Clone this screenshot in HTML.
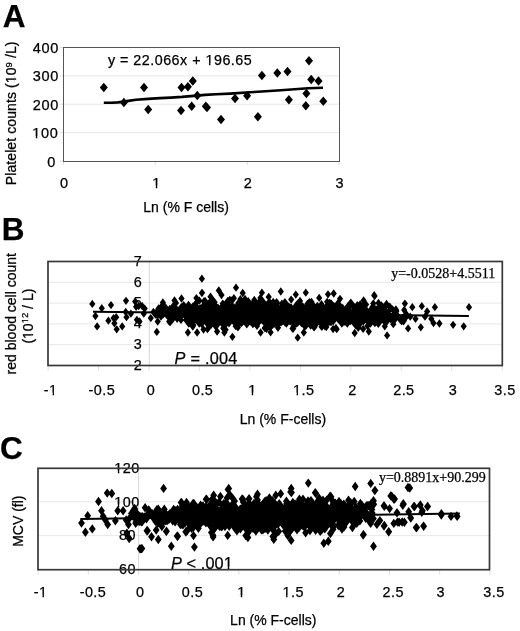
<!DOCTYPE html>
<html><head><meta charset="utf-8"><style>
html,body{margin:0;padding:0;background:#fff;width:520px;height:631px;overflow:hidden}
svg{display:block;will-change:transform;filter:blur(0.35px)}
.S{font-family:"Liberation Sans",sans-serif}
text{stroke:#000;stroke-width:0.25px}
.R{font-family:"Liberation Serif",serif}
</style></head><body>
<svg width="520" height="631" viewBox="0 0 520 631"><rect width="520" height="631" fill="#fff"/><line x1="64" x2="338.5" y1="132.6" y2="132.6" stroke="#e8e8e8"/><line x1="64" x2="338.5" y1="104.2" y2="104.2" stroke="#e8e8e8"/><line x1="64" x2="338.5" y1="75.9" y2="75.9" stroke="#e8e8e8"/><line x1="59.5" x2="63.5" y1="161.0" y2="161.0" stroke="#dedede"/><line x1="59.5" x2="63.5" y1="132.6" y2="132.6" stroke="#dedede"/><line x1="59.5" x2="63.5" y1="104.2" y2="104.2" stroke="#dedede"/><line x1="59.5" x2="63.5" y1="75.9" y2="75.9" stroke="#dedede"/><line x1="59.5" x2="63.5" y1="47.5" y2="47.5" stroke="#dedede"/><line x1="63.5" x2="63.5" y1="161" y2="165" stroke="#dedede"/><line x1="155.3" x2="155.3" y1="161" y2="165" stroke="#dedede"/><line x1="247.2" x2="247.2" y1="161" y2="165" stroke="#dedede"/><line x1="339.0" x2="339.0" y1="161" y2="165" stroke="#dedede"/><rect x="63.5" y="47.5" width="276" height="114" fill="none" stroke="#555555"/><text class="S" x="2.85" y="27.15" font-size="31.5" font-weight="bold">A</text><text class="S" x="47.20" y="166.50" font-size="14.5" letter-spacing="0.7">0</text><text class="S" x="32.27" y="138.12" font-size="14.5" letter-spacing="0.7">100</text><rect x="32.42" y="136.20" width="3.41" height="3.42" fill="#fff"/><rect x="37.28" y="136.20" width="3.30" height="3.42" fill="#fff"/><text class="S" x="32.65" y="109.75" font-size="14.5" letter-spacing="0.7">200</text><text class="S" x="32.65" y="81.38" font-size="14.5" letter-spacing="0.7">300</text><text class="S" x="32.77" y="53.00" font-size="14.5" letter-spacing="0.7">400</text><text class="S" x="60.00" y="187.65" font-size="14.5" letter-spacing="0.7">0</text><text class="S" x="152.25" y="187.65" font-size="14.5" letter-spacing="0.7">1</text><rect x="152.40" y="185.73" width="3.41" height="3.42" fill="#fff"/><rect x="157.26" y="185.73" width="3.30" height="3.42" fill="#fff"/><text class="S" x="243.66" y="187.65" font-size="14.5" letter-spacing="0.7">2</text><text class="S" x="335.49" y="187.65" font-size="14.5" letter-spacing="0.7">3</text><text class="S" x="107.90" y="65.05" font-size="14.3" letter-spacing="0.5">y = 22.066x + 196.65</text><rect x="205.65" y="63.14" width="3.37" height="3.41" fill="#fff"/><rect x="210.45" y="63.14" width="3.26" height="3.41" fill="#fff"/><text class="S" x="143.32" y="212.03" font-size="14.0">Ln (% F cells)</text><text class="S" transform="translate(16.30,185.25) rotate(-90)" font-size="14.0" letter-spacing="0.1">Platelet counts (10<tspan font-size="9.5" dy="-4.8">9</tspan><tspan dy="4.8"> /L)</tspan></text><rect x="102.20" y="-1.88" width="3.32" height="3.38" fill="#fff" transform="translate(16.30,185.25) rotate(-90)"/><rect x="106.92" y="-1.88" width="3.21" height="3.38" fill="#fff" transform="translate(16.30,185.25) rotate(-90)"/><polyline fill="none" stroke="#000" stroke-width="2.6" stroke-linejoin="round" points="103.8,102.7 112,102.7 118,102.4 124,101.6 130,100.6 136,99.8 148,98.9 160,98.1 171,97.6 182,96.9 197,95.6 205,94.9 216,94.3 230,93.6 254,92.0 281,90.2 308,88.3 323,87.8"/><path d="M99.8 87.6l4.0 -4.75 4.0 4.75 -4.0 4.75zM119.9 102.6l4.0 -4.75 4.0 4.75 -4.0 4.75zM140.0 87.6l4.0 -4.75 4.0 4.75 -4.0 4.75zM144.2 109.5l4.0 -4.75 4.0 4.75 -4.0 4.75zM177.5 87.5l4.0 -4.75 4.0 4.75 -4.0 4.75zM183.9 86.7l4.0 -4.75 4.0 4.75 -4.0 4.75zM188.8 81.0l4.0 -4.75 4.0 4.75 -4.0 4.75zM193.3 95.6l4.0 -4.75 4.0 4.75 -4.0 4.75zM177.0 110.4l4.0 -4.75 4.0 4.75 -4.0 4.75zM187.7 106.3l4.0 -4.75 4.0 4.75 -4.0 4.75zM201.8 106.3l4.0 -4.75 4.0 4.75 -4.0 4.75zM203.0 107.5l4.0 -4.75 4.0 4.75 -4.0 4.75zM217.0 119.6l4.0 -4.75 4.0 4.75 -4.0 4.75zM231.0 98.5l4.0 -4.75 4.0 4.75 -4.0 4.75zM243.1 95.8l4.0 -4.75 4.0 4.75 -4.0 4.75zM253.9 116.8l4.0 -4.75 4.0 4.75 -4.0 4.75zM257.9 75.6l4.0 -4.75 4.0 4.75 -4.0 4.75zM273.3 72.9l4.0 -4.75 4.0 4.75 -4.0 4.75zM283.5 71.5l4.0 -4.75 4.0 4.75 -4.0 4.75zM284.9 99.8l4.0 -4.75 4.0 4.75 -4.0 4.75zM305.0 60.8l4.0 -4.75 4.0 4.75 -4.0 4.75zM307.2 79.6l4.0 -4.75 4.0 4.75 -4.0 4.75zM314.5 81.0l4.0 -4.75 4.0 4.75 -4.0 4.75zM302.4 93.6l4.0 -4.75 4.0 4.75 -4.0 4.75zM301.8 105.7l4.0 -4.75 4.0 4.75 -4.0 4.75zM319.3 101.2l4.0 -4.75 4.0 4.75 -4.0 4.75z"/><line x1="49" x2="501.5" y1="344.7" y2="344.7" stroke="#e8e8e8"/><line x1="49" x2="501.5" y1="323.9" y2="323.9" stroke="#e8e8e8"/><line x1="49" x2="501.5" y1="303.1" y2="303.1" stroke="#e8e8e8"/><line x1="49" x2="501.5" y1="282.3" y2="282.3" stroke="#e8e8e8"/><line x1="149.3" x2="149.3" y1="262" y2="365" stroke="#d8d8d8"/><line x1="48.1" x2="48.1" y1="366" y2="371" stroke="#e2e2e2"/><line x1="98.5" x2="98.5" y1="366" y2="371" stroke="#e2e2e2"/><line x1="149.0" x2="149.0" y1="366" y2="371" stroke="#e2e2e2"/><line x1="199.4" x2="199.4" y1="366" y2="371" stroke="#e2e2e2"/><line x1="249.9" x2="249.9" y1="366" y2="371" stroke="#e2e2e2"/><line x1="300.4" x2="300.4" y1="366" y2="371" stroke="#e2e2e2"/><line x1="350.8" x2="350.8" y1="366" y2="371" stroke="#e2e2e2"/><line x1="401.2" x2="401.2" y1="366" y2="371" stroke="#e2e2e2"/><line x1="451.7" x2="451.7" y1="366" y2="371" stroke="#e2e2e2"/><line x1="502.2" x2="502.2" y1="366" y2="371" stroke="#e2e2e2"/><text class="S" x="133.70" y="369.70" font-size="14.4" letter-spacing="0.45">2</text><text class="S" x="133.70" y="348.90" font-size="14.4" letter-spacing="0.45">3</text><text class="S" x="133.70" y="327.97" font-size="14.4" letter-spacing="0.45">4</text><text class="S" x="133.70" y="307.18" font-size="14.4" letter-spacing="0.45">5</text><text class="S" x="133.70" y="286.50" font-size="14.4" letter-spacing="0.45">6</text><text class="S" x="133.70" y="265.57" font-size="14.4" letter-spacing="0.45">7</text><path d="M345.5 308.0l3.1 -4.15 3.1 4.15 -3.1 4.15zM352.0 317.6l3.1 -4.15 3.1 4.15 -3.1 4.15zM345.1 314.0l3.1 -4.15 3.1 4.15 -3.1 4.15zM154.9 310.1l3.1 -4.15 3.1 4.15 -3.1 4.15zM203.2 314.5l3.1 -4.15 3.1 4.15 -3.1 4.15zM275.8 321.8l3.1 -4.15 3.1 4.15 -3.1 4.15zM203.8 323.3l3.1 -4.15 3.1 4.15 -3.1 4.15zM291.6 315.9l3.1 -4.15 3.1 4.15 -3.1 4.15zM178.3 310.6l3.1 -4.15 3.1 4.15 -3.1 4.15zM256.6 301.3l3.1 -4.15 3.1 4.15 -3.1 4.15zM225.8 316.9l3.1 -4.15 3.1 4.15 -3.1 4.15zM300.0 306.8l3.1 -4.15 3.1 4.15 -3.1 4.15zM354.2 305.1l3.1 -4.15 3.1 4.15 -3.1 4.15zM322.3 311.9l3.1 -4.15 3.1 4.15 -3.1 4.15zM279.1 309.0l3.1 -4.15 3.1 4.15 -3.1 4.15zM154.6 315.0l3.1 -4.15 3.1 4.15 -3.1 4.15zM249.2 322.8l3.1 -4.15 3.1 4.15 -3.1 4.15zM287.2 312.5l3.1 -4.15 3.1 4.15 -3.1 4.15zM280.5 309.8l3.1 -4.15 3.1 4.15 -3.1 4.15zM289.4 315.5l3.1 -4.15 3.1 4.15 -3.1 4.15zM292.9 320.7l3.1 -4.15 3.1 4.15 -3.1 4.15zM198.9 308.1l3.1 -4.15 3.1 4.15 -3.1 4.15zM239.7 308.2l3.1 -4.15 3.1 4.15 -3.1 4.15zM266.0 306.5l3.1 -4.15 3.1 4.15 -3.1 4.15zM193.0 315.5l3.1 -4.15 3.1 4.15 -3.1 4.15zM359.2 306.9l3.1 -4.15 3.1 4.15 -3.1 4.15zM321.9 326.3l3.1 -4.15 3.1 4.15 -3.1 4.15zM211.8 314.0l3.1 -4.15 3.1 4.15 -3.1 4.15zM236.4 308.9l3.1 -4.15 3.1 4.15 -3.1 4.15zM217.9 312.7l3.1 -4.15 3.1 4.15 -3.1 4.15zM230.6 307.4l3.1 -4.15 3.1 4.15 -3.1 4.15zM195.8 316.4l3.1 -4.15 3.1 4.15 -3.1 4.15zM279.5 314.3l3.1 -4.15 3.1 4.15 -3.1 4.15zM333.8 313.6l3.1 -4.15 3.1 4.15 -3.1 4.15zM323.2 327.0l3.1 -4.15 3.1 4.15 -3.1 4.15zM281.2 312.4l3.1 -4.15 3.1 4.15 -3.1 4.15zM249.6 312.3l3.1 -4.15 3.1 4.15 -3.1 4.15zM224.5 311.9l3.1 -4.15 3.1 4.15 -3.1 4.15zM226.6 321.6l3.1 -4.15 3.1 4.15 -3.1 4.15zM255.1 309.0l3.1 -4.15 3.1 4.15 -3.1 4.15zM375.4 320.7l3.1 -4.15 3.1 4.15 -3.1 4.15zM279.2 312.2l3.1 -4.15 3.1 4.15 -3.1 4.15zM200.4 313.9l3.1 -4.15 3.1 4.15 -3.1 4.15zM320.0 316.6l3.1 -4.15 3.1 4.15 -3.1 4.15zM231.5 317.0l3.1 -4.15 3.1 4.15 -3.1 4.15zM232.1 313.8l3.1 -4.15 3.1 4.15 -3.1 4.15zM235.1 320.0l3.1 -4.15 3.1 4.15 -3.1 4.15zM236.3 302.7l3.1 -4.15 3.1 4.15 -3.1 4.15zM272.9 313.3l3.1 -4.15 3.1 4.15 -3.1 4.15zM202.3 310.8l3.1 -4.15 3.1 4.15 -3.1 4.15zM235.4 302.8l3.1 -4.15 3.1 4.15 -3.1 4.15zM377.6 308.0l3.1 -4.15 3.1 4.15 -3.1 4.15zM174.0 318.8l3.1 -4.15 3.1 4.15 -3.1 4.15zM362.3 308.8l3.1 -4.15 3.1 4.15 -3.1 4.15zM350.2 315.0l3.1 -4.15 3.1 4.15 -3.1 4.15zM216.2 315.4l3.1 -4.15 3.1 4.15 -3.1 4.15zM219.0 321.3l3.1 -4.15 3.1 4.15 -3.1 4.15zM170.7 313.1l3.1 -4.15 3.1 4.15 -3.1 4.15zM176.9 312.7l3.1 -4.15 3.1 4.15 -3.1 4.15zM223.3 310.8l3.1 -4.15 3.1 4.15 -3.1 4.15zM157.2 311.3l3.1 -4.15 3.1 4.15 -3.1 4.15zM263.9 323.4l3.1 -4.15 3.1 4.15 -3.1 4.15zM202.9 305.1l3.1 -4.15 3.1 4.15 -3.1 4.15zM319.0 312.2l3.1 -4.15 3.1 4.15 -3.1 4.15zM226.8 309.2l3.1 -4.15 3.1 4.15 -3.1 4.15zM263.4 328.9l3.1 -4.15 3.1 4.15 -3.1 4.15zM226.7 319.9l3.1 -4.15 3.1 4.15 -3.1 4.15zM225.6 303.9l3.1 -4.15 3.1 4.15 -3.1 4.15zM297.4 319.6l3.1 -4.15 3.1 4.15 -3.1 4.15zM165.3 313.0l3.1 -4.15 3.1 4.15 -3.1 4.15zM222.5 315.3l3.1 -4.15 3.1 4.15 -3.1 4.15zM277.3 310.6l3.1 -4.15 3.1 4.15 -3.1 4.15zM360.5 300.5l3.1 -4.15 3.1 4.15 -3.1 4.15zM223.2 311.8l3.1 -4.15 3.1 4.15 -3.1 4.15zM383.6 321.8l3.1 -4.15 3.1 4.15 -3.1 4.15zM193.2 306.0l3.1 -4.15 3.1 4.15 -3.1 4.15zM212.6 315.6l3.1 -4.15 3.1 4.15 -3.1 4.15zM287.7 307.6l3.1 -4.15 3.1 4.15 -3.1 4.15zM249.8 321.3l3.1 -4.15 3.1 4.15 -3.1 4.15zM255.2 315.3l3.1 -4.15 3.1 4.15 -3.1 4.15zM239.2 312.6l3.1 -4.15 3.1 4.15 -3.1 4.15zM250.3 323.7l3.1 -4.15 3.1 4.15 -3.1 4.15zM207.6 305.3l3.1 -4.15 3.1 4.15 -3.1 4.15zM260.9 313.6l3.1 -4.15 3.1 4.15 -3.1 4.15zM208.9 314.0l3.1 -4.15 3.1 4.15 -3.1 4.15zM292.6 319.5l3.1 -4.15 3.1 4.15 -3.1 4.15zM218.5 321.3l3.1 -4.15 3.1 4.15 -3.1 4.15zM375.0 317.3l3.1 -4.15 3.1 4.15 -3.1 4.15zM243.5 304.7l3.1 -4.15 3.1 4.15 -3.1 4.15zM295.4 308.1l3.1 -4.15 3.1 4.15 -3.1 4.15zM203.5 320.8l3.1 -4.15 3.1 4.15 -3.1 4.15zM333.4 316.9l3.1 -4.15 3.1 4.15 -3.1 4.15zM189.7 324.5l3.1 -4.15 3.1 4.15 -3.1 4.15zM310.3 313.1l3.1 -4.15 3.1 4.15 -3.1 4.15zM318.4 326.7l3.1 -4.15 3.1 4.15 -3.1 4.15zM246.3 306.9l3.1 -4.15 3.1 4.15 -3.1 4.15zM189.7 326.5l3.1 -4.15 3.1 4.15 -3.1 4.15zM253.0 306.2l3.1 -4.15 3.1 4.15 -3.1 4.15zM211.4 316.1l3.1 -4.15 3.1 4.15 -3.1 4.15zM304.4 321.7l3.1 -4.15 3.1 4.15 -3.1 4.15zM220.9 309.7l3.1 -4.15 3.1 4.15 -3.1 4.15zM288.7 311.9l3.1 -4.15 3.1 4.15 -3.1 4.15zM246.5 314.9l3.1 -4.15 3.1 4.15 -3.1 4.15zM341.2 312.3l3.1 -4.15 3.1 4.15 -3.1 4.15zM182.4 311.0l3.1 -4.15 3.1 4.15 -3.1 4.15zM239.7 321.7l3.1 -4.15 3.1 4.15 -3.1 4.15zM261.9 306.1l3.1 -4.15 3.1 4.15 -3.1 4.15zM324.6 319.7l3.1 -4.15 3.1 4.15 -3.1 4.15zM245.1 311.8l3.1 -4.15 3.1 4.15 -3.1 4.15zM279.7 321.1l3.1 -4.15 3.1 4.15 -3.1 4.15zM226.3 308.3l3.1 -4.15 3.1 4.15 -3.1 4.15zM257.6 312.7l3.1 -4.15 3.1 4.15 -3.1 4.15zM298.9 314.1l3.1 -4.15 3.1 4.15 -3.1 4.15zM315.6 308.2l3.1 -4.15 3.1 4.15 -3.1 4.15zM310.5 316.3l3.1 -4.15 3.1 4.15 -3.1 4.15zM304.3 303.9l3.1 -4.15 3.1 4.15 -3.1 4.15zM288.4 308.0l3.1 -4.15 3.1 4.15 -3.1 4.15zM340.5 315.1l3.1 -4.15 3.1 4.15 -3.1 4.15zM317.7 321.9l3.1 -4.15 3.1 4.15 -3.1 4.15zM251.4 310.8l3.1 -4.15 3.1 4.15 -3.1 4.15zM201.2 312.8l3.1 -4.15 3.1 4.15 -3.1 4.15zM242.6 315.6l3.1 -4.15 3.1 4.15 -3.1 4.15zM190.7 314.4l3.1 -4.15 3.1 4.15 -3.1 4.15zM305.4 310.2l3.1 -4.15 3.1 4.15 -3.1 4.15zM191.7 311.3l3.1 -4.15 3.1 4.15 -3.1 4.15zM366.3 317.7l3.1 -4.15 3.1 4.15 -3.1 4.15zM308.7 314.9l3.1 -4.15 3.1 4.15 -3.1 4.15zM196.3 300.7l3.1 -4.15 3.1 4.15 -3.1 4.15zM304.5 316.1l3.1 -4.15 3.1 4.15 -3.1 4.15zM333.0 316.5l3.1 -4.15 3.1 4.15 -3.1 4.15zM209.4 312.3l3.1 -4.15 3.1 4.15 -3.1 4.15zM250.1 316.9l3.1 -4.15 3.1 4.15 -3.1 4.15zM195.5 315.6l3.1 -4.15 3.1 4.15 -3.1 4.15zM306.3 311.8l3.1 -4.15 3.1 4.15 -3.1 4.15zM275.6 315.4l3.1 -4.15 3.1 4.15 -3.1 4.15zM267.2 327.6l3.1 -4.15 3.1 4.15 -3.1 4.15zM332.8 328.0l3.1 -4.15 3.1 4.15 -3.1 4.15zM369.9 306.9l3.1 -4.15 3.1 4.15 -3.1 4.15zM297.8 320.7l3.1 -4.15 3.1 4.15 -3.1 4.15zM319.8 308.3l3.1 -4.15 3.1 4.15 -3.1 4.15zM180.7 313.7l3.1 -4.15 3.1 4.15 -3.1 4.15zM177.4 312.0l3.1 -4.15 3.1 4.15 -3.1 4.15zM312.7 318.7l3.1 -4.15 3.1 4.15 -3.1 4.15zM248.2 307.0l3.1 -4.15 3.1 4.15 -3.1 4.15zM313.7 323.3l3.1 -4.15 3.1 4.15 -3.1 4.15zM237.8 310.6l3.1 -4.15 3.1 4.15 -3.1 4.15zM282.7 310.9l3.1 -4.15 3.1 4.15 -3.1 4.15zM319.1 316.1l3.1 -4.15 3.1 4.15 -3.1 4.15zM212.3 326.0l3.1 -4.15 3.1 4.15 -3.1 4.15zM368.5 308.7l3.1 -4.15 3.1 4.15 -3.1 4.15zM243.2 305.5l3.1 -4.15 3.1 4.15 -3.1 4.15zM180.2 312.0l3.1 -4.15 3.1 4.15 -3.1 4.15zM376.3 321.9l3.1 -4.15 3.1 4.15 -3.1 4.15zM169.2 316.2l3.1 -4.15 3.1 4.15 -3.1 4.15zM337.4 317.9l3.1 -4.15 3.1 4.15 -3.1 4.15zM369.4 306.9l3.1 -4.15 3.1 4.15 -3.1 4.15zM210.7 308.1l3.1 -4.15 3.1 4.15 -3.1 4.15zM263.5 321.7l3.1 -4.15 3.1 4.15 -3.1 4.15zM286.2 313.2l3.1 -4.15 3.1 4.15 -3.1 4.15zM243.2 317.7l3.1 -4.15 3.1 4.15 -3.1 4.15zM236.7 317.7l3.1 -4.15 3.1 4.15 -3.1 4.15zM228.4 306.1l3.1 -4.15 3.1 4.15 -3.1 4.15zM231.5 310.3l3.1 -4.15 3.1 4.15 -3.1 4.15zM232.1 312.9l3.1 -4.15 3.1 4.15 -3.1 4.15zM271.6 323.6l3.1 -4.15 3.1 4.15 -3.1 4.15zM355.3 313.1l3.1 -4.15 3.1 4.15 -3.1 4.15zM296.6 311.5l3.1 -4.15 3.1 4.15 -3.1 4.15zM240.9 304.9l3.1 -4.15 3.1 4.15 -3.1 4.15zM251.6 310.4l3.1 -4.15 3.1 4.15 -3.1 4.15zM293.2 313.1l3.1 -4.15 3.1 4.15 -3.1 4.15zM253.8 321.3l3.1 -4.15 3.1 4.15 -3.1 4.15zM216.0 317.2l3.1 -4.15 3.1 4.15 -3.1 4.15zM311.3 327.2l3.1 -4.15 3.1 4.15 -3.1 4.15zM314.1 318.8l3.1 -4.15 3.1 4.15 -3.1 4.15zM220.7 320.8l3.1 -4.15 3.1 4.15 -3.1 4.15zM257.5 305.1l3.1 -4.15 3.1 4.15 -3.1 4.15zM199.3 307.0l3.1 -4.15 3.1 4.15 -3.1 4.15zM251.9 313.0l3.1 -4.15 3.1 4.15 -3.1 4.15zM298.9 310.7l3.1 -4.15 3.1 4.15 -3.1 4.15zM224.7 314.6l3.1 -4.15 3.1 4.15 -3.1 4.15zM178.1 312.6l3.1 -4.15 3.1 4.15 -3.1 4.15zM288.1 299.6l3.1 -4.15 3.1 4.15 -3.1 4.15zM283.6 319.2l3.1 -4.15 3.1 4.15 -3.1 4.15zM310.7 312.7l3.1 -4.15 3.1 4.15 -3.1 4.15zM278.5 317.1l3.1 -4.15 3.1 4.15 -3.1 4.15zM338.3 314.1l3.1 -4.15 3.1 4.15 -3.1 4.15zM251.5 308.0l3.1 -4.15 3.1 4.15 -3.1 4.15zM246.6 303.4l3.1 -4.15 3.1 4.15 -3.1 4.15zM243.8 310.4l3.1 -4.15 3.1 4.15 -3.1 4.15zM177.2 316.4l3.1 -4.15 3.1 4.15 -3.1 4.15zM214.6 308.8l3.1 -4.15 3.1 4.15 -3.1 4.15zM214.0 331.5l3.1 -4.15 3.1 4.15 -3.1 4.15zM326.6 306.4l3.1 -4.15 3.1 4.15 -3.1 4.15zM274.7 314.6l3.1 -4.15 3.1 4.15 -3.1 4.15zM170.7 312.8l3.1 -4.15 3.1 4.15 -3.1 4.15zM212.7 314.4l3.1 -4.15 3.1 4.15 -3.1 4.15zM250.7 319.9l3.1 -4.15 3.1 4.15 -3.1 4.15zM285.9 317.9l3.1 -4.15 3.1 4.15 -3.1 4.15zM290.6 317.1l3.1 -4.15 3.1 4.15 -3.1 4.15zM219.4 316.1l3.1 -4.15 3.1 4.15 -3.1 4.15zM322.9 312.3l3.1 -4.15 3.1 4.15 -3.1 4.15zM278.9 308.4l3.1 -4.15 3.1 4.15 -3.1 4.15zM368.9 317.4l3.1 -4.15 3.1 4.15 -3.1 4.15zM282.3 311.9l3.1 -4.15 3.1 4.15 -3.1 4.15zM274.9 315.9l3.1 -4.15 3.1 4.15 -3.1 4.15zM234.5 325.8l3.1 -4.15 3.1 4.15 -3.1 4.15zM216.5 313.8l3.1 -4.15 3.1 4.15 -3.1 4.15zM206.3 302.7l3.1 -4.15 3.1 4.15 -3.1 4.15zM253.9 304.2l3.1 -4.15 3.1 4.15 -3.1 4.15zM305.2 311.4l3.1 -4.15 3.1 4.15 -3.1 4.15zM219.6 314.4l3.1 -4.15 3.1 4.15 -3.1 4.15zM269.2 318.8l3.1 -4.15 3.1 4.15 -3.1 4.15zM194.0 311.3l3.1 -4.15 3.1 4.15 -3.1 4.15zM231.7 313.0l3.1 -4.15 3.1 4.15 -3.1 4.15zM228.9 315.4l3.1 -4.15 3.1 4.15 -3.1 4.15zM213.6 315.3l3.1 -4.15 3.1 4.15 -3.1 4.15zM329.7 314.9l3.1 -4.15 3.1 4.15 -3.1 4.15zM294.5 317.6l3.1 -4.15 3.1 4.15 -3.1 4.15zM226.3 315.1l3.1 -4.15 3.1 4.15 -3.1 4.15zM303.2 325.3l3.1 -4.15 3.1 4.15 -3.1 4.15zM232.7 314.4l3.1 -4.15 3.1 4.15 -3.1 4.15zM157.6 307.4l3.1 -4.15 3.1 4.15 -3.1 4.15zM173.7 313.6l3.1 -4.15 3.1 4.15 -3.1 4.15zM183.0 313.2l3.1 -4.15 3.1 4.15 -3.1 4.15zM312.9 313.3l3.1 -4.15 3.1 4.15 -3.1 4.15zM230.6 319.8l3.1 -4.15 3.1 4.15 -3.1 4.15zM323.4 308.5l3.1 -4.15 3.1 4.15 -3.1 4.15zM249.3 310.9l3.1 -4.15 3.1 4.15 -3.1 4.15zM289.7 315.7l3.1 -4.15 3.1 4.15 -3.1 4.15zM259.9 317.0l3.1 -4.15 3.1 4.15 -3.1 4.15zM217.3 311.1l3.1 -4.15 3.1 4.15 -3.1 4.15zM244.0 314.9l3.1 -4.15 3.1 4.15 -3.1 4.15zM288.5 313.5l3.1 -4.15 3.1 4.15 -3.1 4.15zM227.0 311.6l3.1 -4.15 3.1 4.15 -3.1 4.15zM384.4 316.9l3.1 -4.15 3.1 4.15 -3.1 4.15zM367.4 323.5l3.1 -4.15 3.1 4.15 -3.1 4.15zM246.2 308.7l3.1 -4.15 3.1 4.15 -3.1 4.15zM320.3 311.9l3.1 -4.15 3.1 4.15 -3.1 4.15zM245.6 304.4l3.1 -4.15 3.1 4.15 -3.1 4.15zM302.5 316.5l3.1 -4.15 3.1 4.15 -3.1 4.15zM253.1 311.6l3.1 -4.15 3.1 4.15 -3.1 4.15zM330.0 314.8l3.1 -4.15 3.1 4.15 -3.1 4.15zM175.8 310.9l3.1 -4.15 3.1 4.15 -3.1 4.15zM317.2 317.6l3.1 -4.15 3.1 4.15 -3.1 4.15zM210.6 306.6l3.1 -4.15 3.1 4.15 -3.1 4.15zM347.6 312.9l3.1 -4.15 3.1 4.15 -3.1 4.15zM244.7 305.7l3.1 -4.15 3.1 4.15 -3.1 4.15zM312.0 318.4l3.1 -4.15 3.1 4.15 -3.1 4.15zM191.7 308.9l3.1 -4.15 3.1 4.15 -3.1 4.15zM400.5 321.3l3.1 -4.15 3.1 4.15 -3.1 4.15zM246.5 312.8l3.1 -4.15 3.1 4.15 -3.1 4.15zM234.2 311.0l3.1 -4.15 3.1 4.15 -3.1 4.15zM350.9 306.6l3.1 -4.15 3.1 4.15 -3.1 4.15zM334.9 314.9l3.1 -4.15 3.1 4.15 -3.1 4.15zM287.8 315.6l3.1 -4.15 3.1 4.15 -3.1 4.15zM244.7 309.9l3.1 -4.15 3.1 4.15 -3.1 4.15zM166.3 309.5l3.1 -4.15 3.1 4.15 -3.1 4.15zM221.9 304.9l3.1 -4.15 3.1 4.15 -3.1 4.15zM311.7 309.1l3.1 -4.15 3.1 4.15 -3.1 4.15zM319.1 312.6l3.1 -4.15 3.1 4.15 -3.1 4.15zM299.1 317.6l3.1 -4.15 3.1 4.15 -3.1 4.15zM326.5 303.0l3.1 -4.15 3.1 4.15 -3.1 4.15zM211.4 308.6l3.1 -4.15 3.1 4.15 -3.1 4.15zM292.5 309.8l3.1 -4.15 3.1 4.15 -3.1 4.15zM228.0 300.3l3.1 -4.15 3.1 4.15 -3.1 4.15zM330.9 306.2l3.1 -4.15 3.1 4.15 -3.1 4.15zM263.6 316.4l3.1 -4.15 3.1 4.15 -3.1 4.15zM248.1 318.3l3.1 -4.15 3.1 4.15 -3.1 4.15zM240.5 318.7l3.1 -4.15 3.1 4.15 -3.1 4.15zM308.6 306.5l3.1 -4.15 3.1 4.15 -3.1 4.15zM184.0 312.0l3.1 -4.15 3.1 4.15 -3.1 4.15zM185.6 317.7l3.1 -4.15 3.1 4.15 -3.1 4.15zM198.0 314.7l3.1 -4.15 3.1 4.15 -3.1 4.15zM290.9 321.5l3.1 -4.15 3.1 4.15 -3.1 4.15zM309.5 322.5l3.1 -4.15 3.1 4.15 -3.1 4.15zM246.4 316.7l3.1 -4.15 3.1 4.15 -3.1 4.15zM246.1 318.6l3.1 -4.15 3.1 4.15 -3.1 4.15zM364.9 314.5l3.1 -4.15 3.1 4.15 -3.1 4.15zM237.3 315.8l3.1 -4.15 3.1 4.15 -3.1 4.15zM267.4 310.5l3.1 -4.15 3.1 4.15 -3.1 4.15zM301.0 314.1l3.1 -4.15 3.1 4.15 -3.1 4.15zM362.3 316.4l3.1 -4.15 3.1 4.15 -3.1 4.15zM311.6 310.5l3.1 -4.15 3.1 4.15 -3.1 4.15zM359.9 314.7l3.1 -4.15 3.1 4.15 -3.1 4.15zM213.1 317.0l3.1 -4.15 3.1 4.15 -3.1 4.15zM245.2 322.3l3.1 -4.15 3.1 4.15 -3.1 4.15zM216.5 318.8l3.1 -4.15 3.1 4.15 -3.1 4.15zM346.8 312.0l3.1 -4.15 3.1 4.15 -3.1 4.15zM264.9 317.9l3.1 -4.15 3.1 4.15 -3.1 4.15zM261.8 307.7l3.1 -4.15 3.1 4.15 -3.1 4.15zM196.3 314.5l3.1 -4.15 3.1 4.15 -3.1 4.15zM348.9 318.9l3.1 -4.15 3.1 4.15 -3.1 4.15zM266.1 323.5l3.1 -4.15 3.1 4.15 -3.1 4.15zM221.1 322.7l3.1 -4.15 3.1 4.15 -3.1 4.15zM249.9 317.8l3.1 -4.15 3.1 4.15 -3.1 4.15zM249.4 307.0l3.1 -4.15 3.1 4.15 -3.1 4.15zM257.9 317.9l3.1 -4.15 3.1 4.15 -3.1 4.15zM368.2 319.8l3.1 -4.15 3.1 4.15 -3.1 4.15zM254.8 311.3l3.1 -4.15 3.1 4.15 -3.1 4.15zM296.1 312.9l3.1 -4.15 3.1 4.15 -3.1 4.15zM234.4 308.8l3.1 -4.15 3.1 4.15 -3.1 4.15zM273.0 308.4l3.1 -4.15 3.1 4.15 -3.1 4.15zM262.9 316.9l3.1 -4.15 3.1 4.15 -3.1 4.15zM231.4 313.4l3.1 -4.15 3.1 4.15 -3.1 4.15zM185.4 304.8l3.1 -4.15 3.1 4.15 -3.1 4.15zM305.2 313.4l3.1 -4.15 3.1 4.15 -3.1 4.15zM310.9 320.9l3.1 -4.15 3.1 4.15 -3.1 4.15zM296.1 312.2l3.1 -4.15 3.1 4.15 -3.1 4.15zM216.4 312.6l3.1 -4.15 3.1 4.15 -3.1 4.15zM201.7 308.9l3.1 -4.15 3.1 4.15 -3.1 4.15zM338.7 323.5l3.1 -4.15 3.1 4.15 -3.1 4.15zM181.5 311.7l3.1 -4.15 3.1 4.15 -3.1 4.15zM341.2 314.5l3.1 -4.15 3.1 4.15 -3.1 4.15zM257.3 298.0l3.1 -4.15 3.1 4.15 -3.1 4.15zM176.7 314.9l3.1 -4.15 3.1 4.15 -3.1 4.15zM197.9 315.8l3.1 -4.15 3.1 4.15 -3.1 4.15zM234.0 315.8l3.1 -4.15 3.1 4.15 -3.1 4.15zM290.4 326.3l3.1 -4.15 3.1 4.15 -3.1 4.15zM201.4 309.3l3.1 -4.15 3.1 4.15 -3.1 4.15zM316.8 319.5l3.1 -4.15 3.1 4.15 -3.1 4.15zM324.8 309.2l3.1 -4.15 3.1 4.15 -3.1 4.15zM152.9 314.9l3.1 -4.15 3.1 4.15 -3.1 4.15zM309.6 306.6l3.1 -4.15 3.1 4.15 -3.1 4.15zM236.2 316.9l3.1 -4.15 3.1 4.15 -3.1 4.15zM293.4 306.0l3.1 -4.15 3.1 4.15 -3.1 4.15zM296.6 315.2l3.1 -4.15 3.1 4.15 -3.1 4.15zM269.4 306.9l3.1 -4.15 3.1 4.15 -3.1 4.15zM214.3 312.1l3.1 -4.15 3.1 4.15 -3.1 4.15zM378.8 311.7l3.1 -4.15 3.1 4.15 -3.1 4.15zM327.9 303.5l3.1 -4.15 3.1 4.15 -3.1 4.15zM260.6 313.8l3.1 -4.15 3.1 4.15 -3.1 4.15zM226.6 312.6l3.1 -4.15 3.1 4.15 -3.1 4.15zM300.1 314.7l3.1 -4.15 3.1 4.15 -3.1 4.15zM314.7 316.4l3.1 -4.15 3.1 4.15 -3.1 4.15zM207.4 316.9l3.1 -4.15 3.1 4.15 -3.1 4.15zM278.0 322.3l3.1 -4.15 3.1 4.15 -3.1 4.15zM223.3 302.8l3.1 -4.15 3.1 4.15 -3.1 4.15zM166.2 314.4l3.1 -4.15 3.1 4.15 -3.1 4.15zM304.9 314.4l3.1 -4.15 3.1 4.15 -3.1 4.15zM201.5 318.4l3.1 -4.15 3.1 4.15 -3.1 4.15zM226.8 318.4l3.1 -4.15 3.1 4.15 -3.1 4.15zM290.9 315.0l3.1 -4.15 3.1 4.15 -3.1 4.15zM229.5 311.6l3.1 -4.15 3.1 4.15 -3.1 4.15zM218.7 319.8l3.1 -4.15 3.1 4.15 -3.1 4.15zM277.2 313.8l3.1 -4.15 3.1 4.15 -3.1 4.15zM215.7 290.5l3.1 -4.15 3.1 4.15 -3.1 4.15zM279.8 315.9l3.1 -4.15 3.1 4.15 -3.1 4.15zM164.1 312.5l3.1 -4.15 3.1 4.15 -3.1 4.15zM233.4 314.6l3.1 -4.15 3.1 4.15 -3.1 4.15zM223.7 316.8l3.1 -4.15 3.1 4.15 -3.1 4.15zM207.6 313.6l3.1 -4.15 3.1 4.15 -3.1 4.15zM264.6 320.6l3.1 -4.15 3.1 4.15 -3.1 4.15zM313.3 321.4l3.1 -4.15 3.1 4.15 -3.1 4.15zM375.2 323.9l3.1 -4.15 3.1 4.15 -3.1 4.15zM185.9 309.6l3.1 -4.15 3.1 4.15 -3.1 4.15zM262.0 319.7l3.1 -4.15 3.1 4.15 -3.1 4.15zM177.9 319.9l3.1 -4.15 3.1 4.15 -3.1 4.15zM357.9 322.3l3.1 -4.15 3.1 4.15 -3.1 4.15zM212.5 318.8l3.1 -4.15 3.1 4.15 -3.1 4.15zM197.5 313.8l3.1 -4.15 3.1 4.15 -3.1 4.15zM306.9 310.6l3.1 -4.15 3.1 4.15 -3.1 4.15zM176.5 314.0l3.1 -4.15 3.1 4.15 -3.1 4.15zM343.1 311.7l3.1 -4.15 3.1 4.15 -3.1 4.15zM269.4 319.8l3.1 -4.15 3.1 4.15 -3.1 4.15zM190.6 312.3l3.1 -4.15 3.1 4.15 -3.1 4.15zM265.9 309.6l3.1 -4.15 3.1 4.15 -3.1 4.15zM208.1 317.1l3.1 -4.15 3.1 4.15 -3.1 4.15zM258.3 310.0l3.1 -4.15 3.1 4.15 -3.1 4.15zM324.9 294.3l3.1 -4.15 3.1 4.15 -3.1 4.15zM335.7 311.4l3.1 -4.15 3.1 4.15 -3.1 4.15zM320.0 316.1l3.1 -4.15 3.1 4.15 -3.1 4.15zM217.3 312.8l3.1 -4.15 3.1 4.15 -3.1 4.15zM201.5 310.5l3.1 -4.15 3.1 4.15 -3.1 4.15zM240.4 318.3l3.1 -4.15 3.1 4.15 -3.1 4.15zM328.3 318.9l3.1 -4.15 3.1 4.15 -3.1 4.15zM378.4 319.6l3.1 -4.15 3.1 4.15 -3.1 4.15zM227.9 302.0l3.1 -4.15 3.1 4.15 -3.1 4.15zM287.8 311.1l3.1 -4.15 3.1 4.15 -3.1 4.15zM297.9 310.5l3.1 -4.15 3.1 4.15 -3.1 4.15zM166.2 315.7l3.1 -4.15 3.1 4.15 -3.1 4.15zM181.6 311.7l3.1 -4.15 3.1 4.15 -3.1 4.15zM240.6 314.8l3.1 -4.15 3.1 4.15 -3.1 4.15zM372.4 316.3l3.1 -4.15 3.1 4.15 -3.1 4.15zM296.4 318.7l3.1 -4.15 3.1 4.15 -3.1 4.15zM403.1 314.0l3.1 -4.15 3.1 4.15 -3.1 4.15zM292.3 314.3l3.1 -4.15 3.1 4.15 -3.1 4.15zM229.8 320.7l3.1 -4.15 3.1 4.15 -3.1 4.15zM271.9 313.6l3.1 -4.15 3.1 4.15 -3.1 4.15zM370.3 312.3l3.1 -4.15 3.1 4.15 -3.1 4.15zM363.8 318.3l3.1 -4.15 3.1 4.15 -3.1 4.15zM273.7 312.7l3.1 -4.15 3.1 4.15 -3.1 4.15zM259.1 311.9l3.1 -4.15 3.1 4.15 -3.1 4.15zM239.6 306.9l3.1 -4.15 3.1 4.15 -3.1 4.15zM322.5 311.1l3.1 -4.15 3.1 4.15 -3.1 4.15zM250.1 317.4l3.1 -4.15 3.1 4.15 -3.1 4.15zM263.7 309.9l3.1 -4.15 3.1 4.15 -3.1 4.15zM210.1 313.0l3.1 -4.15 3.1 4.15 -3.1 4.15zM278.8 312.4l3.1 -4.15 3.1 4.15 -3.1 4.15zM293.3 304.9l3.1 -4.15 3.1 4.15 -3.1 4.15zM339.8 312.5l3.1 -4.15 3.1 4.15 -3.1 4.15zM325.7 321.7l3.1 -4.15 3.1 4.15 -3.1 4.15zM239.7 318.2l3.1 -4.15 3.1 4.15 -3.1 4.15zM294.4 313.1l3.1 -4.15 3.1 4.15 -3.1 4.15zM207.7 313.2l3.1 -4.15 3.1 4.15 -3.1 4.15zM317.1 317.0l3.1 -4.15 3.1 4.15 -3.1 4.15zM215.0 313.1l3.1 -4.15 3.1 4.15 -3.1 4.15zM307.4 308.8l3.1 -4.15 3.1 4.15 -3.1 4.15zM290.5 316.6l3.1 -4.15 3.1 4.15 -3.1 4.15zM351.6 333.0l3.1 -4.15 3.1 4.15 -3.1 4.15zM177.9 313.2l3.1 -4.15 3.1 4.15 -3.1 4.15zM261.2 314.6l3.1 -4.15 3.1 4.15 -3.1 4.15zM334.6 313.1l3.1 -4.15 3.1 4.15 -3.1 4.15zM262.2 314.6l3.1 -4.15 3.1 4.15 -3.1 4.15zM197.3 311.9l3.1 -4.15 3.1 4.15 -3.1 4.15zM248.2 316.9l3.1 -4.15 3.1 4.15 -3.1 4.15zM193.8 318.8l3.1 -4.15 3.1 4.15 -3.1 4.15zM354.5 315.8l3.1 -4.15 3.1 4.15 -3.1 4.15zM261.7 328.2l3.1 -4.15 3.1 4.15 -3.1 4.15zM278.8 303.7l3.1 -4.15 3.1 4.15 -3.1 4.15zM339.5 320.8l3.1 -4.15 3.1 4.15 -3.1 4.15zM305.8 315.4l3.1 -4.15 3.1 4.15 -3.1 4.15zM375.0 321.8l3.1 -4.15 3.1 4.15 -3.1 4.15zM160.6 311.4l3.1 -4.15 3.1 4.15 -3.1 4.15zM262.7 317.7l3.1 -4.15 3.1 4.15 -3.1 4.15zM298.0 317.0l3.1 -4.15 3.1 4.15 -3.1 4.15zM262.8 319.3l3.1 -4.15 3.1 4.15 -3.1 4.15zM286.3 320.6l3.1 -4.15 3.1 4.15 -3.1 4.15zM312.1 312.2l3.1 -4.15 3.1 4.15 -3.1 4.15zM300.9 308.9l3.1 -4.15 3.1 4.15 -3.1 4.15zM203.6 318.8l3.1 -4.15 3.1 4.15 -3.1 4.15zM301.5 321.7l3.1 -4.15 3.1 4.15 -3.1 4.15zM232.3 308.3l3.1 -4.15 3.1 4.15 -3.1 4.15zM240.9 305.5l3.1 -4.15 3.1 4.15 -3.1 4.15zM368.8 320.9l3.1 -4.15 3.1 4.15 -3.1 4.15zM250.2 316.0l3.1 -4.15 3.1 4.15 -3.1 4.15zM304.0 318.9l3.1 -4.15 3.1 4.15 -3.1 4.15zM204.7 306.7l3.1 -4.15 3.1 4.15 -3.1 4.15zM223.3 318.9l3.1 -4.15 3.1 4.15 -3.1 4.15zM186.7 320.3l3.1 -4.15 3.1 4.15 -3.1 4.15zM184.4 312.3l3.1 -4.15 3.1 4.15 -3.1 4.15zM312.7 317.6l3.1 -4.15 3.1 4.15 -3.1 4.15zM180.7 311.8l3.1 -4.15 3.1 4.15 -3.1 4.15zM229.4 315.2l3.1 -4.15 3.1 4.15 -3.1 4.15zM276.1 317.4l3.1 -4.15 3.1 4.15 -3.1 4.15zM293.8 321.5l3.1 -4.15 3.1 4.15 -3.1 4.15zM237.5 322.1l3.1 -4.15 3.1 4.15 -3.1 4.15zM284.4 317.2l3.1 -4.15 3.1 4.15 -3.1 4.15zM196.1 323.6l3.1 -4.15 3.1 4.15 -3.1 4.15zM347.5 320.6l3.1 -4.15 3.1 4.15 -3.1 4.15zM316.4 321.4l3.1 -4.15 3.1 4.15 -3.1 4.15zM243.5 309.1l3.1 -4.15 3.1 4.15 -3.1 4.15zM289.6 317.8l3.1 -4.15 3.1 4.15 -3.1 4.15zM208.8 305.9l3.1 -4.15 3.1 4.15 -3.1 4.15zM294.5 316.1l3.1 -4.15 3.1 4.15 -3.1 4.15zM359.8 315.8l3.1 -4.15 3.1 4.15 -3.1 4.15zM326.0 309.3l3.1 -4.15 3.1 4.15 -3.1 4.15zM237.7 308.3l3.1 -4.15 3.1 4.15 -3.1 4.15zM185.6 307.9l3.1 -4.15 3.1 4.15 -3.1 4.15zM221.8 325.5l3.1 -4.15 3.1 4.15 -3.1 4.15zM269.0 319.3l3.1 -4.15 3.1 4.15 -3.1 4.15zM287.0 309.8l3.1 -4.15 3.1 4.15 -3.1 4.15zM253.5 308.3l3.1 -4.15 3.1 4.15 -3.1 4.15zM271.1 320.4l3.1 -4.15 3.1 4.15 -3.1 4.15zM171.9 314.7l3.1 -4.15 3.1 4.15 -3.1 4.15zM226.8 308.3l3.1 -4.15 3.1 4.15 -3.1 4.15zM218.9 311.2l3.1 -4.15 3.1 4.15 -3.1 4.15zM216.7 319.3l3.1 -4.15 3.1 4.15 -3.1 4.15zM285.7 312.4l3.1 -4.15 3.1 4.15 -3.1 4.15zM330.5 316.9l3.1 -4.15 3.1 4.15 -3.1 4.15zM318.2 320.0l3.1 -4.15 3.1 4.15 -3.1 4.15zM254.5 306.1l3.1 -4.15 3.1 4.15 -3.1 4.15zM226.6 314.8l3.1 -4.15 3.1 4.15 -3.1 4.15zM361.9 316.2l3.1 -4.15 3.1 4.15 -3.1 4.15zM225.7 306.8l3.1 -4.15 3.1 4.15 -3.1 4.15zM262.8 311.0l3.1 -4.15 3.1 4.15 -3.1 4.15zM294.0 313.3l3.1 -4.15 3.1 4.15 -3.1 4.15zM304.3 319.4l3.1 -4.15 3.1 4.15 -3.1 4.15zM305.8 311.6l3.1 -4.15 3.1 4.15 -3.1 4.15zM323.5 315.9l3.1 -4.15 3.1 4.15 -3.1 4.15zM291.2 315.1l3.1 -4.15 3.1 4.15 -3.1 4.15zM189.0 316.5l3.1 -4.15 3.1 4.15 -3.1 4.15zM326.3 316.9l3.1 -4.15 3.1 4.15 -3.1 4.15zM211.4 314.2l3.1 -4.15 3.1 4.15 -3.1 4.15zM305.7 313.7l3.1 -4.15 3.1 4.15 -3.1 4.15zM260.4 313.9l3.1 -4.15 3.1 4.15 -3.1 4.15zM312.5 312.9l3.1 -4.15 3.1 4.15 -3.1 4.15zM239.2 314.4l3.1 -4.15 3.1 4.15 -3.1 4.15zM203.5 309.3l3.1 -4.15 3.1 4.15 -3.1 4.15zM245.8 303.1l3.1 -4.15 3.1 4.15 -3.1 4.15zM314.7 317.1l3.1 -4.15 3.1 4.15 -3.1 4.15zM260.3 314.1l3.1 -4.15 3.1 4.15 -3.1 4.15zM193.1 319.3l3.1 -4.15 3.1 4.15 -3.1 4.15zM301.5 308.8l3.1 -4.15 3.1 4.15 -3.1 4.15zM392.7 312.9l3.1 -4.15 3.1 4.15 -3.1 4.15zM222.9 314.6l3.1 -4.15 3.1 4.15 -3.1 4.15zM301.7 318.2l3.1 -4.15 3.1 4.15 -3.1 4.15zM381.4 321.7l3.1 -4.15 3.1 4.15 -3.1 4.15zM265.0 308.8l3.1 -4.15 3.1 4.15 -3.1 4.15zM355.7 320.7l3.1 -4.15 3.1 4.15 -3.1 4.15zM365.6 316.3l3.1 -4.15 3.1 4.15 -3.1 4.15zM355.7 308.3l3.1 -4.15 3.1 4.15 -3.1 4.15zM237.3 299.2l3.1 -4.15 3.1 4.15 -3.1 4.15zM226.9 319.6l3.1 -4.15 3.1 4.15 -3.1 4.15zM191.4 305.4l3.1 -4.15 3.1 4.15 -3.1 4.15zM211.9 307.6l3.1 -4.15 3.1 4.15 -3.1 4.15zM227.7 307.1l3.1 -4.15 3.1 4.15 -3.1 4.15zM230.8 298.2l3.1 -4.15 3.1 4.15 -3.1 4.15zM351.0 316.2l3.1 -4.15 3.1 4.15 -3.1 4.15zM188.8 317.0l3.1 -4.15 3.1 4.15 -3.1 4.15zM308.4 320.1l3.1 -4.15 3.1 4.15 -3.1 4.15zM201.8 315.9l3.1 -4.15 3.1 4.15 -3.1 4.15zM227.7 305.2l3.1 -4.15 3.1 4.15 -3.1 4.15zM279.9 315.7l3.1 -4.15 3.1 4.15 -3.1 4.15zM206.9 314.1l3.1 -4.15 3.1 4.15 -3.1 4.15zM291.5 307.5l3.1 -4.15 3.1 4.15 -3.1 4.15zM196.9 315.3l3.1 -4.15 3.1 4.15 -3.1 4.15zM304.6 311.6l3.1 -4.15 3.1 4.15 -3.1 4.15zM154.5 314.8l3.1 -4.15 3.1 4.15 -3.1 4.15zM401.1 310.0l3.1 -4.15 3.1 4.15 -3.1 4.15zM211.0 315.0l3.1 -4.15 3.1 4.15 -3.1 4.15zM197.5 310.0l3.1 -4.15 3.1 4.15 -3.1 4.15zM270.5 306.4l3.1 -4.15 3.1 4.15 -3.1 4.15zM384.5 315.2l3.1 -4.15 3.1 4.15 -3.1 4.15zM219.6 313.9l3.1 -4.15 3.1 4.15 -3.1 4.15zM285.6 306.5l3.1 -4.15 3.1 4.15 -3.1 4.15zM381.3 315.8l3.1 -4.15 3.1 4.15 -3.1 4.15zM203.8 312.1l3.1 -4.15 3.1 4.15 -3.1 4.15zM181.0 307.4l3.1 -4.15 3.1 4.15 -3.1 4.15zM217.5 308.1l3.1 -4.15 3.1 4.15 -3.1 4.15zM383.4 303.9l3.1 -4.15 3.1 4.15 -3.1 4.15zM196.5 314.1l3.1 -4.15 3.1 4.15 -3.1 4.15zM271.8 315.8l3.1 -4.15 3.1 4.15 -3.1 4.15zM378.0 315.7l3.1 -4.15 3.1 4.15 -3.1 4.15zM299.6 312.3l3.1 -4.15 3.1 4.15 -3.1 4.15zM373.8 309.5l3.1 -4.15 3.1 4.15 -3.1 4.15zM242.5 314.5l3.1 -4.15 3.1 4.15 -3.1 4.15zM245.0 309.6l3.1 -4.15 3.1 4.15 -3.1 4.15zM356.2 309.0l3.1 -4.15 3.1 4.15 -3.1 4.15zM299.3 320.2l3.1 -4.15 3.1 4.15 -3.1 4.15zM265.1 309.3l3.1 -4.15 3.1 4.15 -3.1 4.15zM322.9 315.4l3.1 -4.15 3.1 4.15 -3.1 4.15zM180.6 305.1l3.1 -4.15 3.1 4.15 -3.1 4.15zM274.1 313.7l3.1 -4.15 3.1 4.15 -3.1 4.15zM309.5 320.3l3.1 -4.15 3.1 4.15 -3.1 4.15zM339.3 309.0l3.1 -4.15 3.1 4.15 -3.1 4.15zM264.6 306.6l3.1 -4.15 3.1 4.15 -3.1 4.15zM293.2 315.1l3.1 -4.15 3.1 4.15 -3.1 4.15zM286.7 314.2l3.1 -4.15 3.1 4.15 -3.1 4.15zM208.7 317.9l3.1 -4.15 3.1 4.15 -3.1 4.15zM249.3 303.8l3.1 -4.15 3.1 4.15 -3.1 4.15zM249.6 303.4l3.1 -4.15 3.1 4.15 -3.1 4.15zM204.6 311.3l3.1 -4.15 3.1 4.15 -3.1 4.15zM332.8 313.9l3.1 -4.15 3.1 4.15 -3.1 4.15zM387.5 319.2l3.1 -4.15 3.1 4.15 -3.1 4.15zM341.9 317.5l3.1 -4.15 3.1 4.15 -3.1 4.15zM278.9 306.2l3.1 -4.15 3.1 4.15 -3.1 4.15zM221.1 317.9l3.1 -4.15 3.1 4.15 -3.1 4.15zM221.4 308.3l3.1 -4.15 3.1 4.15 -3.1 4.15zM205.5 312.2l3.1 -4.15 3.1 4.15 -3.1 4.15zM355.1 327.8l3.1 -4.15 3.1 4.15 -3.1 4.15zM360.3 311.8l3.1 -4.15 3.1 4.15 -3.1 4.15zM317.1 317.3l3.1 -4.15 3.1 4.15 -3.1 4.15zM339.7 322.6l3.1 -4.15 3.1 4.15 -3.1 4.15zM248.1 320.9l3.1 -4.15 3.1 4.15 -3.1 4.15zM261.7 311.5l3.1 -4.15 3.1 4.15 -3.1 4.15zM260.2 302.0l3.1 -4.15 3.1 4.15 -3.1 4.15zM398.4 321.1l3.1 -4.15 3.1 4.15 -3.1 4.15zM176.7 311.9l3.1 -4.15 3.1 4.15 -3.1 4.15zM207.5 310.9l3.1 -4.15 3.1 4.15 -3.1 4.15zM224.7 300.8l3.1 -4.15 3.1 4.15 -3.1 4.15zM250.9 315.7l3.1 -4.15 3.1 4.15 -3.1 4.15zM242.6 313.9l3.1 -4.15 3.1 4.15 -3.1 4.15zM262.3 321.5l3.1 -4.15 3.1 4.15 -3.1 4.15zM381.0 306.9l3.1 -4.15 3.1 4.15 -3.1 4.15zM291.5 315.7l3.1 -4.15 3.1 4.15 -3.1 4.15zM219.3 313.3l3.1 -4.15 3.1 4.15 -3.1 4.15zM287.8 317.7l3.1 -4.15 3.1 4.15 -3.1 4.15zM246.8 311.5l3.1 -4.15 3.1 4.15 -3.1 4.15zM209.7 312.6l3.1 -4.15 3.1 4.15 -3.1 4.15zM330.7 313.4l3.1 -4.15 3.1 4.15 -3.1 4.15zM261.1 309.2l3.1 -4.15 3.1 4.15 -3.1 4.15zM344.2 323.7l3.1 -4.15 3.1 4.15 -3.1 4.15zM263.0 305.9l3.1 -4.15 3.1 4.15 -3.1 4.15zM345.1 318.2l3.1 -4.15 3.1 4.15 -3.1 4.15zM306.2 303.3l3.1 -4.15 3.1 4.15 -3.1 4.15zM298.4 310.4l3.1 -4.15 3.1 4.15 -3.1 4.15zM248.5 315.6l3.1 -4.15 3.1 4.15 -3.1 4.15zM249.1 316.2l3.1 -4.15 3.1 4.15 -3.1 4.15zM277.8 319.1l3.1 -4.15 3.1 4.15 -3.1 4.15zM248.8 312.0l3.1 -4.15 3.1 4.15 -3.1 4.15zM339.1 314.1l3.1 -4.15 3.1 4.15 -3.1 4.15zM213.3 319.1l3.1 -4.15 3.1 4.15 -3.1 4.15zM321.6 321.9l3.1 -4.15 3.1 4.15 -3.1 4.15zM350.3 312.3l3.1 -4.15 3.1 4.15 -3.1 4.15zM358.7 313.7l3.1 -4.15 3.1 4.15 -3.1 4.15zM254.8 311.7l3.1 -4.15 3.1 4.15 -3.1 4.15zM360.4 321.3l3.1 -4.15 3.1 4.15 -3.1 4.15zM250.4 305.9l3.1 -4.15 3.1 4.15 -3.1 4.15zM320.6 322.9l3.1 -4.15 3.1 4.15 -3.1 4.15zM159.8 309.9l3.1 -4.15 3.1 4.15 -3.1 4.15zM172.8 315.6l3.1 -4.15 3.1 4.15 -3.1 4.15zM226.2 314.6l3.1 -4.15 3.1 4.15 -3.1 4.15zM350.9 319.2l3.1 -4.15 3.1 4.15 -3.1 4.15zM313.6 313.4l3.1 -4.15 3.1 4.15 -3.1 4.15zM242.1 303.3l3.1 -4.15 3.1 4.15 -3.1 4.15zM218.3 316.6l3.1 -4.15 3.1 4.15 -3.1 4.15zM201.8 314.8l3.1 -4.15 3.1 4.15 -3.1 4.15zM206.7 320.4l3.1 -4.15 3.1 4.15 -3.1 4.15zM258.0 319.6l3.1 -4.15 3.1 4.15 -3.1 4.15zM280.8 316.0l3.1 -4.15 3.1 4.15 -3.1 4.15zM364.3 325.9l3.1 -4.15 3.1 4.15 -3.1 4.15zM347.7 302.6l3.1 -4.15 3.1 4.15 -3.1 4.15zM218.7 318.2l3.1 -4.15 3.1 4.15 -3.1 4.15zM354.2 320.1l3.1 -4.15 3.1 4.15 -3.1 4.15zM364.6 312.4l3.1 -4.15 3.1 4.15 -3.1 4.15zM204.4 311.8l3.1 -4.15 3.1 4.15 -3.1 4.15zM301.8 326.5l3.1 -4.15 3.1 4.15 -3.1 4.15zM328.3 311.0l3.1 -4.15 3.1 4.15 -3.1 4.15zM325.8 319.2l3.1 -4.15 3.1 4.15 -3.1 4.15zM232.6 326.2l3.1 -4.15 3.1 4.15 -3.1 4.15zM299.9 314.2l3.1 -4.15 3.1 4.15 -3.1 4.15zM238.7 309.1l3.1 -4.15 3.1 4.15 -3.1 4.15zM366.5 312.7l3.1 -4.15 3.1 4.15 -3.1 4.15zM286.1 317.6l3.1 -4.15 3.1 4.15 -3.1 4.15zM308.4 302.0l3.1 -4.15 3.1 4.15 -3.1 4.15zM270.2 308.4l3.1 -4.15 3.1 4.15 -3.1 4.15zM253.5 320.1l3.1 -4.15 3.1 4.15 -3.1 4.15zM202.8 308.4l3.1 -4.15 3.1 4.15 -3.1 4.15zM351.8 313.8l3.1 -4.15 3.1 4.15 -3.1 4.15zM233.6 316.1l3.1 -4.15 3.1 4.15 -3.1 4.15zM227.7 309.1l3.1 -4.15 3.1 4.15 -3.1 4.15zM222.2 313.3l3.1 -4.15 3.1 4.15 -3.1 4.15zM185.6 320.5l3.1 -4.15 3.1 4.15 -3.1 4.15zM275.6 310.1l3.1 -4.15 3.1 4.15 -3.1 4.15zM282.9 319.7l3.1 -4.15 3.1 4.15 -3.1 4.15zM329.3 320.6l3.1 -4.15 3.1 4.15 -3.1 4.15zM209.7 311.6l3.1 -4.15 3.1 4.15 -3.1 4.15zM155.4 308.5l3.1 -4.15 3.1 4.15 -3.1 4.15zM307.3 313.4l3.1 -4.15 3.1 4.15 -3.1 4.15zM318.5 317.4l3.1 -4.15 3.1 4.15 -3.1 4.15zM233.6 315.3l3.1 -4.15 3.1 4.15 -3.1 4.15zM252.1 319.8l3.1 -4.15 3.1 4.15 -3.1 4.15zM208.1 311.0l3.1 -4.15 3.1 4.15 -3.1 4.15zM313.2 314.5l3.1 -4.15 3.1 4.15 -3.1 4.15zM349.2 320.3l3.1 -4.15 3.1 4.15 -3.1 4.15zM226.3 318.6l3.1 -4.15 3.1 4.15 -3.1 4.15zM192.5 319.4l3.1 -4.15 3.1 4.15 -3.1 4.15zM172.1 313.7l3.1 -4.15 3.1 4.15 -3.1 4.15zM323.8 313.7l3.1 -4.15 3.1 4.15 -3.1 4.15zM252.5 308.4l3.1 -4.15 3.1 4.15 -3.1 4.15zM255.0 314.6l3.1 -4.15 3.1 4.15 -3.1 4.15zM254.6 311.5l3.1 -4.15 3.1 4.15 -3.1 4.15zM264.4 311.9l3.1 -4.15 3.1 4.15 -3.1 4.15zM301.8 309.9l3.1 -4.15 3.1 4.15 -3.1 4.15zM222.9 317.9l3.1 -4.15 3.1 4.15 -3.1 4.15zM240.9 319.6l3.1 -4.15 3.1 4.15 -3.1 4.15zM203.8 316.8l3.1 -4.15 3.1 4.15 -3.1 4.15zM190.8 313.6l3.1 -4.15 3.1 4.15 -3.1 4.15zM314.7 313.9l3.1 -4.15 3.1 4.15 -3.1 4.15zM244.5 321.2l3.1 -4.15 3.1 4.15 -3.1 4.15zM225.3 318.0l3.1 -4.15 3.1 4.15 -3.1 4.15zM221.4 307.4l3.1 -4.15 3.1 4.15 -3.1 4.15zM272.6 315.0l3.1 -4.15 3.1 4.15 -3.1 4.15zM214.6 315.3l3.1 -4.15 3.1 4.15 -3.1 4.15zM371.4 321.9l3.1 -4.15 3.1 4.15 -3.1 4.15zM306.8 314.4l3.1 -4.15 3.1 4.15 -3.1 4.15zM242.2 315.5l3.1 -4.15 3.1 4.15 -3.1 4.15zM248.7 321.0l3.1 -4.15 3.1 4.15 -3.1 4.15zM330.3 321.0l3.1 -4.15 3.1 4.15 -3.1 4.15zM176.2 314.4l3.1 -4.15 3.1 4.15 -3.1 4.15zM246.7 319.2l3.1 -4.15 3.1 4.15 -3.1 4.15zM278.4 316.7l3.1 -4.15 3.1 4.15 -3.1 4.15zM245.3 316.1l3.1 -4.15 3.1 4.15 -3.1 4.15zM323.7 322.1l3.1 -4.15 3.1 4.15 -3.1 4.15zM363.3 313.8l3.1 -4.15 3.1 4.15 -3.1 4.15zM333.6 312.1l3.1 -4.15 3.1 4.15 -3.1 4.15zM357.6 315.5l3.1 -4.15 3.1 4.15 -3.1 4.15zM203.2 305.8l3.1 -4.15 3.1 4.15 -3.1 4.15zM191.9 315.0l3.1 -4.15 3.1 4.15 -3.1 4.15zM210.5 321.0l3.1 -4.15 3.1 4.15 -3.1 4.15zM243.7 316.5l3.1 -4.15 3.1 4.15 -3.1 4.15zM259.6 320.0l3.1 -4.15 3.1 4.15 -3.1 4.15zM292.5 322.3l3.1 -4.15 3.1 4.15 -3.1 4.15zM339.7 321.4l3.1 -4.15 3.1 4.15 -3.1 4.15zM293.1 315.8l3.1 -4.15 3.1 4.15 -3.1 4.15zM319.3 314.3l3.1 -4.15 3.1 4.15 -3.1 4.15zM187.5 312.3l3.1 -4.15 3.1 4.15 -3.1 4.15zM305.2 317.8l3.1 -4.15 3.1 4.15 -3.1 4.15zM169.8 314.2l3.1 -4.15 3.1 4.15 -3.1 4.15zM274.9 327.8l3.1 -4.15 3.1 4.15 -3.1 4.15zM328.5 314.6l3.1 -4.15 3.1 4.15 -3.1 4.15zM344.1 315.6l3.1 -4.15 3.1 4.15 -3.1 4.15zM389.4 309.3l3.1 -4.15 3.1 4.15 -3.1 4.15zM257.8 314.3l3.1 -4.15 3.1 4.15 -3.1 4.15zM260.2 321.3l3.1 -4.15 3.1 4.15 -3.1 4.15zM198.8 313.5l3.1 -4.15 3.1 4.15 -3.1 4.15zM367.1 316.0l3.1 -4.15 3.1 4.15 -3.1 4.15zM212.3 315.9l3.1 -4.15 3.1 4.15 -3.1 4.15zM280.1 316.6l3.1 -4.15 3.1 4.15 -3.1 4.15zM190.8 309.1l3.1 -4.15 3.1 4.15 -3.1 4.15zM234.9 317.9l3.1 -4.15 3.1 4.15 -3.1 4.15zM306.2 302.1l3.1 -4.15 3.1 4.15 -3.1 4.15zM382.0 317.4l3.1 -4.15 3.1 4.15 -3.1 4.15zM193.3 298.1l3.1 -4.15 3.1 4.15 -3.1 4.15zM183.4 312.3l3.1 -4.15 3.1 4.15 -3.1 4.15zM240.2 309.4l3.1 -4.15 3.1 4.15 -3.1 4.15zM251.0 312.8l3.1 -4.15 3.1 4.15 -3.1 4.15zM201.9 313.5l3.1 -4.15 3.1 4.15 -3.1 4.15zM309.5 314.5l3.1 -4.15 3.1 4.15 -3.1 4.15zM192.0 308.9l3.1 -4.15 3.1 4.15 -3.1 4.15zM203.9 314.8l3.1 -4.15 3.1 4.15 -3.1 4.15zM267.1 313.3l3.1 -4.15 3.1 4.15 -3.1 4.15zM333.6 329.2l3.1 -4.15 3.1 4.15 -3.1 4.15zM254.4 314.8l3.1 -4.15 3.1 4.15 -3.1 4.15zM276.5 310.3l3.1 -4.15 3.1 4.15 -3.1 4.15zM281.6 315.9l3.1 -4.15 3.1 4.15 -3.1 4.15zM387.1 318.3l3.1 -4.15 3.1 4.15 -3.1 4.15zM373.4 311.1l3.1 -4.15 3.1 4.15 -3.1 4.15zM375.2 314.0l3.1 -4.15 3.1 4.15 -3.1 4.15zM364.0 318.4l3.1 -4.15 3.1 4.15 -3.1 4.15zM227.3 309.6l3.1 -4.15 3.1 4.15 -3.1 4.15zM222.9 317.8l3.1 -4.15 3.1 4.15 -3.1 4.15zM350.7 322.9l3.1 -4.15 3.1 4.15 -3.1 4.15zM210.7 313.3l3.1 -4.15 3.1 4.15 -3.1 4.15zM204.7 314.6l3.1 -4.15 3.1 4.15 -3.1 4.15zM232.8 318.2l3.1 -4.15 3.1 4.15 -3.1 4.15zM200.1 315.2l3.1 -4.15 3.1 4.15 -3.1 4.15zM259.1 305.5l3.1 -4.15 3.1 4.15 -3.1 4.15zM194.0 308.7l3.1 -4.15 3.1 4.15 -3.1 4.15zM305.7 302.8l3.1 -4.15 3.1 4.15 -3.1 4.15zM212.3 310.2l3.1 -4.15 3.1 4.15 -3.1 4.15zM302.5 319.9l3.1 -4.15 3.1 4.15 -3.1 4.15zM237.3 317.0l3.1 -4.15 3.1 4.15 -3.1 4.15zM205.5 316.4l3.1 -4.15 3.1 4.15 -3.1 4.15zM323.3 312.1l3.1 -4.15 3.1 4.15 -3.1 4.15zM297.7 311.9l3.1 -4.15 3.1 4.15 -3.1 4.15zM216.0 311.3l3.1 -4.15 3.1 4.15 -3.1 4.15zM295.1 307.4l3.1 -4.15 3.1 4.15 -3.1 4.15zM294.0 308.4l3.1 -4.15 3.1 4.15 -3.1 4.15zM195.0 312.6l3.1 -4.15 3.1 4.15 -3.1 4.15zM237.1 309.4l3.1 -4.15 3.1 4.15 -3.1 4.15zM189.9 306.3l3.1 -4.15 3.1 4.15 -3.1 4.15zM279.6 315.4l3.1 -4.15 3.1 4.15 -3.1 4.15zM206.6 311.3l3.1 -4.15 3.1 4.15 -3.1 4.15zM254.2 324.0l3.1 -4.15 3.1 4.15 -3.1 4.15zM227.9 316.4l3.1 -4.15 3.1 4.15 -3.1 4.15zM371.3 314.2l3.1 -4.15 3.1 4.15 -3.1 4.15zM332.7 317.8l3.1 -4.15 3.1 4.15 -3.1 4.15zM310.9 327.4l3.1 -4.15 3.1 4.15 -3.1 4.15zM202.8 308.3l3.1 -4.15 3.1 4.15 -3.1 4.15zM267.8 315.2l3.1 -4.15 3.1 4.15 -3.1 4.15zM168.6 316.6l3.1 -4.15 3.1 4.15 -3.1 4.15zM334.6 310.2l3.1 -4.15 3.1 4.15 -3.1 4.15zM204.4 329.2l3.1 -4.15 3.1 4.15 -3.1 4.15zM216.7 311.7l3.1 -4.15 3.1 4.15 -3.1 4.15zM247.8 315.6l3.1 -4.15 3.1 4.15 -3.1 4.15zM329.4 315.6l3.1 -4.15 3.1 4.15 -3.1 4.15zM280.0 315.5l3.1 -4.15 3.1 4.15 -3.1 4.15zM202.1 301.1l3.1 -4.15 3.1 4.15 -3.1 4.15zM225.1 316.0l3.1 -4.15 3.1 4.15 -3.1 4.15zM259.7 309.0l3.1 -4.15 3.1 4.15 -3.1 4.15zM203.5 315.9l3.1 -4.15 3.1 4.15 -3.1 4.15zM266.8 321.3l3.1 -4.15 3.1 4.15 -3.1 4.15zM220.9 312.1l3.1 -4.15 3.1 4.15 -3.1 4.15zM281.8 302.1l3.1 -4.15 3.1 4.15 -3.1 4.15zM211.4 312.5l3.1 -4.15 3.1 4.15 -3.1 4.15zM205.5 307.2l3.1 -4.15 3.1 4.15 -3.1 4.15zM354.0 312.0l3.1 -4.15 3.1 4.15 -3.1 4.15zM216.7 312.9l3.1 -4.15 3.1 4.15 -3.1 4.15zM321.2 310.1l3.1 -4.15 3.1 4.15 -3.1 4.15zM319.1 315.6l3.1 -4.15 3.1 4.15 -3.1 4.15zM358.7 307.1l3.1 -4.15 3.1 4.15 -3.1 4.15zM315.0 312.3l3.1 -4.15 3.1 4.15 -3.1 4.15zM236.4 321.1l3.1 -4.15 3.1 4.15 -3.1 4.15zM234.8 327.4l3.1 -4.15 3.1 4.15 -3.1 4.15zM246.7 316.7l3.1 -4.15 3.1 4.15 -3.1 4.15zM190.4 319.5l3.1 -4.15 3.1 4.15 -3.1 4.15zM294.8 314.9l3.1 -4.15 3.1 4.15 -3.1 4.15zM359.1 317.6l3.1 -4.15 3.1 4.15 -3.1 4.15zM276.7 309.7l3.1 -4.15 3.1 4.15 -3.1 4.15zM287.9 308.4l3.1 -4.15 3.1 4.15 -3.1 4.15zM311.0 314.9l3.1 -4.15 3.1 4.15 -3.1 4.15zM281.1 317.2l3.1 -4.15 3.1 4.15 -3.1 4.15zM300.9 312.1l3.1 -4.15 3.1 4.15 -3.1 4.15zM373.2 317.7l3.1 -4.15 3.1 4.15 -3.1 4.15zM223.1 308.4l3.1 -4.15 3.1 4.15 -3.1 4.15zM293.8 308.0l3.1 -4.15 3.1 4.15 -3.1 4.15zM283.4 323.6l3.1 -4.15 3.1 4.15 -3.1 4.15zM316.3 316.9l3.1 -4.15 3.1 4.15 -3.1 4.15zM265.8 316.8l3.1 -4.15 3.1 4.15 -3.1 4.15zM278.6 313.8l3.1 -4.15 3.1 4.15 -3.1 4.15zM314.9 307.7l3.1 -4.15 3.1 4.15 -3.1 4.15zM219.7 303.6l3.1 -4.15 3.1 4.15 -3.1 4.15zM218.2 322.5l3.1 -4.15 3.1 4.15 -3.1 4.15zM187.2 311.0l3.1 -4.15 3.1 4.15 -3.1 4.15zM205.6 308.7l3.1 -4.15 3.1 4.15 -3.1 4.15zM274.2 308.1l3.1 -4.15 3.1 4.15 -3.1 4.15zM249.2 304.5l3.1 -4.15 3.1 4.15 -3.1 4.15zM166.4 311.4l3.1 -4.15 3.1 4.15 -3.1 4.15zM324.2 313.8l3.1 -4.15 3.1 4.15 -3.1 4.15zM253.4 316.7l3.1 -4.15 3.1 4.15 -3.1 4.15zM173.3 308.9l3.1 -4.15 3.1 4.15 -3.1 4.15zM302.8 312.0l3.1 -4.15 3.1 4.15 -3.1 4.15zM231.9 310.6l3.1 -4.15 3.1 4.15 -3.1 4.15zM318.1 317.3l3.1 -4.15 3.1 4.15 -3.1 4.15zM174.6 313.3l3.1 -4.15 3.1 4.15 -3.1 4.15zM276.7 322.5l3.1 -4.15 3.1 4.15 -3.1 4.15zM208.3 306.7l3.1 -4.15 3.1 4.15 -3.1 4.15zM300.8 318.7l3.1 -4.15 3.1 4.15 -3.1 4.15zM242.0 312.1l3.1 -4.15 3.1 4.15 -3.1 4.15zM171.5 314.3l3.1 -4.15 3.1 4.15 -3.1 4.15zM386.7 309.7l3.1 -4.15 3.1 4.15 -3.1 4.15zM224.7 306.1l3.1 -4.15 3.1 4.15 -3.1 4.15zM249.7 317.5l3.1 -4.15 3.1 4.15 -3.1 4.15zM223.3 317.1l3.1 -4.15 3.1 4.15 -3.1 4.15zM289.4 328.6l3.1 -4.15 3.1 4.15 -3.1 4.15zM274.6 315.8l3.1 -4.15 3.1 4.15 -3.1 4.15zM338.5 314.2l3.1 -4.15 3.1 4.15 -3.1 4.15zM307.1 317.6l3.1 -4.15 3.1 4.15 -3.1 4.15zM214.4 324.5l3.1 -4.15 3.1 4.15 -3.1 4.15zM232.1 311.1l3.1 -4.15 3.1 4.15 -3.1 4.15zM246.8 310.7l3.1 -4.15 3.1 4.15 -3.1 4.15zM318.4 322.2l3.1 -4.15 3.1 4.15 -3.1 4.15zM226.2 312.8l3.1 -4.15 3.1 4.15 -3.1 4.15zM265.2 320.9l3.1 -4.15 3.1 4.15 -3.1 4.15zM198.2 311.7l3.1 -4.15 3.1 4.15 -3.1 4.15zM299.7 323.2l3.1 -4.15 3.1 4.15 -3.1 4.15zM238.8 311.6l3.1 -4.15 3.1 4.15 -3.1 4.15zM232.4 324.0l3.1 -4.15 3.1 4.15 -3.1 4.15zM247.5 314.6l3.1 -4.15 3.1 4.15 -3.1 4.15zM218.8 307.9l3.1 -4.15 3.1 4.15 -3.1 4.15zM204.1 315.7l3.1 -4.15 3.1 4.15 -3.1 4.15zM196.8 316.7l3.1 -4.15 3.1 4.15 -3.1 4.15zM212.7 320.0l3.1 -4.15 3.1 4.15 -3.1 4.15zM209.2 317.2l3.1 -4.15 3.1 4.15 -3.1 4.15zM182.9 319.9l3.1 -4.15 3.1 4.15 -3.1 4.15zM158.5 311.5l3.1 -4.15 3.1 4.15 -3.1 4.15zM317.1 319.9l3.1 -4.15 3.1 4.15 -3.1 4.15zM403.3 316.7l3.1 -4.15 3.1 4.15 -3.1 4.15zM189.5 320.3l3.1 -4.15 3.1 4.15 -3.1 4.15zM397.2 319.9l3.1 -4.15 3.1 4.15 -3.1 4.15zM257.6 310.2l3.1 -4.15 3.1 4.15 -3.1 4.15zM350.1 312.1l3.1 -4.15 3.1 4.15 -3.1 4.15zM167.1 322.2l3.1 -4.15 3.1 4.15 -3.1 4.15zM305.2 305.0l3.1 -4.15 3.1 4.15 -3.1 4.15zM192.3 312.2l3.1 -4.15 3.1 4.15 -3.1 4.15zM324.9 312.5l3.1 -4.15 3.1 4.15 -3.1 4.15zM260.9 318.8l3.1 -4.15 3.1 4.15 -3.1 4.15zM329.0 304.6l3.1 -4.15 3.1 4.15 -3.1 4.15zM327.3 315.4l3.1 -4.15 3.1 4.15 -3.1 4.15zM304.3 312.6l3.1 -4.15 3.1 4.15 -3.1 4.15zM270.2 316.2l3.1 -4.15 3.1 4.15 -3.1 4.15zM207.4 296.7l3.1 -4.15 3.1 4.15 -3.1 4.15zM191.1 307.0l3.1 -4.15 3.1 4.15 -3.1 4.15zM217.0 311.0l3.1 -4.15 3.1 4.15 -3.1 4.15zM215.2 313.5l3.1 -4.15 3.1 4.15 -3.1 4.15zM284.8 311.3l3.1 -4.15 3.1 4.15 -3.1 4.15zM268.8 315.6l3.1 -4.15 3.1 4.15 -3.1 4.15zM386.5 316.0l3.1 -4.15 3.1 4.15 -3.1 4.15zM330.1 315.9l3.1 -4.15 3.1 4.15 -3.1 4.15zM273.8 323.5l3.1 -4.15 3.1 4.15 -3.1 4.15zM252.1 314.8l3.1 -4.15 3.1 4.15 -3.1 4.15zM259.2 317.7l3.1 -4.15 3.1 4.15 -3.1 4.15zM178.2 307.1l3.1 -4.15 3.1 4.15 -3.1 4.15zM199.7 315.3l3.1 -4.15 3.1 4.15 -3.1 4.15zM214.0 307.9l3.1 -4.15 3.1 4.15 -3.1 4.15zM219.6 307.4l3.1 -4.15 3.1 4.15 -3.1 4.15zM228.3 317.4l3.1 -4.15 3.1 4.15 -3.1 4.15zM182.4 314.4l3.1 -4.15 3.1 4.15 -3.1 4.15zM203.9 316.9l3.1 -4.15 3.1 4.15 -3.1 4.15zM200.8 315.2l3.1 -4.15 3.1 4.15 -3.1 4.15zM267.4 306.0l3.1 -4.15 3.1 4.15 -3.1 4.15zM236.5 304.6l3.1 -4.15 3.1 4.15 -3.1 4.15zM276.9 319.6l3.1 -4.15 3.1 4.15 -3.1 4.15zM267.9 312.4l3.1 -4.15 3.1 4.15 -3.1 4.15zM171.1 305.8l3.1 -4.15 3.1 4.15 -3.1 4.15zM246.3 314.1l3.1 -4.15 3.1 4.15 -3.1 4.15zM292.4 317.0l3.1 -4.15 3.1 4.15 -3.1 4.15zM314.2 305.9l3.1 -4.15 3.1 4.15 -3.1 4.15zM340.4 319.2l3.1 -4.15 3.1 4.15 -3.1 4.15zM308.8 303.6l3.1 -4.15 3.1 4.15 -3.1 4.15zM233.2 315.4l3.1 -4.15 3.1 4.15 -3.1 4.15zM401.1 318.6l3.1 -4.15 3.1 4.15 -3.1 4.15zM307.9 321.0l3.1 -4.15 3.1 4.15 -3.1 4.15zM251.4 317.5l3.1 -4.15 3.1 4.15 -3.1 4.15zM248.4 314.2l3.1 -4.15 3.1 4.15 -3.1 4.15zM183.3 313.9l3.1 -4.15 3.1 4.15 -3.1 4.15zM198.5 323.9l3.1 -4.15 3.1 4.15 -3.1 4.15zM274.2 308.2l3.1 -4.15 3.1 4.15 -3.1 4.15zM208.9 314.2l3.1 -4.15 3.1 4.15 -3.1 4.15zM307.8 315.8l3.1 -4.15 3.1 4.15 -3.1 4.15zM280.3 311.8l3.1 -4.15 3.1 4.15 -3.1 4.15zM294.5 322.9l3.1 -4.15 3.1 4.15 -3.1 4.15zM237.9 306.8l3.1 -4.15 3.1 4.15 -3.1 4.15zM322.7 315.9l3.1 -4.15 3.1 4.15 -3.1 4.15zM273.8 314.2l3.1 -4.15 3.1 4.15 -3.1 4.15zM193.6 302.2l3.1 -4.15 3.1 4.15 -3.1 4.15zM288.3 316.2l3.1 -4.15 3.1 4.15 -3.1 4.15zM360.7 315.7l3.1 -4.15 3.1 4.15 -3.1 4.15zM248.7 316.8l3.1 -4.15 3.1 4.15 -3.1 4.15zM357.0 304.4l3.1 -4.15 3.1 4.15 -3.1 4.15zM239.7 317.0l3.1 -4.15 3.1 4.15 -3.1 4.15zM307.5 325.7l3.1 -4.15 3.1 4.15 -3.1 4.15zM212.1 307.2l3.1 -4.15 3.1 4.15 -3.1 4.15zM213.8 323.0l3.1 -4.15 3.1 4.15 -3.1 4.15zM369.9 312.0l3.1 -4.15 3.1 4.15 -3.1 4.15zM384.5 317.6l3.1 -4.15 3.1 4.15 -3.1 4.15zM193.2 316.6l3.1 -4.15 3.1 4.15 -3.1 4.15zM261.3 305.2l3.1 -4.15 3.1 4.15 -3.1 4.15zM297.3 314.0l3.1 -4.15 3.1 4.15 -3.1 4.15zM210.1 300.4l3.1 -4.15 3.1 4.15 -3.1 4.15zM186.1 312.0l3.1 -4.15 3.1 4.15 -3.1 4.15zM151.6 313.7l3.1 -4.15 3.1 4.15 -3.1 4.15zM157.9 316.5l3.1 -4.15 3.1 4.15 -3.1 4.15zM335.4 319.5l3.1 -4.15 3.1 4.15 -3.1 4.15zM299.6 310.9l3.1 -4.15 3.1 4.15 -3.1 4.15zM184.5 307.3l3.1 -4.15 3.1 4.15 -3.1 4.15zM372.1 317.7l3.1 -4.15 3.1 4.15 -3.1 4.15zM243.0 310.9l3.1 -4.15 3.1 4.15 -3.1 4.15zM220.6 316.4l3.1 -4.15 3.1 4.15 -3.1 4.15zM357.3 308.8l3.1 -4.15 3.1 4.15 -3.1 4.15zM182.4 316.4l3.1 -4.15 3.1 4.15 -3.1 4.15zM165.8 310.5l3.1 -4.15 3.1 4.15 -3.1 4.15zM271.4 323.5l3.1 -4.15 3.1 4.15 -3.1 4.15zM318.5 311.5l3.1 -4.15 3.1 4.15 -3.1 4.15zM233.6 315.7l3.1 -4.15 3.1 4.15 -3.1 4.15zM302.4 313.0l3.1 -4.15 3.1 4.15 -3.1 4.15zM269.2 317.0l3.1 -4.15 3.1 4.15 -3.1 4.15zM331.3 314.7l3.1 -4.15 3.1 4.15 -3.1 4.15zM370.2 303.4l3.1 -4.15 3.1 4.15 -3.1 4.15zM177.8 313.4l3.1 -4.15 3.1 4.15 -3.1 4.15zM255.0 317.2l3.1 -4.15 3.1 4.15 -3.1 4.15zM360.2 311.3l3.1 -4.15 3.1 4.15 -3.1 4.15zM307.7 317.7l3.1 -4.15 3.1 4.15 -3.1 4.15zM337.3 306.4l3.1 -4.15 3.1 4.15 -3.1 4.15zM198.8 311.7l3.1 -4.15 3.1 4.15 -3.1 4.15zM229.5 306.9l3.1 -4.15 3.1 4.15 -3.1 4.15zM214.6 312.0l3.1 -4.15 3.1 4.15 -3.1 4.15zM249.1 306.5l3.1 -4.15 3.1 4.15 -3.1 4.15zM251.9 320.1l3.1 -4.15 3.1 4.15 -3.1 4.15zM391.1 320.5l3.1 -4.15 3.1 4.15 -3.1 4.15zM209.7 309.3l3.1 -4.15 3.1 4.15 -3.1 4.15zM324.6 317.5l3.1 -4.15 3.1 4.15 -3.1 4.15zM185.3 313.7l3.1 -4.15 3.1 4.15 -3.1 4.15zM256.3 305.3l3.1 -4.15 3.1 4.15 -3.1 4.15zM237.7 311.5l3.1 -4.15 3.1 4.15 -3.1 4.15zM238.0 320.5l3.1 -4.15 3.1 4.15 -3.1 4.15zM239.7 308.8l3.1 -4.15 3.1 4.15 -3.1 4.15zM280.9 313.4l3.1 -4.15 3.1 4.15 -3.1 4.15zM319.7 320.1l3.1 -4.15 3.1 4.15 -3.1 4.15zM284.1 309.0l3.1 -4.15 3.1 4.15 -3.1 4.15zM233.1 320.1l3.1 -4.15 3.1 4.15 -3.1 4.15zM351.5 315.7l3.1 -4.15 3.1 4.15 -3.1 4.15zM363.9 320.7l3.1 -4.15 3.1 4.15 -3.1 4.15zM248.0 320.6l3.1 -4.15 3.1 4.15 -3.1 4.15zM253.2 303.2l3.1 -4.15 3.1 4.15 -3.1 4.15zM202.1 314.4l3.1 -4.15 3.1 4.15 -3.1 4.15zM255.4 317.8l3.1 -4.15 3.1 4.15 -3.1 4.15zM222.9 322.9l3.1 -4.15 3.1 4.15 -3.1 4.15zM254.3 310.6l3.1 -4.15 3.1 4.15 -3.1 4.15zM280.7 313.9l3.1 -4.15 3.1 4.15 -3.1 4.15zM370.5 309.1l3.1 -4.15 3.1 4.15 -3.1 4.15zM261.6 314.2l3.1 -4.15 3.1 4.15 -3.1 4.15zM275.4 312.2l3.1 -4.15 3.1 4.15 -3.1 4.15zM223.4 321.6l3.1 -4.15 3.1 4.15 -3.1 4.15zM320.2 324.7l3.1 -4.15 3.1 4.15 -3.1 4.15zM342.4 310.5l3.1 -4.15 3.1 4.15 -3.1 4.15zM264.0 307.7l3.1 -4.15 3.1 4.15 -3.1 4.15zM394.3 315.4l3.1 -4.15 3.1 4.15 -3.1 4.15zM310.3 310.2l3.1 -4.15 3.1 4.15 -3.1 4.15zM245.2 301.2l3.1 -4.15 3.1 4.15 -3.1 4.15zM283.9 308.5l3.1 -4.15 3.1 4.15 -3.1 4.15zM346.5 310.6l3.1 -4.15 3.1 4.15 -3.1 4.15zM200.6 319.9l3.1 -4.15 3.1 4.15 -3.1 4.15zM309.5 311.0l3.1 -4.15 3.1 4.15 -3.1 4.15zM300.8 319.5l3.1 -4.15 3.1 4.15 -3.1 4.15zM168.7 309.1l3.1 -4.15 3.1 4.15 -3.1 4.15zM259.6 309.3l3.1 -4.15 3.1 4.15 -3.1 4.15zM314.9 307.7l3.1 -4.15 3.1 4.15 -3.1 4.15zM279.5 312.7l3.1 -4.15 3.1 4.15 -3.1 4.15zM299.4 318.4l3.1 -4.15 3.1 4.15 -3.1 4.15zM346.9 311.4l3.1 -4.15 3.1 4.15 -3.1 4.15zM242.0 306.2l3.1 -4.15 3.1 4.15 -3.1 4.15zM210.2 305.0l3.1 -4.15 3.1 4.15 -3.1 4.15zM254.9 320.6l3.1 -4.15 3.1 4.15 -3.1 4.15zM200.9 301.2l3.1 -4.15 3.1 4.15 -3.1 4.15zM249.1 313.8l3.1 -4.15 3.1 4.15 -3.1 4.15zM221.8 308.7l3.1 -4.15 3.1 4.15 -3.1 4.15zM206.4 314.6l3.1 -4.15 3.1 4.15 -3.1 4.15zM258.8 309.7l3.1 -4.15 3.1 4.15 -3.1 4.15zM219.7 314.5l3.1 -4.15 3.1 4.15 -3.1 4.15zM253.7 307.5l3.1 -4.15 3.1 4.15 -3.1 4.15zM284.6 306.3l3.1 -4.15 3.1 4.15 -3.1 4.15zM288.3 312.6l3.1 -4.15 3.1 4.15 -3.1 4.15zM280.2 316.1l3.1 -4.15 3.1 4.15 -3.1 4.15zM288.6 319.1l3.1 -4.15 3.1 4.15 -3.1 4.15zM323.2 307.6l3.1 -4.15 3.1 4.15 -3.1 4.15zM353.7 324.1l3.1 -4.15 3.1 4.15 -3.1 4.15zM369.2 314.6l3.1 -4.15 3.1 4.15 -3.1 4.15zM213.4 306.9l3.1 -4.15 3.1 4.15 -3.1 4.15zM251.3 312.4l3.1 -4.15 3.1 4.15 -3.1 4.15zM184.1 315.9l3.1 -4.15 3.1 4.15 -3.1 4.15zM322.9 307.0l3.1 -4.15 3.1 4.15 -3.1 4.15zM244.2 316.9l3.1 -4.15 3.1 4.15 -3.1 4.15zM249.4 315.9l3.1 -4.15 3.1 4.15 -3.1 4.15zM324.0 301.8l3.1 -4.15 3.1 4.15 -3.1 4.15zM238.3 308.3l3.1 -4.15 3.1 4.15 -3.1 4.15zM200.7 314.8l3.1 -4.15 3.1 4.15 -3.1 4.15zM279.6 316.5l3.1 -4.15 3.1 4.15 -3.1 4.15zM358.1 314.1l3.1 -4.15 3.1 4.15 -3.1 4.15zM268.3 314.2l3.1 -4.15 3.1 4.15 -3.1 4.15zM266.4 302.0l3.1 -4.15 3.1 4.15 -3.1 4.15zM367.8 316.6l3.1 -4.15 3.1 4.15 -3.1 4.15zM193.3 316.7l3.1 -4.15 3.1 4.15 -3.1 4.15zM284.1 320.4l3.1 -4.15 3.1 4.15 -3.1 4.15zM327.3 314.8l3.1 -4.15 3.1 4.15 -3.1 4.15zM222.1 315.4l3.1 -4.15 3.1 4.15 -3.1 4.15zM279.1 317.9l3.1 -4.15 3.1 4.15 -3.1 4.15zM201.9 307.8l3.1 -4.15 3.1 4.15 -3.1 4.15zM239.6 309.3l3.1 -4.15 3.1 4.15 -3.1 4.15zM249.7 317.3l3.1 -4.15 3.1 4.15 -3.1 4.15zM327.2 312.5l3.1 -4.15 3.1 4.15 -3.1 4.15zM288.3 317.7l3.1 -4.15 3.1 4.15 -3.1 4.15zM267.5 315.3l3.1 -4.15 3.1 4.15 -3.1 4.15zM273.8 316.5l3.1 -4.15 3.1 4.15 -3.1 4.15zM245.1 319.9l3.1 -4.15 3.1 4.15 -3.1 4.15zM210.2 311.1l3.1 -4.15 3.1 4.15 -3.1 4.15zM314.2 315.3l3.1 -4.15 3.1 4.15 -3.1 4.15zM266.2 311.6l3.1 -4.15 3.1 4.15 -3.1 4.15zM221.0 315.2l3.1 -4.15 3.1 4.15 -3.1 4.15zM258.6 313.9l3.1 -4.15 3.1 4.15 -3.1 4.15zM226.6 299.9l3.1 -4.15 3.1 4.15 -3.1 4.15zM228.3 314.8l3.1 -4.15 3.1 4.15 -3.1 4.15zM198.0 312.9l3.1 -4.15 3.1 4.15 -3.1 4.15zM365.4 317.7l3.1 -4.15 3.1 4.15 -3.1 4.15zM257.8 312.2l3.1 -4.15 3.1 4.15 -3.1 4.15zM328.9 308.3l3.1 -4.15 3.1 4.15 -3.1 4.15zM371.8 323.2l3.1 -4.15 3.1 4.15 -3.1 4.15zM189.4 308.8l3.1 -4.15 3.1 4.15 -3.1 4.15zM300.1 309.4l3.1 -4.15 3.1 4.15 -3.1 4.15zM339.6 308.0l3.1 -4.15 3.1 4.15 -3.1 4.15zM181.3 313.5l3.1 -4.15 3.1 4.15 -3.1 4.15zM225.3 302.3l3.1 -4.15 3.1 4.15 -3.1 4.15zM213.8 307.8l3.1 -4.15 3.1 4.15 -3.1 4.15zM241.9 299.0l3.1 -4.15 3.1 4.15 -3.1 4.15zM243.5 313.8l3.1 -4.15 3.1 4.15 -3.1 4.15zM343.5 312.4l3.1 -4.15 3.1 4.15 -3.1 4.15zM223.2 322.3l3.1 -4.15 3.1 4.15 -3.1 4.15zM321.9 316.5l3.1 -4.15 3.1 4.15 -3.1 4.15zM282.8 320.6l3.1 -4.15 3.1 4.15 -3.1 4.15zM205.6 311.0l3.1 -4.15 3.1 4.15 -3.1 4.15zM331.3 307.5l3.1 -4.15 3.1 4.15 -3.1 4.15zM160.1 314.4l3.1 -4.15 3.1 4.15 -3.1 4.15zM365.0 313.1l3.1 -4.15 3.1 4.15 -3.1 4.15zM210.8 303.0l3.1 -4.15 3.1 4.15 -3.1 4.15zM303.1 321.5l3.1 -4.15 3.1 4.15 -3.1 4.15zM311.2 309.0l3.1 -4.15 3.1 4.15 -3.1 4.15zM303.2 312.0l3.1 -4.15 3.1 4.15 -3.1 4.15zM223.1 306.2l3.1 -4.15 3.1 4.15 -3.1 4.15zM252.9 321.2l3.1 -4.15 3.1 4.15 -3.1 4.15zM326.5 319.6l3.1 -4.15 3.1 4.15 -3.1 4.15zM243.8 310.1l3.1 -4.15 3.1 4.15 -3.1 4.15zM342.4 317.2l3.1 -4.15 3.1 4.15 -3.1 4.15zM337.4 315.4l3.1 -4.15 3.1 4.15 -3.1 4.15zM180.1 313.4l3.1 -4.15 3.1 4.15 -3.1 4.15zM198.7 316.0l3.1 -4.15 3.1 4.15 -3.1 4.15zM301.2 313.3l3.1 -4.15 3.1 4.15 -3.1 4.15zM318.4 304.2l3.1 -4.15 3.1 4.15 -3.1 4.15zM283.2 311.7l3.1 -4.15 3.1 4.15 -3.1 4.15zM326.9 306.4l3.1 -4.15 3.1 4.15 -3.1 4.15zM297.6 317.7l3.1 -4.15 3.1 4.15 -3.1 4.15zM349.7 318.1l3.1 -4.15 3.1 4.15 -3.1 4.15zM193.5 318.2l3.1 -4.15 3.1 4.15 -3.1 4.15zM361.8 310.6l3.1 -4.15 3.1 4.15 -3.1 4.15zM273.7 321.8l3.1 -4.15 3.1 4.15 -3.1 4.15zM310.3 325.6l3.1 -4.15 3.1 4.15 -3.1 4.15zM347.4 317.6l3.1 -4.15 3.1 4.15 -3.1 4.15zM328.1 320.6l3.1 -4.15 3.1 4.15 -3.1 4.15zM322.1 313.2l3.1 -4.15 3.1 4.15 -3.1 4.15zM276.9 317.7l3.1 -4.15 3.1 4.15 -3.1 4.15zM287.2 321.2l3.1 -4.15 3.1 4.15 -3.1 4.15zM285.7 308.1l3.1 -4.15 3.1 4.15 -3.1 4.15zM401.0 316.7l3.1 -4.15 3.1 4.15 -3.1 4.15zM192.9 313.8l3.1 -4.15 3.1 4.15 -3.1 4.15zM197.2 308.3l3.1 -4.15 3.1 4.15 -3.1 4.15zM274.5 314.3l3.1 -4.15 3.1 4.15 -3.1 4.15zM287.4 317.7l3.1 -4.15 3.1 4.15 -3.1 4.15zM295.5 316.7l3.1 -4.15 3.1 4.15 -3.1 4.15zM297.9 305.3l3.1 -4.15 3.1 4.15 -3.1 4.15zM285.4 317.5l3.1 -4.15 3.1 4.15 -3.1 4.15zM217.0 314.6l3.1 -4.15 3.1 4.15 -3.1 4.15zM274.2 313.7l3.1 -4.15 3.1 4.15 -3.1 4.15zM297.1 311.3l3.1 -4.15 3.1 4.15 -3.1 4.15zM322.2 313.9l3.1 -4.15 3.1 4.15 -3.1 4.15zM346.6 312.8l3.1 -4.15 3.1 4.15 -3.1 4.15zM252.7 315.5l3.1 -4.15 3.1 4.15 -3.1 4.15zM249.4 306.8l3.1 -4.15 3.1 4.15 -3.1 4.15zM314.1 308.3l3.1 -4.15 3.1 4.15 -3.1 4.15zM236.8 316.2l3.1 -4.15 3.1 4.15 -3.1 4.15zM308.8 303.3l3.1 -4.15 3.1 4.15 -3.1 4.15zM248.1 313.0l3.1 -4.15 3.1 4.15 -3.1 4.15zM321.1 317.4l3.1 -4.15 3.1 4.15 -3.1 4.15zM295.3 305.9l3.1 -4.15 3.1 4.15 -3.1 4.15zM288.6 314.0l3.1 -4.15 3.1 4.15 -3.1 4.15zM231.3 313.8l3.1 -4.15 3.1 4.15 -3.1 4.15zM264.1 316.1l3.1 -4.15 3.1 4.15 -3.1 4.15zM280.6 304.9l3.1 -4.15 3.1 4.15 -3.1 4.15zM246.8 308.6l3.1 -4.15 3.1 4.15 -3.1 4.15zM263.6 313.0l3.1 -4.15 3.1 4.15 -3.1 4.15zM296.9 300.9l3.1 -4.15 3.1 4.15 -3.1 4.15zM246.8 315.0l3.1 -4.15 3.1 4.15 -3.1 4.15zM236.4 311.5l3.1 -4.15 3.1 4.15 -3.1 4.15zM314.5 313.7l3.1 -4.15 3.1 4.15 -3.1 4.15zM247.1 321.6l3.1 -4.15 3.1 4.15 -3.1 4.15zM286.6 321.2l3.1 -4.15 3.1 4.15 -3.1 4.15zM267.0 319.5l3.1 -4.15 3.1 4.15 -3.1 4.15zM348.7 315.1l3.1 -4.15 3.1 4.15 -3.1 4.15zM196.1 309.9l3.1 -4.15 3.1 4.15 -3.1 4.15zM289.3 320.3l3.1 -4.15 3.1 4.15 -3.1 4.15zM315.9 313.6l3.1 -4.15 3.1 4.15 -3.1 4.15zM283.0 322.1l3.1 -4.15 3.1 4.15 -3.1 4.15zM246.6 310.1l3.1 -4.15 3.1 4.15 -3.1 4.15zM256.1 310.8l3.1 -4.15 3.1 4.15 -3.1 4.15zM210.5 317.2l3.1 -4.15 3.1 4.15 -3.1 4.15zM171.4 300.5l3.1 -4.15 3.1 4.15 -3.1 4.15zM270.1 302.0l3.1 -4.15 3.1 4.15 -3.1 4.15zM207.9 318.0l3.1 -4.15 3.1 4.15 -3.1 4.15zM247.2 309.7l3.1 -4.15 3.1 4.15 -3.1 4.15zM293.1 322.2l3.1 -4.15 3.1 4.15 -3.1 4.15zM310.5 307.0l3.1 -4.15 3.1 4.15 -3.1 4.15zM192.8 309.9l3.1 -4.15 3.1 4.15 -3.1 4.15zM269.8 324.7l3.1 -4.15 3.1 4.15 -3.1 4.15zM313.3 318.3l3.1 -4.15 3.1 4.15 -3.1 4.15zM317.3 309.2l3.1 -4.15 3.1 4.15 -3.1 4.15zM348.1 318.8l3.1 -4.15 3.1 4.15 -3.1 4.15zM226.1 315.1l3.1 -4.15 3.1 4.15 -3.1 4.15zM192.0 310.6l3.1 -4.15 3.1 4.15 -3.1 4.15zM334.9 307.2l3.1 -4.15 3.1 4.15 -3.1 4.15zM320.5 318.1l3.1 -4.15 3.1 4.15 -3.1 4.15zM258.5 305.5l3.1 -4.15 3.1 4.15 -3.1 4.15zM241.4 312.3l3.1 -4.15 3.1 4.15 -3.1 4.15zM322.8 309.6l3.1 -4.15 3.1 4.15 -3.1 4.15zM247.0 318.2l3.1 -4.15 3.1 4.15 -3.1 4.15zM175.3 312.8l3.1 -4.15 3.1 4.15 -3.1 4.15zM251.1 309.3l3.1 -4.15 3.1 4.15 -3.1 4.15zM271.5 313.4l3.1 -4.15 3.1 4.15 -3.1 4.15zM188.8 318.9l3.1 -4.15 3.1 4.15 -3.1 4.15zM261.9 304.3l3.1 -4.15 3.1 4.15 -3.1 4.15zM185.7 319.1l3.1 -4.15 3.1 4.15 -3.1 4.15zM307.0 320.4l3.1 -4.15 3.1 4.15 -3.1 4.15zM334.6 304.5l3.1 -4.15 3.1 4.15 -3.1 4.15zM168.3 314.2l3.1 -4.15 3.1 4.15 -3.1 4.15zM183.4 316.3l3.1 -4.15 3.1 4.15 -3.1 4.15zM282.7 308.4l3.1 -4.15 3.1 4.15 -3.1 4.15zM253.8 309.7l3.1 -4.15 3.1 4.15 -3.1 4.15zM259.1 313.5l3.1 -4.15 3.1 4.15 -3.1 4.15zM223.7 310.0l3.1 -4.15 3.1 4.15 -3.1 4.15zM339.3 320.0l3.1 -4.15 3.1 4.15 -3.1 4.15zM302.6 312.9l3.1 -4.15 3.1 4.15 -3.1 4.15zM270.9 313.4l3.1 -4.15 3.1 4.15 -3.1 4.15zM261.3 306.9l3.1 -4.15 3.1 4.15 -3.1 4.15zM343.4 314.8l3.1 -4.15 3.1 4.15 -3.1 4.15zM197.0 308.4l3.1 -4.15 3.1 4.15 -3.1 4.15zM374.8 310.2l3.1 -4.15 3.1 4.15 -3.1 4.15zM320.5 310.2l3.1 -4.15 3.1 4.15 -3.1 4.15zM294.0 313.9l3.1 -4.15 3.1 4.15 -3.1 4.15zM264.5 315.5l3.1 -4.15 3.1 4.15 -3.1 4.15zM238.9 314.1l3.1 -4.15 3.1 4.15 -3.1 4.15zM269.1 315.5l3.1 -4.15 3.1 4.15 -3.1 4.15zM211.6 319.3l3.1 -4.15 3.1 4.15 -3.1 4.15zM244.3 308.5l3.1 -4.15 3.1 4.15 -3.1 4.15zM359.2 317.8l3.1 -4.15 3.1 4.15 -3.1 4.15zM301.7 318.5l3.1 -4.15 3.1 4.15 -3.1 4.15zM196.7 316.1l3.1 -4.15 3.1 4.15 -3.1 4.15zM301.6 310.8l3.1 -4.15 3.1 4.15 -3.1 4.15zM247.1 311.4l3.1 -4.15 3.1 4.15 -3.1 4.15zM350.7 321.4l3.1 -4.15 3.1 4.15 -3.1 4.15zM222.5 329.7l3.1 -4.15 3.1 4.15 -3.1 4.15zM315.2 318.5l3.1 -4.15 3.1 4.15 -3.1 4.15zM305.0 322.0l3.1 -4.15 3.1 4.15 -3.1 4.15zM317.7 316.6l3.1 -4.15 3.1 4.15 -3.1 4.15zM304.0 305.9l3.1 -4.15 3.1 4.15 -3.1 4.15zM196.4 318.1l3.1 -4.15 3.1 4.15 -3.1 4.15zM225.7 317.9l3.1 -4.15 3.1 4.15 -3.1 4.15zM229.3 310.9l3.1 -4.15 3.1 4.15 -3.1 4.15zM266.8 311.0l3.1 -4.15 3.1 4.15 -3.1 4.15zM261.9 327.6l3.1 -4.15 3.1 4.15 -3.1 4.15zM224.5 309.5l3.1 -4.15 3.1 4.15 -3.1 4.15zM342.7 316.8l3.1 -4.15 3.1 4.15 -3.1 4.15zM215.0 308.0l3.1 -4.15 3.1 4.15 -3.1 4.15zM310.8 316.7l3.1 -4.15 3.1 4.15 -3.1 4.15zM351.8 308.1l3.1 -4.15 3.1 4.15 -3.1 4.15zM330.0 329.0l3.1 -4.15 3.1 4.15 -3.1 4.15zM368.5 321.8l3.1 -4.15 3.1 4.15 -3.1 4.15zM195.7 319.6l3.1 -4.15 3.1 4.15 -3.1 4.15zM306.3 316.2l3.1 -4.15 3.1 4.15 -3.1 4.15zM323.5 310.7l3.1 -4.15 3.1 4.15 -3.1 4.15zM175.0 311.8l3.1 -4.15 3.1 4.15 -3.1 4.15zM247.4 310.4l3.1 -4.15 3.1 4.15 -3.1 4.15zM270.0 320.5l3.1 -4.15 3.1 4.15 -3.1 4.15zM232.4 316.2l3.1 -4.15 3.1 4.15 -3.1 4.15zM268.4 317.9l3.1 -4.15 3.1 4.15 -3.1 4.15zM306.8 304.3l3.1 -4.15 3.1 4.15 -3.1 4.15zM308.2 308.6l3.1 -4.15 3.1 4.15 -3.1 4.15zM251.5 309.8l3.1 -4.15 3.1 4.15 -3.1 4.15zM235.1 304.1l3.1 -4.15 3.1 4.15 -3.1 4.15zM229.3 336.8l3.1 -4.15 3.1 4.15 -3.1 4.15zM328.3 312.1l3.1 -4.15 3.1 4.15 -3.1 4.15zM226.4 315.1l3.1 -4.15 3.1 4.15 -3.1 4.15zM317.9 317.0l3.1 -4.15 3.1 4.15 -3.1 4.15zM260.2 318.4l3.1 -4.15 3.1 4.15 -3.1 4.15zM289.7 317.3l3.1 -4.15 3.1 4.15 -3.1 4.15zM196.8 315.8l3.1 -4.15 3.1 4.15 -3.1 4.15zM393.3 310.9l3.1 -4.15 3.1 4.15 -3.1 4.15zM239.3 315.5l3.1 -4.15 3.1 4.15 -3.1 4.15zM232.1 312.2l3.1 -4.15 3.1 4.15 -3.1 4.15zM266.0 319.2l3.1 -4.15 3.1 4.15 -3.1 4.15zM389.1 319.1l3.1 -4.15 3.1 4.15 -3.1 4.15zM279.0 317.0l3.1 -4.15 3.1 4.15 -3.1 4.15zM296.6 313.0l3.1 -4.15 3.1 4.15 -3.1 4.15zM342.3 315.5l3.1 -4.15 3.1 4.15 -3.1 4.15zM263.5 308.9l3.1 -4.15 3.1 4.15 -3.1 4.15zM284.9 316.5l3.1 -4.15 3.1 4.15 -3.1 4.15zM256.6 316.9l3.1 -4.15 3.1 4.15 -3.1 4.15zM186.8 309.3l3.1 -4.15 3.1 4.15 -3.1 4.15zM341.8 321.8l3.1 -4.15 3.1 4.15 -3.1 4.15zM322.9 325.0l3.1 -4.15 3.1 4.15 -3.1 4.15zM303.3 315.9l3.1 -4.15 3.1 4.15 -3.1 4.15zM185.0 313.1l3.1 -4.15 3.1 4.15 -3.1 4.15zM292.1 307.1l3.1 -4.15 3.1 4.15 -3.1 4.15zM221.9 314.9l3.1 -4.15 3.1 4.15 -3.1 4.15zM243.2 314.2l3.1 -4.15 3.1 4.15 -3.1 4.15zM218.3 320.0l3.1 -4.15 3.1 4.15 -3.1 4.15zM237.6 312.9l3.1 -4.15 3.1 4.15 -3.1 4.15zM274.3 306.7l3.1 -4.15 3.1 4.15 -3.1 4.15zM259.9 317.0l3.1 -4.15 3.1 4.15 -3.1 4.15zM245.7 316.4l3.1 -4.15 3.1 4.15 -3.1 4.15zM209.6 314.1l3.1 -4.15 3.1 4.15 -3.1 4.15zM322.0 309.9l3.1 -4.15 3.1 4.15 -3.1 4.15zM216.8 320.4l3.1 -4.15 3.1 4.15 -3.1 4.15zM363.4 315.1l3.1 -4.15 3.1 4.15 -3.1 4.15zM331.6 310.8l3.1 -4.15 3.1 4.15 -3.1 4.15zM367.9 315.4l3.1 -4.15 3.1 4.15 -3.1 4.15zM337.2 319.6l3.1 -4.15 3.1 4.15 -3.1 4.15zM268.1 321.8l3.1 -4.15 3.1 4.15 -3.1 4.15zM172.9 302.9l3.1 -4.15 3.1 4.15 -3.1 4.15zM295.5 311.5l3.1 -4.15 3.1 4.15 -3.1 4.15zM222.9 315.4l3.1 -4.15 3.1 4.15 -3.1 4.15zM206.3 320.9l3.1 -4.15 3.1 4.15 -3.1 4.15zM238.3 323.1l3.1 -4.15 3.1 4.15 -3.1 4.15zM235.0 319.9l3.1 -4.15 3.1 4.15 -3.1 4.15zM221.1 312.3l3.1 -4.15 3.1 4.15 -3.1 4.15zM185.6 314.7l3.1 -4.15 3.1 4.15 -3.1 4.15zM225.6 316.4l3.1 -4.15 3.1 4.15 -3.1 4.15zM215.4 318.4l3.1 -4.15 3.1 4.15 -3.1 4.15zM224.4 307.6l3.1 -4.15 3.1 4.15 -3.1 4.15zM176.2 314.8l3.1 -4.15 3.1 4.15 -3.1 4.15zM274.0 312.9l3.1 -4.15 3.1 4.15 -3.1 4.15zM238.5 302.0l3.1 -4.15 3.1 4.15 -3.1 4.15zM171.2 312.8l3.1 -4.15 3.1 4.15 -3.1 4.15zM165.7 317.5l3.1 -4.15 3.1 4.15 -3.1 4.15zM333.5 313.6l3.1 -4.15 3.1 4.15 -3.1 4.15zM298.2 307.4l3.1 -4.15 3.1 4.15 -3.1 4.15zM161.5 306.6l3.1 -4.15 3.1 4.15 -3.1 4.15zM319.8 310.7l3.1 -4.15 3.1 4.15 -3.1 4.15zM246.3 304.3l3.1 -4.15 3.1 4.15 -3.1 4.15zM194.8 317.7l3.1 -4.15 3.1 4.15 -3.1 4.15zM194.9 317.4l3.1 -4.15 3.1 4.15 -3.1 4.15zM344.7 306.3l3.1 -4.15 3.1 4.15 -3.1 4.15zM323.1 309.9l3.1 -4.15 3.1 4.15 -3.1 4.15zM234.3 314.3l3.1 -4.15 3.1 4.15 -3.1 4.15zM337.3 306.8l3.1 -4.15 3.1 4.15 -3.1 4.15zM223.4 320.1l3.1 -4.15 3.1 4.15 -3.1 4.15zM278.0 313.3l3.1 -4.15 3.1 4.15 -3.1 4.15zM290.5 310.9l3.1 -4.15 3.1 4.15 -3.1 4.15zM323.5 318.7l3.1 -4.15 3.1 4.15 -3.1 4.15zM356.8 309.9l3.1 -4.15 3.1 4.15 -3.1 4.15zM204.5 308.7l3.1 -4.15 3.1 4.15 -3.1 4.15zM352.4 325.1l3.1 -4.15 3.1 4.15 -3.1 4.15zM342.0 317.2l3.1 -4.15 3.1 4.15 -3.1 4.15zM297.6 318.2l3.1 -4.15 3.1 4.15 -3.1 4.15zM268.3 309.8l3.1 -4.15 3.1 4.15 -3.1 4.15zM390.2 324.2l3.1 -4.15 3.1 4.15 -3.1 4.15zM320.3 312.6l3.1 -4.15 3.1 4.15 -3.1 4.15zM302.3 317.6l3.1 -4.15 3.1 4.15 -3.1 4.15zM368.9 315.4l3.1 -4.15 3.1 4.15 -3.1 4.15zM217.0 317.8l3.1 -4.15 3.1 4.15 -3.1 4.15zM193.2 308.2l3.1 -4.15 3.1 4.15 -3.1 4.15zM327.5 311.8l3.1 -4.15 3.1 4.15 -3.1 4.15zM291.9 308.0l3.1 -4.15 3.1 4.15 -3.1 4.15zM240.3 308.8l3.1 -4.15 3.1 4.15 -3.1 4.15zM267.2 316.1l3.1 -4.15 3.1 4.15 -3.1 4.15zM201.3 310.4l3.1 -4.15 3.1 4.15 -3.1 4.15zM162.0 306.8l3.1 -4.15 3.1 4.15 -3.1 4.15zM240.8 310.4l3.1 -4.15 3.1 4.15 -3.1 4.15zM295.7 315.7l3.1 -4.15 3.1 4.15 -3.1 4.15zM302.2 322.0l3.1 -4.15 3.1 4.15 -3.1 4.15zM245.2 313.3l3.1 -4.15 3.1 4.15 -3.1 4.15zM220.2 317.5l3.1 -4.15 3.1 4.15 -3.1 4.15zM224.4 320.5l3.1 -4.15 3.1 4.15 -3.1 4.15zM273.6 317.2l3.1 -4.15 3.1 4.15 -3.1 4.15zM386.7 306.6l3.1 -4.15 3.1 4.15 -3.1 4.15zM297.7 320.9l3.1 -4.15 3.1 4.15 -3.1 4.15zM197.1 315.1l3.1 -4.15 3.1 4.15 -3.1 4.15zM299.7 317.7l3.1 -4.15 3.1 4.15 -3.1 4.15zM339.5 313.1l3.1 -4.15 3.1 4.15 -3.1 4.15zM327.8 313.2l3.1 -4.15 3.1 4.15 -3.1 4.15zM200.4 329.5l3.1 -4.15 3.1 4.15 -3.1 4.15zM347.3 321.1l3.1 -4.15 3.1 4.15 -3.1 4.15zM276.3 316.3l3.1 -4.15 3.1 4.15 -3.1 4.15zM205.7 327.3l3.1 -4.15 3.1 4.15 -3.1 4.15zM391.7 319.3l3.1 -4.15 3.1 4.15 -3.1 4.15zM316.6 316.2l3.1 -4.15 3.1 4.15 -3.1 4.15zM242.5 317.9l3.1 -4.15 3.1 4.15 -3.1 4.15zM230.8 310.7l3.1 -4.15 3.1 4.15 -3.1 4.15zM372.1 319.4l3.1 -4.15 3.1 4.15 -3.1 4.15zM335.4 316.5l3.1 -4.15 3.1 4.15 -3.1 4.15zM308.6 311.5l3.1 -4.15 3.1 4.15 -3.1 4.15zM203.2 315.4l3.1 -4.15 3.1 4.15 -3.1 4.15zM234.0 308.3l3.1 -4.15 3.1 4.15 -3.1 4.15zM251.3 312.3l3.1 -4.15 3.1 4.15 -3.1 4.15zM290.2 328.6l3.1 -4.15 3.1 4.15 -3.1 4.15zM266.7 315.9l3.1 -4.15 3.1 4.15 -3.1 4.15zM285.2 310.7l3.1 -4.15 3.1 4.15 -3.1 4.15zM300.8 311.7l3.1 -4.15 3.1 4.15 -3.1 4.15zM273.6 305.7l3.1 -4.15 3.1 4.15 -3.1 4.15zM202.2 315.6l3.1 -4.15 3.1 4.15 -3.1 4.15zM225.2 310.5l3.1 -4.15 3.1 4.15 -3.1 4.15zM390.0 315.7l3.1 -4.15 3.1 4.15 -3.1 4.15zM240.8 309.4l3.1 -4.15 3.1 4.15 -3.1 4.15zM209.0 314.0l3.1 -4.15 3.1 4.15 -3.1 4.15zM287.4 315.7l3.1 -4.15 3.1 4.15 -3.1 4.15zM291.6 307.8l3.1 -4.15 3.1 4.15 -3.1 4.15zM319.1 317.8l3.1 -4.15 3.1 4.15 -3.1 4.15zM220.9 306.9l3.1 -4.15 3.1 4.15 -3.1 4.15zM306.2 313.7l3.1 -4.15 3.1 4.15 -3.1 4.15zM243.7 324.4l3.1 -4.15 3.1 4.15 -3.1 4.15zM340.5 314.5l3.1 -4.15 3.1 4.15 -3.1 4.15zM373.5 313.3l3.1 -4.15 3.1 4.15 -3.1 4.15zM260.7 310.9l3.1 -4.15 3.1 4.15 -3.1 4.15zM178.0 316.0l3.1 -4.15 3.1 4.15 -3.1 4.15zM263.5 321.3l3.1 -4.15 3.1 4.15 -3.1 4.15zM276.4 315.9l3.1 -4.15 3.1 4.15 -3.1 4.15zM210.2 314.6l3.1 -4.15 3.1 4.15 -3.1 4.15zM324.9 313.5l3.1 -4.15 3.1 4.15 -3.1 4.15zM349.5 305.8l3.1 -4.15 3.1 4.15 -3.1 4.15zM331.2 314.2l3.1 -4.15 3.1 4.15 -3.1 4.15zM252.3 318.0l3.1 -4.15 3.1 4.15 -3.1 4.15zM209.1 319.7l3.1 -4.15 3.1 4.15 -3.1 4.15zM220.2 309.8l3.1 -4.15 3.1 4.15 -3.1 4.15zM296.1 318.0l3.1 -4.15 3.1 4.15 -3.1 4.15zM220.2 328.3l3.1 -4.15 3.1 4.15 -3.1 4.15zM260.3 317.4l3.1 -4.15 3.1 4.15 -3.1 4.15zM240.1 307.4l3.1 -4.15 3.1 4.15 -3.1 4.15zM215.0 312.1l3.1 -4.15 3.1 4.15 -3.1 4.15zM314.8 317.2l3.1 -4.15 3.1 4.15 -3.1 4.15zM169.7 319.0l3.1 -4.15 3.1 4.15 -3.1 4.15zM242.9 314.8l3.1 -4.15 3.1 4.15 -3.1 4.15zM199.1 308.7l3.1 -4.15 3.1 4.15 -3.1 4.15zM285.1 312.4l3.1 -4.15 3.1 4.15 -3.1 4.15zM370.9 307.6l3.1 -4.15 3.1 4.15 -3.1 4.15zM318.8 305.9l3.1 -4.15 3.1 4.15 -3.1 4.15zM253.9 325.9l3.1 -4.15 3.1 4.15 -3.1 4.15zM190.2 324.9l3.1 -4.15 3.1 4.15 -3.1 4.15zM277.9 320.2l3.1 -4.15 3.1 4.15 -3.1 4.15zM225.9 323.3l3.1 -4.15 3.1 4.15 -3.1 4.15zM185.7 315.0l3.1 -4.15 3.1 4.15 -3.1 4.15zM247.9 314.2l3.1 -4.15 3.1 4.15 -3.1 4.15zM298.4 323.2l3.1 -4.15 3.1 4.15 -3.1 4.15zM219.3 314.2l3.1 -4.15 3.1 4.15 -3.1 4.15zM202.3 311.9l3.1 -4.15 3.1 4.15 -3.1 4.15zM159.7 308.5l3.1 -4.15 3.1 4.15 -3.1 4.15zM309.3 317.4l3.1 -4.15 3.1 4.15 -3.1 4.15zM302.5 309.8l3.1 -4.15 3.1 4.15 -3.1 4.15zM212.0 324.6l3.1 -4.15 3.1 4.15 -3.1 4.15zM187.7 317.5l3.1 -4.15 3.1 4.15 -3.1 4.15zM224.3 312.7l3.1 -4.15 3.1 4.15 -3.1 4.15zM210.1 314.9l3.1 -4.15 3.1 4.15 -3.1 4.15zM223.7 318.2l3.1 -4.15 3.1 4.15 -3.1 4.15zM345.2 313.3l3.1 -4.15 3.1 4.15 -3.1 4.15zM230.9 307.3l3.1 -4.15 3.1 4.15 -3.1 4.15zM213.6 315.8l3.1 -4.15 3.1 4.15 -3.1 4.15zM309.5 321.1l3.1 -4.15 3.1 4.15 -3.1 4.15zM325.2 310.7l3.1 -4.15 3.1 4.15 -3.1 4.15zM316.7 308.6l3.1 -4.15 3.1 4.15 -3.1 4.15zM332.5 313.4l3.1 -4.15 3.1 4.15 -3.1 4.15zM274.9 308.9l3.1 -4.15 3.1 4.15 -3.1 4.15zM288.8 309.0l3.1 -4.15 3.1 4.15 -3.1 4.15zM202.8 312.0l3.1 -4.15 3.1 4.15 -3.1 4.15zM315.0 306.8l3.1 -4.15 3.1 4.15 -3.1 4.15zM238.4 309.1l3.1 -4.15 3.1 4.15 -3.1 4.15zM309.1 311.4l3.1 -4.15 3.1 4.15 -3.1 4.15zM187.5 310.0l3.1 -4.15 3.1 4.15 -3.1 4.15zM310.8 308.3l3.1 -4.15 3.1 4.15 -3.1 4.15zM323.1 319.3l3.1 -4.15 3.1 4.15 -3.1 4.15zM211.1 317.7l3.1 -4.15 3.1 4.15 -3.1 4.15zM190.0 317.9l3.1 -4.15 3.1 4.15 -3.1 4.15zM191.2 306.9l3.1 -4.15 3.1 4.15 -3.1 4.15zM255.8 304.6l3.1 -4.15 3.1 4.15 -3.1 4.15zM272.0 309.9l3.1 -4.15 3.1 4.15 -3.1 4.15zM278.3 307.7l3.1 -4.15 3.1 4.15 -3.1 4.15zM211.7 313.1l3.1 -4.15 3.1 4.15 -3.1 4.15zM328.2 321.9l3.1 -4.15 3.1 4.15 -3.1 4.15zM267.6 310.0l3.1 -4.15 3.1 4.15 -3.1 4.15zM220.6 315.8l3.1 -4.15 3.1 4.15 -3.1 4.15zM311.0 310.4l3.1 -4.15 3.1 4.15 -3.1 4.15zM208.0 324.8l3.1 -4.15 3.1 4.15 -3.1 4.15zM222.1 310.8l3.1 -4.15 3.1 4.15 -3.1 4.15zM345.6 318.9l3.1 -4.15 3.1 4.15 -3.1 4.15zM208.1 323.5l3.1 -4.15 3.1 4.15 -3.1 4.15zM233.3 308.5l3.1 -4.15 3.1 4.15 -3.1 4.15zM268.5 319.3l3.1 -4.15 3.1 4.15 -3.1 4.15zM349.5 315.3l3.1 -4.15 3.1 4.15 -3.1 4.15zM363.0 315.5l3.1 -4.15 3.1 4.15 -3.1 4.15zM244.6 317.1l3.1 -4.15 3.1 4.15 -3.1 4.15zM203.7 312.7l3.1 -4.15 3.1 4.15 -3.1 4.15zM215.1 314.9l3.1 -4.15 3.1 4.15 -3.1 4.15zM324.1 310.2l3.1 -4.15 3.1 4.15 -3.1 4.15zM244.9 301.7l3.1 -4.15 3.1 4.15 -3.1 4.15zM238.4 315.2l3.1 -4.15 3.1 4.15 -3.1 4.15zM234.6 310.8l3.1 -4.15 3.1 4.15 -3.1 4.15zM273.8 303.2l3.1 -4.15 3.1 4.15 -3.1 4.15zM267.2 316.8l3.1 -4.15 3.1 4.15 -3.1 4.15zM201.8 312.1l3.1 -4.15 3.1 4.15 -3.1 4.15zM248.9 312.5l3.1 -4.15 3.1 4.15 -3.1 4.15zM312.0 313.7l3.1 -4.15 3.1 4.15 -3.1 4.15zM291.0 308.6l3.1 -4.15 3.1 4.15 -3.1 4.15zM400.8 320.5l3.1 -4.15 3.1 4.15 -3.1 4.15zM269.9 309.9l3.1 -4.15 3.1 4.15 -3.1 4.15zM280.0 319.5l3.1 -4.15 3.1 4.15 -3.1 4.15zM188.7 318.4l3.1 -4.15 3.1 4.15 -3.1 4.15zM205.6 305.7l3.1 -4.15 3.1 4.15 -3.1 4.15zM332.9 316.8l3.1 -4.15 3.1 4.15 -3.1 4.15zM174.4 316.0l3.1 -4.15 3.1 4.15 -3.1 4.15zM196.6 310.1l3.1 -4.15 3.1 4.15 -3.1 4.15zM200.5 307.5l3.1 -4.15 3.1 4.15 -3.1 4.15zM283.8 316.8l3.1 -4.15 3.1 4.15 -3.1 4.15zM203.0 311.8l3.1 -4.15 3.1 4.15 -3.1 4.15zM191.7 319.2l3.1 -4.15 3.1 4.15 -3.1 4.15zM202.9 313.1l3.1 -4.15 3.1 4.15 -3.1 4.15zM267.5 332.3l3.1 -4.15 3.1 4.15 -3.1 4.15zM298.8 305.8l3.1 -4.15 3.1 4.15 -3.1 4.15zM296.2 316.1l3.1 -4.15 3.1 4.15 -3.1 4.15zM287.9 320.2l3.1 -4.15 3.1 4.15 -3.1 4.15zM250.7 318.6l3.1 -4.15 3.1 4.15 -3.1 4.15zM268.0 312.1l3.1 -4.15 3.1 4.15 -3.1 4.15zM233.4 318.7l3.1 -4.15 3.1 4.15 -3.1 4.15zM207.1 316.9l3.1 -4.15 3.1 4.15 -3.1 4.15zM334.1 310.0l3.1 -4.15 3.1 4.15 -3.1 4.15zM254.0 308.3l3.1 -4.15 3.1 4.15 -3.1 4.15zM309.5 306.9l3.1 -4.15 3.1 4.15 -3.1 4.15zM209.4 315.2l3.1 -4.15 3.1 4.15 -3.1 4.15zM249.7 313.9l3.1 -4.15 3.1 4.15 -3.1 4.15zM242.3 304.3l3.1 -4.15 3.1 4.15 -3.1 4.15zM255.1 314.2l3.1 -4.15 3.1 4.15 -3.1 4.15zM394.2 315.8l3.1 -4.15 3.1 4.15 -3.1 4.15zM295.0 303.1l3.1 -4.15 3.1 4.15 -3.1 4.15zM166.6 308.9l3.1 -4.15 3.1 4.15 -3.1 4.15zM347.4 312.4l3.1 -4.15 3.1 4.15 -3.1 4.15zM208.4 311.6l3.1 -4.15 3.1 4.15 -3.1 4.15zM311.9 307.7l3.1 -4.15 3.1 4.15 -3.1 4.15zM386.0 318.1l3.1 -4.15 3.1 4.15 -3.1 4.15zM274.6 308.3l3.1 -4.15 3.1 4.15 -3.1 4.15zM278.7 316.8l3.1 -4.15 3.1 4.15 -3.1 4.15zM204.4 316.2l3.1 -4.15 3.1 4.15 -3.1 4.15zM275.6 314.2l3.1 -4.15 3.1 4.15 -3.1 4.15zM216.8 310.4l3.1 -4.15 3.1 4.15 -3.1 4.15zM258.1 316.6l3.1 -4.15 3.1 4.15 -3.1 4.15zM282.0 322.7l3.1 -4.15 3.1 4.15 -3.1 4.15zM196.9 314.8l3.1 -4.15 3.1 4.15 -3.1 4.15zM218.8 310.9l3.1 -4.15 3.1 4.15 -3.1 4.15zM297.3 309.4l3.1 -4.15 3.1 4.15 -3.1 4.15zM242.6 315.9l3.1 -4.15 3.1 4.15 -3.1 4.15zM240.0 320.7l3.1 -4.15 3.1 4.15 -3.1 4.15zM292.4 306.4l3.1 -4.15 3.1 4.15 -3.1 4.15zM190.3 319.8l3.1 -4.15 3.1 4.15 -3.1 4.15zM326.1 313.1l3.1 -4.15 3.1 4.15 -3.1 4.15zM230.3 310.1l3.1 -4.15 3.1 4.15 -3.1 4.15zM258.3 311.7l3.1 -4.15 3.1 4.15 -3.1 4.15zM198.5 314.4l3.1 -4.15 3.1 4.15 -3.1 4.15zM370.5 317.7l3.1 -4.15 3.1 4.15 -3.1 4.15zM304.1 311.0l3.1 -4.15 3.1 4.15 -3.1 4.15zM363.1 309.8l3.1 -4.15 3.1 4.15 -3.1 4.15zM181.6 308.3l3.1 -4.15 3.1 4.15 -3.1 4.15zM232.5 317.6l3.1 -4.15 3.1 4.15 -3.1 4.15zM267.5 315.5l3.1 -4.15 3.1 4.15 -3.1 4.15zM201.5 309.1l3.1 -4.15 3.1 4.15 -3.1 4.15zM219.8 311.3l3.1 -4.15 3.1 4.15 -3.1 4.15zM378.4 305.5l3.1 -4.15 3.1 4.15 -3.1 4.15zM250.2 303.2l3.1 -4.15 3.1 4.15 -3.1 4.15zM288.0 320.9l3.1 -4.15 3.1 4.15 -3.1 4.15zM326.6 320.8l3.1 -4.15 3.1 4.15 -3.1 4.15zM181.2 313.2l3.1 -4.15 3.1 4.15 -3.1 4.15zM312.6 320.2l3.1 -4.15 3.1 4.15 -3.1 4.15zM283.1 309.9l3.1 -4.15 3.1 4.15 -3.1 4.15zM312.4 312.6l3.1 -4.15 3.1 4.15 -3.1 4.15zM381.2 310.2l3.1 -4.15 3.1 4.15 -3.1 4.15zM288.8 309.4l3.1 -4.15 3.1 4.15 -3.1 4.15zM306.0 320.0l3.1 -4.15 3.1 4.15 -3.1 4.15zM191.7 308.6l3.1 -4.15 3.1 4.15 -3.1 4.15zM201.2 306.0l3.1 -4.15 3.1 4.15 -3.1 4.15zM369.1 320.6l3.1 -4.15 3.1 4.15 -3.1 4.15zM178.2 307.2l3.1 -4.15 3.1 4.15 -3.1 4.15zM236.8 307.7l3.1 -4.15 3.1 4.15 -3.1 4.15zM189.1 312.6l3.1 -4.15 3.1 4.15 -3.1 4.15zM192.0 306.7l3.1 -4.15 3.1 4.15 -3.1 4.15zM303.4 318.1l3.1 -4.15 3.1 4.15 -3.1 4.15zM251.2 300.0l3.1 -4.15 3.1 4.15 -3.1 4.15zM306.5 322.2l3.1 -4.15 3.1 4.15 -3.1 4.15zM251.9 315.0l3.1 -4.15 3.1 4.15 -3.1 4.15zM302.5 313.0l3.1 -4.15 3.1 4.15 -3.1 4.15zM233.0 309.6l3.1 -4.15 3.1 4.15 -3.1 4.15zM268.6 322.6l3.1 -4.15 3.1 4.15 -3.1 4.15zM211.5 302.2l3.1 -4.15 3.1 4.15 -3.1 4.15zM304.8 319.3l3.1 -4.15 3.1 4.15 -3.1 4.15zM293.2 323.5l3.1 -4.15 3.1 4.15 -3.1 4.15zM334.5 303.7l3.1 -4.15 3.1 4.15 -3.1 4.15zM257.3 307.3l3.1 -4.15 3.1 4.15 -3.1 4.15zM310.8 310.4l3.1 -4.15 3.1 4.15 -3.1 4.15zM196.1 310.4l3.1 -4.15 3.1 4.15 -3.1 4.15zM322.7 320.6l3.1 -4.15 3.1 4.15 -3.1 4.15zM290.6 313.3l3.1 -4.15 3.1 4.15 -3.1 4.15zM170.2 310.6l3.1 -4.15 3.1 4.15 -3.1 4.15zM231.5 311.7l3.1 -4.15 3.1 4.15 -3.1 4.15zM224.8 309.6l3.1 -4.15 3.1 4.15 -3.1 4.15zM230.7 312.4l3.1 -4.15 3.1 4.15 -3.1 4.15zM321.0 314.5l3.1 -4.15 3.1 4.15 -3.1 4.15zM242.7 322.0l3.1 -4.15 3.1 4.15 -3.1 4.15zM225.3 304.3l3.1 -4.15 3.1 4.15 -3.1 4.15zM185.7 323.7l3.1 -4.15 3.1 4.15 -3.1 4.15zM326.9 322.1l3.1 -4.15 3.1 4.15 -3.1 4.15zM257.4 320.2l3.1 -4.15 3.1 4.15 -3.1 4.15zM246.8 311.5l3.1 -4.15 3.1 4.15 -3.1 4.15zM195.2 309.8l3.1 -4.15 3.1 4.15 -3.1 4.15zM204.1 308.6l3.1 -4.15 3.1 4.15 -3.1 4.15zM213.6 318.9l3.1 -4.15 3.1 4.15 -3.1 4.15zM371.4 316.3l3.1 -4.15 3.1 4.15 -3.1 4.15zM230.5 318.9l3.1 -4.15 3.1 4.15 -3.1 4.15zM168.8 313.0l3.1 -4.15 3.1 4.15 -3.1 4.15zM190.4 317.3l3.1 -4.15 3.1 4.15 -3.1 4.15zM226.2 315.1l3.1 -4.15 3.1 4.15 -3.1 4.15zM205.3 318.8l3.1 -4.15 3.1 4.15 -3.1 4.15zM264.3 304.1l3.1 -4.15 3.1 4.15 -3.1 4.15zM319.0 326.5l3.1 -4.15 3.1 4.15 -3.1 4.15zM238.7 320.5l3.1 -4.15 3.1 4.15 -3.1 4.15zM360.8 311.0l3.1 -4.15 3.1 4.15 -3.1 4.15zM338.1 312.4l3.1 -4.15 3.1 4.15 -3.1 4.15zM273.5 302.1l3.1 -4.15 3.1 4.15 -3.1 4.15zM170.2 309.4l3.1 -4.15 3.1 4.15 -3.1 4.15zM357.8 310.7l3.1 -4.15 3.1 4.15 -3.1 4.15zM187.2 309.9l3.1 -4.15 3.1 4.15 -3.1 4.15zM340.2 320.3l3.1 -4.15 3.1 4.15 -3.1 4.15zM249.7 324.1l3.1 -4.15 3.1 4.15 -3.1 4.15zM242.3 313.1l3.1 -4.15 3.1 4.15 -3.1 4.15zM335.4 309.7l3.1 -4.15 3.1 4.15 -3.1 4.15zM342.1 312.7l3.1 -4.15 3.1 4.15 -3.1 4.15zM229.0 309.0l3.1 -4.15 3.1 4.15 -3.1 4.15zM203.0 308.0l3.1 -4.15 3.1 4.15 -3.1 4.15zM220.6 308.0l3.1 -4.15 3.1 4.15 -3.1 4.15zM252.3 316.2l3.1 -4.15 3.1 4.15 -3.1 4.15zM348.2 319.1l3.1 -4.15 3.1 4.15 -3.1 4.15zM353.6 312.5l3.1 -4.15 3.1 4.15 -3.1 4.15zM260.6 316.2l3.1 -4.15 3.1 4.15 -3.1 4.15zM308.8 305.4l3.1 -4.15 3.1 4.15 -3.1 4.15zM341.2 313.9l3.1 -4.15 3.1 4.15 -3.1 4.15zM310.2 312.3l3.1 -4.15 3.1 4.15 -3.1 4.15zM206.3 309.6l3.1 -4.15 3.1 4.15 -3.1 4.15zM279.4 318.6l3.1 -4.15 3.1 4.15 -3.1 4.15zM345.3 312.1l3.1 -4.15 3.1 4.15 -3.1 4.15zM273.8 310.0l3.1 -4.15 3.1 4.15 -3.1 4.15zM199.0 292.8l3.1 -4.15 3.1 4.15 -3.1 4.15zM392.8 309.4l3.1 -4.15 3.1 4.15 -3.1 4.15zM220.2 314.8l3.1 -4.15 3.1 4.15 -3.1 4.15zM347.8 319.1l3.1 -4.15 3.1 4.15 -3.1 4.15zM241.1 313.3l3.1 -4.15 3.1 4.15 -3.1 4.15zM319.8 310.1l3.1 -4.15 3.1 4.15 -3.1 4.15zM199.2 313.2l3.1 -4.15 3.1 4.15 -3.1 4.15zM269.7 310.9l3.1 -4.15 3.1 4.15 -3.1 4.15zM245.5 317.8l3.1 -4.15 3.1 4.15 -3.1 4.15zM224.0 318.1l3.1 -4.15 3.1 4.15 -3.1 4.15zM233.7 311.4l3.1 -4.15 3.1 4.15 -3.1 4.15zM384.3 314.1l3.1 -4.15 3.1 4.15 -3.1 4.15zM399.5 317.8l3.1 -4.15 3.1 4.15 -3.1 4.15zM363.0 304.6l3.1 -4.15 3.1 4.15 -3.1 4.15zM290.1 313.1l3.1 -4.15 3.1 4.15 -3.1 4.15zM360.0 328.9l3.1 -4.15 3.1 4.15 -3.1 4.15zM178.3 311.0l3.1 -4.15 3.1 4.15 -3.1 4.15zM302.1 308.7l3.1 -4.15 3.1 4.15 -3.1 4.15zM207.6 313.6l3.1 -4.15 3.1 4.15 -3.1 4.15zM268.4 314.2l3.1 -4.15 3.1 4.15 -3.1 4.15zM267.7 307.5l3.1 -4.15 3.1 4.15 -3.1 4.15zM319.5 310.6l3.1 -4.15 3.1 4.15 -3.1 4.15zM243.9 311.8l3.1 -4.15 3.1 4.15 -3.1 4.15zM234.0 315.6l3.1 -4.15 3.1 4.15 -3.1 4.15zM379.4 315.3l3.1 -4.15 3.1 4.15 -3.1 4.15zM300.7 322.7l3.1 -4.15 3.1 4.15 -3.1 4.15zM228.2 312.0l3.1 -4.15 3.1 4.15 -3.1 4.15zM213.1 308.8l3.1 -4.15 3.1 4.15 -3.1 4.15zM244.9 310.9l3.1 -4.15 3.1 4.15 -3.1 4.15zM295.3 317.9l3.1 -4.15 3.1 4.15 -3.1 4.15zM89.2 303.9l3.1 -4.15 3.1 4.15 -3.1 4.15zM98.7 308.2l3.1 -4.15 3.1 4.15 -3.1 4.15zM107.9 305.1l3.1 -4.15 3.1 4.15 -3.1 4.15zM122.9 300.8l3.1 -4.15 3.1 4.15 -3.1 4.15zM92.3 316.0l3.1 -4.15 3.1 4.15 -3.1 4.15zM94.0 326.4l3.1 -4.15 3.1 4.15 -3.1 4.15zM105.3 320.7l3.1 -4.15 3.1 4.15 -3.1 4.15zM110.5 318.1l3.1 -4.15 3.1 4.15 -3.1 4.15zM113.1 317.2l3.1 -4.15 3.1 4.15 -3.1 4.15zM111.3 323.3l3.1 -4.15 3.1 4.15 -3.1 4.15zM113.6 329.3l3.1 -4.15 3.1 4.15 -3.1 4.15zM119.1 326.4l3.1 -4.15 3.1 4.15 -3.1 4.15zM122.6 312.0l3.1 -4.15 3.1 4.15 -3.1 4.15zM123.4 317.2l3.1 -4.15 3.1 4.15 -3.1 4.15zM127.8 313.7l3.1 -4.15 3.1 4.15 -3.1 4.15zM132.1 301.6l3.1 -4.15 3.1 4.15 -3.1 4.15zM133.0 306.8l3.1 -4.15 3.1 4.15 -3.1 4.15zM133.8 319.8l3.1 -4.15 3.1 4.15 -3.1 4.15zM136.4 321.5l3.1 -4.15 3.1 4.15 -3.1 4.15zM135.6 306.0l3.1 -4.15 3.1 4.15 -3.1 4.15zM139.0 306.0l3.1 -4.15 3.1 4.15 -3.1 4.15zM141.6 308.6l3.1 -4.15 3.1 4.15 -3.1 4.15zM140.7 313.7l3.1 -4.15 3.1 4.15 -3.1 4.15zM147.7 318.1l3.1 -4.15 3.1 4.15 -3.1 4.15zM150.3 312.0l3.1 -4.15 3.1 4.15 -3.1 4.15zM153.7 331.9l3.1 -4.15 3.1 4.15 -3.1 4.15zM154.6 321.5l3.1 -4.15 3.1 4.15 -3.1 4.15zM159.8 302.5l3.1 -4.15 3.1 4.15 -3.1 4.15zM158.1 312.0l3.1 -4.15 3.1 4.15 -3.1 4.15zM163.2 314.6l3.1 -4.15 3.1 4.15 -3.1 4.15zM166.7 321.5l3.1 -4.15 3.1 4.15 -3.1 4.15zM170.2 306.0l3.1 -4.15 3.1 4.15 -3.1 4.15zM198.8 278.7l3.1 -4.15 3.1 4.15 -3.1 4.15zM198.8 293.0l3.1 -4.15 3.1 4.15 -3.1 4.15zM178.4 298.5l3.1 -4.15 3.1 4.15 -3.1 4.15zM232.9 287.7l3.1 -4.15 3.1 4.15 -3.1 4.15zM239.6 293.0l3.1 -4.15 3.1 4.15 -3.1 4.15zM218.4 295.0l3.1 -4.15 3.1 4.15 -3.1 4.15zM184.8 332.5l3.1 -4.15 3.1 4.15 -3.1 4.15zM194.0 332.5l3.1 -4.15 3.1 4.15 -3.1 4.15zM221.3 332.5l3.1 -4.15 3.1 4.15 -3.1 4.15zM166.1 321.5l3.1 -4.15 3.1 4.15 -3.1 4.15zM258.8 292.7l3.1 -4.15 3.1 4.15 -3.1 4.15zM277.7 291.5l3.1 -4.15 3.1 4.15 -3.1 4.15zM292.7 294.6l3.1 -4.15 3.1 4.15 -3.1 4.15zM302.7 292.7l3.1 -4.15 3.1 4.15 -3.1 4.15zM330.6 293.5l3.1 -4.15 3.1 4.15 -3.1 4.15zM265.6 297.0l3.1 -4.15 3.1 4.15 -3.1 4.15zM316.1 297.9l3.1 -4.15 3.1 4.15 -3.1 4.15zM294.6 337.7l3.1 -4.15 3.1 4.15 -3.1 4.15zM257.5 332.5l3.1 -4.15 3.1 4.15 -3.1 4.15zM300.7 332.5l3.1 -4.15 3.1 4.15 -3.1 4.15zM371.5 296.0l3.1 -4.15 3.1 4.15 -3.1 4.15zM384.0 335.4l3.1 -4.15 3.1 4.15 -3.1 4.15zM365.7 331.5l3.1 -4.15 3.1 4.15 -3.1 4.15zM355.2 326.7l3.1 -4.15 3.1 4.15 -3.1 4.15zM336.9 298.8l3.1 -4.15 3.1 4.15 -3.1 4.15zM371.1 295.2l3.1 -4.15 3.1 4.15 -3.1 4.15zM375.4 303.0l3.1 -4.15 3.1 4.15 -3.1 4.15zM382.8 306.2l3.1 -4.15 3.1 4.15 -3.1 4.15zM381.7 326.3l3.1 -4.15 3.1 4.15 -3.1 4.15zM392.3 310.4l3.1 -4.15 3.1 4.15 -3.1 4.15zM401.8 303.6l3.1 -4.15 3.1 4.15 -3.1 4.15zM409.2 307.2l3.1 -4.15 3.1 4.15 -3.1 4.15zM418.7 306.2l3.1 -4.15 3.1 4.15 -3.1 4.15zM424.0 311.4l3.1 -4.15 3.1 4.15 -3.1 4.15zM431.8 307.2l3.1 -4.15 3.1 4.15 -3.1 4.15zM465.9 307.2l3.1 -4.15 3.1 4.15 -3.1 4.15zM398.6 321.0l3.1 -4.15 3.1 4.15 -3.1 4.15zM405.0 328.4l3.1 -4.15 3.1 4.15 -3.1 4.15zM412.4 318.8l3.1 -4.15 3.1 4.15 -3.1 4.15zM417.7 327.3l3.1 -4.15 3.1 4.15 -3.1 4.15zM428.2 318.8l3.1 -4.15 3.1 4.15 -3.1 4.15zM430.4 323.1l3.1 -4.15 3.1 4.15 -3.1 4.15zM436.3 323.5l3.1 -4.15 3.1 4.15 -3.1 4.15zM450.0 324.8l3.1 -4.15 3.1 4.15 -3.1 4.15zM460.6 326.3l3.1 -4.15 3.1 4.15 -3.1 4.15zM388.1 316.7l3.1 -4.15 3.1 4.15 -3.1 4.15zM402.9 314.6l3.1 -4.15 3.1 4.15 -3.1 4.15zM407.1 316.7l3.1 -4.15 3.1 4.15 -3.1 4.15zM421.9 316.7l3.1 -4.15 3.1 4.15 -3.1 4.15z"/><line x1="93.0" y1="311.8" x2="468.9" y2="315.9" stroke="#000" stroke-width="2"/><text class="S" x="174.55" y="364.23" font-size="16.3" letter-spacing="0.25"><tspan font-style="italic">P</tspan> = .004</text><rect x="48" y="261.5" width="454.3" height="104" fill="none" stroke="#383838" stroke-width="1.7"/><text class="S" x="1.75" y="240.00" font-size="31.5" font-weight="bold">B</text><text class="S" x="239.75" y="423.88" font-size="14.0">Ln (% F-cells)</text><text class="S" transform="translate(15.75,374.43) rotate(-90)" font-size="14.0">red blood cell count</text><text class="S" transform="translate(33.05,343.60) rotate(-90)" font-size="14.0">(10<tspan font-size="9.5" dy="-4.8">12</tspan><tspan dy="4.8"> / L)</tspan></text><rect x="4.78" y="-1.88" width="3.32" height="3.38" fill="#fff" transform="translate(33.05,343.60) rotate(-90)"/><rect x="9.50" y="-1.88" width="3.21" height="3.38" fill="#fff" transform="translate(33.05,343.60) rotate(-90)"/><rect x="20.09" y="-6.30" width="2.48" height="3.00" fill="#fff" transform="translate(33.05,343.60) rotate(-90)"/><rect x="23.52" y="-6.30" width="2.40" height="3.00" fill="#fff" transform="translate(33.05,343.60) rotate(-90)"/><text class="R" x="391.23" y="278.08" font-size="14.0">y=-0.0528+4.5511</text><text class="S" x="43.83" y="394.62" font-size="14.4" letter-spacing="0.45">-1</text><rect x="49.21" y="392.70" width="3.39" height="3.42" fill="#fff"/><rect x="54.04" y="392.70" width="3.28" height="3.42" fill="#fff"/><text class="S" x="88.58" y="394.75" font-size="14.4" letter-spacing="0.45">-0.5</text><text class="S" x="146.75" y="394.75" font-size="14.4" letter-spacing="0.45">0</text><text class="S" x="191.95" y="394.75" font-size="14.4" letter-spacing="0.45">0.5</text><text class="S" x="248.18" y="394.62" font-size="14.4" letter-spacing="0.45">1</text><rect x="248.32" y="392.70" width="3.39" height="3.42" fill="#fff"/><rect x="253.16" y="392.70" width="3.28" height="3.42" fill="#fff"/><text class="S" x="293.07" y="394.62" font-size="14.4" letter-spacing="0.45">1.5</text><rect x="293.21" y="392.70" width="3.39" height="3.42" fill="#fff"/><rect x="298.05" y="392.70" width="3.28" height="3.42" fill="#fff"/><text class="S" x="348.30" y="394.75" font-size="14.4" letter-spacing="0.45">2</text><text class="S" x="393.20" y="394.75" font-size="14.4" letter-spacing="0.45">2.5</text><text class="S" x="448.85" y="394.75" font-size="14.4" letter-spacing="0.45">3</text><text class="S" x="494.35" y="394.75" font-size="14.4" letter-spacing="0.45">3.5</text><line x1="39" x2="489" y1="535.6" y2="535.6" stroke="#e8e8e8"/><line x1="39" x2="489" y1="501.8" y2="501.8" stroke="#e8e8e8"/><line x1="138.6" x2="138.6" y1="469" y2="569" stroke="#d8d8d8"/><line x1="38.1" x2="38.1" y1="570" y2="575" stroke="#e2e2e2"/><line x1="88.3" x2="88.3" y1="570" y2="575" stroke="#e2e2e2"/><line x1="138.5" x2="138.5" y1="570" y2="575" stroke="#e2e2e2"/><line x1="188.7" x2="188.7" y1="570" y2="575" stroke="#e2e2e2"/><line x1="238.9" x2="238.9" y1="570" y2="575" stroke="#e2e2e2"/><line x1="289.1" x2="289.1" y1="570" y2="575" stroke="#e2e2e2"/><line x1="339.3" x2="339.3" y1="570" y2="575" stroke="#e2e2e2"/><line x1="389.5" x2="389.5" y1="570" y2="575" stroke="#e2e2e2"/><line x1="439.7" x2="439.7" y1="570" y2="575" stroke="#e2e2e2"/><line x1="489.9" x2="489.9" y1="570" y2="575" stroke="#e2e2e2"/><text class="S" x="118.95" y="574.20" font-size="14.4" letter-spacing="0.45">60</text><text class="S" x="118.95" y="540.35" font-size="14.4" letter-spacing="0.45">80</text><text class="S" x="114.33" y="506.50" font-size="14.4" letter-spacing="0.45">100</text><rect x="114.47" y="504.58" width="3.39" height="3.42" fill="#fff"/><rect x="119.31" y="504.58" width="3.28" height="3.42" fill="#fff"/><text class="S" x="114.33" y="472.65" font-size="14.4" letter-spacing="0.45">120</text><rect x="114.47" y="470.73" width="3.39" height="3.42" fill="#fff"/><rect x="119.31" y="470.73" width="3.28" height="3.42" fill="#fff"/><path d="M138.9 516.8l3.4 -4.7 3.4 4.7 -3.4 4.7zM202.3 507.3l3.4 -4.7 3.4 4.7 -3.4 4.7zM271.1 507.2l3.4 -4.7 3.4 4.7 -3.4 4.7zM261.7 521.7l3.4 -4.7 3.4 4.7 -3.4 4.7zM133.7 516.2l3.4 -4.7 3.4 4.7 -3.4 4.7zM265.8 523.6l3.4 -4.7 3.4 4.7 -3.4 4.7zM206.5 525.4l3.4 -4.7 3.4 4.7 -3.4 4.7zM325.4 514.3l3.4 -4.7 3.4 4.7 -3.4 4.7zM316.8 531.2l3.4 -4.7 3.4 4.7 -3.4 4.7zM304.8 512.7l3.4 -4.7 3.4 4.7 -3.4 4.7zM248.1 518.4l3.4 -4.7 3.4 4.7 -3.4 4.7zM240.8 510.4l3.4 -4.7 3.4 4.7 -3.4 4.7zM307.0 510.1l3.4 -4.7 3.4 4.7 -3.4 4.7zM302.6 523.6l3.4 -4.7 3.4 4.7 -3.4 4.7zM288.8 516.9l3.4 -4.7 3.4 4.7 -3.4 4.7zM307.5 522.1l3.4 -4.7 3.4 4.7 -3.4 4.7zM312.3 513.9l3.4 -4.7 3.4 4.7 -3.4 4.7zM345.2 519.0l3.4 -4.7 3.4 4.7 -3.4 4.7zM339.8 519.4l3.4 -4.7 3.4 4.7 -3.4 4.7zM305.3 510.0l3.4 -4.7 3.4 4.7 -3.4 4.7zM329.6 511.9l3.4 -4.7 3.4 4.7 -3.4 4.7zM162.8 514.2l3.4 -4.7 3.4 4.7 -3.4 4.7zM279.6 513.8l3.4 -4.7 3.4 4.7 -3.4 4.7zM237.7 517.0l3.4 -4.7 3.4 4.7 -3.4 4.7zM243.7 514.4l3.4 -4.7 3.4 4.7 -3.4 4.7zM237.5 519.7l3.4 -4.7 3.4 4.7 -3.4 4.7zM272.0 525.2l3.4 -4.7 3.4 4.7 -3.4 4.7zM189.9 527.5l3.4 -4.7 3.4 4.7 -3.4 4.7zM160.0 517.8l3.4 -4.7 3.4 4.7 -3.4 4.7zM284.6 517.4l3.4 -4.7 3.4 4.7 -3.4 4.7zM183.2 510.9l3.4 -4.7 3.4 4.7 -3.4 4.7zM326.3 509.3l3.4 -4.7 3.4 4.7 -3.4 4.7zM231.2 525.1l3.4 -4.7 3.4 4.7 -3.4 4.7zM185.3 517.6l3.4 -4.7 3.4 4.7 -3.4 4.7zM182.9 512.5l3.4 -4.7 3.4 4.7 -3.4 4.7zM286.3 516.2l3.4 -4.7 3.4 4.7 -3.4 4.7zM233.9 522.0l3.4 -4.7 3.4 4.7 -3.4 4.7zM256.9 518.5l3.4 -4.7 3.4 4.7 -3.4 4.7zM326.9 522.5l3.4 -4.7 3.4 4.7 -3.4 4.7zM218.4 511.8l3.4 -4.7 3.4 4.7 -3.4 4.7zM228.1 513.7l3.4 -4.7 3.4 4.7 -3.4 4.7zM196.3 515.1l3.4 -4.7 3.4 4.7 -3.4 4.7zM223.3 513.3l3.4 -4.7 3.4 4.7 -3.4 4.7zM155.3 517.8l3.4 -4.7 3.4 4.7 -3.4 4.7zM286.1 524.2l3.4 -4.7 3.4 4.7 -3.4 4.7zM320.5 515.9l3.4 -4.7 3.4 4.7 -3.4 4.7zM214.7 515.1l3.4 -4.7 3.4 4.7 -3.4 4.7zM244.9 523.3l3.4 -4.7 3.4 4.7 -3.4 4.7zM199.4 515.9l3.4 -4.7 3.4 4.7 -3.4 4.7zM295.7 521.5l3.4 -4.7 3.4 4.7 -3.4 4.7zM330.7 518.1l3.4 -4.7 3.4 4.7 -3.4 4.7zM229.6 515.7l3.4 -4.7 3.4 4.7 -3.4 4.7zM287.9 516.0l3.4 -4.7 3.4 4.7 -3.4 4.7zM296.2 524.3l3.4 -4.7 3.4 4.7 -3.4 4.7zM304.9 504.9l3.4 -4.7 3.4 4.7 -3.4 4.7zM226.4 518.3l3.4 -4.7 3.4 4.7 -3.4 4.7zM269.1 523.6l3.4 -4.7 3.4 4.7 -3.4 4.7zM346.8 515.8l3.4 -4.7 3.4 4.7 -3.4 4.7zM246.2 524.7l3.4 -4.7 3.4 4.7 -3.4 4.7zM243.7 511.7l3.4 -4.7 3.4 4.7 -3.4 4.7zM312.5 517.4l3.4 -4.7 3.4 4.7 -3.4 4.7zM281.2 511.4l3.4 -4.7 3.4 4.7 -3.4 4.7zM303.9 515.2l3.4 -4.7 3.4 4.7 -3.4 4.7zM277.4 514.0l3.4 -4.7 3.4 4.7 -3.4 4.7zM317.9 510.8l3.4 -4.7 3.4 4.7 -3.4 4.7zM327.3 512.1l3.4 -4.7 3.4 4.7 -3.4 4.7zM234.1 511.5l3.4 -4.7 3.4 4.7 -3.4 4.7zM368.2 515.2l3.4 -4.7 3.4 4.7 -3.4 4.7zM246.9 515.8l3.4 -4.7 3.4 4.7 -3.4 4.7zM294.7 507.5l3.4 -4.7 3.4 4.7 -3.4 4.7zM251.3 515.6l3.4 -4.7 3.4 4.7 -3.4 4.7zM313.7 510.5l3.4 -4.7 3.4 4.7 -3.4 4.7zM294.7 517.3l3.4 -4.7 3.4 4.7 -3.4 4.7zM220.8 518.8l3.4 -4.7 3.4 4.7 -3.4 4.7zM260.2 519.1l3.4 -4.7 3.4 4.7 -3.4 4.7zM288.2 510.9l3.4 -4.7 3.4 4.7 -3.4 4.7zM355.1 510.5l3.4 -4.7 3.4 4.7 -3.4 4.7zM325.2 523.5l3.4 -4.7 3.4 4.7 -3.4 4.7zM336.5 507.7l3.4 -4.7 3.4 4.7 -3.4 4.7zM283.1 520.0l3.4 -4.7 3.4 4.7 -3.4 4.7zM239.9 518.6l3.4 -4.7 3.4 4.7 -3.4 4.7zM330.9 513.4l3.4 -4.7 3.4 4.7 -3.4 4.7zM204.8 519.5l3.4 -4.7 3.4 4.7 -3.4 4.7zM198.2 521.8l3.4 -4.7 3.4 4.7 -3.4 4.7zM236.0 514.4l3.4 -4.7 3.4 4.7 -3.4 4.7zM184.5 518.5l3.4 -4.7 3.4 4.7 -3.4 4.7zM218.8 517.2l3.4 -4.7 3.4 4.7 -3.4 4.7zM284.1 526.5l3.4 -4.7 3.4 4.7 -3.4 4.7zM210.8 506.4l3.4 -4.7 3.4 4.7 -3.4 4.7zM313.9 514.4l3.4 -4.7 3.4 4.7 -3.4 4.7zM198.1 512.3l3.4 -4.7 3.4 4.7 -3.4 4.7zM213.8 520.8l3.4 -4.7 3.4 4.7 -3.4 4.7zM156.6 512.9l3.4 -4.7 3.4 4.7 -3.4 4.7zM234.6 526.8l3.4 -4.7 3.4 4.7 -3.4 4.7zM334.6 511.7l3.4 -4.7 3.4 4.7 -3.4 4.7zM204.3 512.3l3.4 -4.7 3.4 4.7 -3.4 4.7zM160.4 514.9l3.4 -4.7 3.4 4.7 -3.4 4.7zM211.0 518.4l3.4 -4.7 3.4 4.7 -3.4 4.7zM278.5 515.3l3.4 -4.7 3.4 4.7 -3.4 4.7zM232.9 512.4l3.4 -4.7 3.4 4.7 -3.4 4.7zM256.4 516.4l3.4 -4.7 3.4 4.7 -3.4 4.7zM224.0 507.2l3.4 -4.7 3.4 4.7 -3.4 4.7zM244.0 520.1l3.4 -4.7 3.4 4.7 -3.4 4.7zM272.8 507.8l3.4 -4.7 3.4 4.7 -3.4 4.7zM239.2 518.6l3.4 -4.7 3.4 4.7 -3.4 4.7zM355.2 514.9l3.4 -4.7 3.4 4.7 -3.4 4.7zM325.7 510.8l3.4 -4.7 3.4 4.7 -3.4 4.7zM288.2 518.1l3.4 -4.7 3.4 4.7 -3.4 4.7zM185.5 520.3l3.4 -4.7 3.4 4.7 -3.4 4.7zM139.8 519.6l3.4 -4.7 3.4 4.7 -3.4 4.7zM331.8 516.9l3.4 -4.7 3.4 4.7 -3.4 4.7zM248.6 511.9l3.4 -4.7 3.4 4.7 -3.4 4.7zM151.9 517.8l3.4 -4.7 3.4 4.7 -3.4 4.7zM281.5 521.1l3.4 -4.7 3.4 4.7 -3.4 4.7zM305.4 516.3l3.4 -4.7 3.4 4.7 -3.4 4.7zM330.7 517.0l3.4 -4.7 3.4 4.7 -3.4 4.7zM219.7 510.2l3.4 -4.7 3.4 4.7 -3.4 4.7zM266.3 518.1l3.4 -4.7 3.4 4.7 -3.4 4.7zM182.3 515.9l3.4 -4.7 3.4 4.7 -3.4 4.7zM263.6 514.0l3.4 -4.7 3.4 4.7 -3.4 4.7zM270.7 514.7l3.4 -4.7 3.4 4.7 -3.4 4.7zM244.3 505.7l3.4 -4.7 3.4 4.7 -3.4 4.7zM275.3 522.2l3.4 -4.7 3.4 4.7 -3.4 4.7zM261.8 521.0l3.4 -4.7 3.4 4.7 -3.4 4.7zM241.5 520.1l3.4 -4.7 3.4 4.7 -3.4 4.7zM268.0 506.4l3.4 -4.7 3.4 4.7 -3.4 4.7zM306.2 521.9l3.4 -4.7 3.4 4.7 -3.4 4.7zM178.6 521.1l3.4 -4.7 3.4 4.7 -3.4 4.7zM223.5 519.2l3.4 -4.7 3.4 4.7 -3.4 4.7zM299.3 525.3l3.4 -4.7 3.4 4.7 -3.4 4.7zM239.1 515.5l3.4 -4.7 3.4 4.7 -3.4 4.7zM244.6 519.7l3.4 -4.7 3.4 4.7 -3.4 4.7zM269.1 500.6l3.4 -4.7 3.4 4.7 -3.4 4.7zM180.6 511.1l3.4 -4.7 3.4 4.7 -3.4 4.7zM202.2 515.9l3.4 -4.7 3.4 4.7 -3.4 4.7zM344.0 515.1l3.4 -4.7 3.4 4.7 -3.4 4.7zM205.0 512.5l3.4 -4.7 3.4 4.7 -3.4 4.7zM230.3 524.2l3.4 -4.7 3.4 4.7 -3.4 4.7zM270.7 508.1l3.4 -4.7 3.4 4.7 -3.4 4.7zM249.5 511.7l3.4 -4.7 3.4 4.7 -3.4 4.7zM162.7 518.5l3.4 -4.7 3.4 4.7 -3.4 4.7zM301.9 512.8l3.4 -4.7 3.4 4.7 -3.4 4.7zM301.6 515.3l3.4 -4.7 3.4 4.7 -3.4 4.7zM292.3 517.1l3.4 -4.7 3.4 4.7 -3.4 4.7zM223.2 510.3l3.4 -4.7 3.4 4.7 -3.4 4.7zM220.3 520.5l3.4 -4.7 3.4 4.7 -3.4 4.7zM258.8 528.6l3.4 -4.7 3.4 4.7 -3.4 4.7zM225.8 511.2l3.4 -4.7 3.4 4.7 -3.4 4.7zM253.2 506.7l3.4 -4.7 3.4 4.7 -3.4 4.7zM309.7 507.3l3.4 -4.7 3.4 4.7 -3.4 4.7zM245.2 510.5l3.4 -4.7 3.4 4.7 -3.4 4.7zM279.8 522.2l3.4 -4.7 3.4 4.7 -3.4 4.7zM234.8 511.9l3.4 -4.7 3.4 4.7 -3.4 4.7zM210.3 510.0l3.4 -4.7 3.4 4.7 -3.4 4.7zM216.2 520.6l3.4 -4.7 3.4 4.7 -3.4 4.7zM253.0 496.7l3.4 -4.7 3.4 4.7 -3.4 4.7zM210.4 499.7l3.4 -4.7 3.4 4.7 -3.4 4.7zM304.9 483.1l3.4 -4.7 3.4 4.7 -3.4 4.7zM260.8 505.5l3.4 -4.7 3.4 4.7 -3.4 4.7zM165.6 519.2l3.4 -4.7 3.4 4.7 -3.4 4.7zM294.2 519.5l3.4 -4.7 3.4 4.7 -3.4 4.7zM226.1 517.6l3.4 -4.7 3.4 4.7 -3.4 4.7zM275.0 515.4l3.4 -4.7 3.4 4.7 -3.4 4.7zM226.7 516.5l3.4 -4.7 3.4 4.7 -3.4 4.7zM288.8 508.5l3.4 -4.7 3.4 4.7 -3.4 4.7zM355.1 512.7l3.4 -4.7 3.4 4.7 -3.4 4.7zM240.5 508.7l3.4 -4.7 3.4 4.7 -3.4 4.7zM235.5 512.4l3.4 -4.7 3.4 4.7 -3.4 4.7zM326.0 510.1l3.4 -4.7 3.4 4.7 -3.4 4.7zM213.0 514.2l3.4 -4.7 3.4 4.7 -3.4 4.7zM268.2 508.7l3.4 -4.7 3.4 4.7 -3.4 4.7zM192.5 517.7l3.4 -4.7 3.4 4.7 -3.4 4.7zM281.2 524.2l3.4 -4.7 3.4 4.7 -3.4 4.7zM262.7 500.8l3.4 -4.7 3.4 4.7 -3.4 4.7zM186.9 519.8l3.4 -4.7 3.4 4.7 -3.4 4.7zM291.8 509.0l3.4 -4.7 3.4 4.7 -3.4 4.7zM240.7 509.0l3.4 -4.7 3.4 4.7 -3.4 4.7zM289.2 520.3l3.4 -4.7 3.4 4.7 -3.4 4.7zM275.3 531.4l3.4 -4.7 3.4 4.7 -3.4 4.7zM223.0 512.1l3.4 -4.7 3.4 4.7 -3.4 4.7zM300.0 512.6l3.4 -4.7 3.4 4.7 -3.4 4.7zM292.1 517.8l3.4 -4.7 3.4 4.7 -3.4 4.7zM250.3 503.8l3.4 -4.7 3.4 4.7 -3.4 4.7zM268.3 523.0l3.4 -4.7 3.4 4.7 -3.4 4.7zM293.5 521.6l3.4 -4.7 3.4 4.7 -3.4 4.7zM215.9 517.8l3.4 -4.7 3.4 4.7 -3.4 4.7zM206.7 504.8l3.4 -4.7 3.4 4.7 -3.4 4.7zM236.7 527.8l3.4 -4.7 3.4 4.7 -3.4 4.7zM304.6 501.0l3.4 -4.7 3.4 4.7 -3.4 4.7zM285.6 516.8l3.4 -4.7 3.4 4.7 -3.4 4.7zM278.9 519.1l3.4 -4.7 3.4 4.7 -3.4 4.7zM307.6 507.3l3.4 -4.7 3.4 4.7 -3.4 4.7zM251.5 525.6l3.4 -4.7 3.4 4.7 -3.4 4.7zM170.3 509.4l3.4 -4.7 3.4 4.7 -3.4 4.7zM306.5 515.6l3.4 -4.7 3.4 4.7 -3.4 4.7zM272.6 533.7l3.4 -4.7 3.4 4.7 -3.4 4.7zM226.8 517.7l3.4 -4.7 3.4 4.7 -3.4 4.7zM301.1 518.6l3.4 -4.7 3.4 4.7 -3.4 4.7zM279.6 518.7l3.4 -4.7 3.4 4.7 -3.4 4.7zM320.9 524.5l3.4 -4.7 3.4 4.7 -3.4 4.7zM224.3 521.6l3.4 -4.7 3.4 4.7 -3.4 4.7zM268.5 509.7l3.4 -4.7 3.4 4.7 -3.4 4.7zM366.1 519.4l3.4 -4.7 3.4 4.7 -3.4 4.7zM366.6 505.8l3.4 -4.7 3.4 4.7 -3.4 4.7zM246.5 504.3l3.4 -4.7 3.4 4.7 -3.4 4.7zM196.8 514.6l3.4 -4.7 3.4 4.7 -3.4 4.7zM177.1 511.0l3.4 -4.7 3.4 4.7 -3.4 4.7zM174.5 514.5l3.4 -4.7 3.4 4.7 -3.4 4.7zM322.0 507.5l3.4 -4.7 3.4 4.7 -3.4 4.7zM327.3 507.9l3.4 -4.7 3.4 4.7 -3.4 4.7zM131.9 518.0l3.4 -4.7 3.4 4.7 -3.4 4.7zM213.1 508.6l3.4 -4.7 3.4 4.7 -3.4 4.7zM129.7 516.3l3.4 -4.7 3.4 4.7 -3.4 4.7zM314.4 501.7l3.4 -4.7 3.4 4.7 -3.4 4.7zM245.7 498.7l3.4 -4.7 3.4 4.7 -3.4 4.7zM350.8 501.4l3.4 -4.7 3.4 4.7 -3.4 4.7zM163.9 519.4l3.4 -4.7 3.4 4.7 -3.4 4.7zM268.6 509.8l3.4 -4.7 3.4 4.7 -3.4 4.7zM209.0 510.1l3.4 -4.7 3.4 4.7 -3.4 4.7zM290.1 517.4l3.4 -4.7 3.4 4.7 -3.4 4.7zM211.5 515.0l3.4 -4.7 3.4 4.7 -3.4 4.7zM297.1 513.2l3.4 -4.7 3.4 4.7 -3.4 4.7zM317.5 500.6l3.4 -4.7 3.4 4.7 -3.4 4.7zM306.2 511.1l3.4 -4.7 3.4 4.7 -3.4 4.7zM281.1 512.1l3.4 -4.7 3.4 4.7 -3.4 4.7zM184.5 521.9l3.4 -4.7 3.4 4.7 -3.4 4.7zM151.5 514.2l3.4 -4.7 3.4 4.7 -3.4 4.7zM312.8 519.8l3.4 -4.7 3.4 4.7 -3.4 4.7zM209.7 536.9l3.4 -4.7 3.4 4.7 -3.4 4.7zM334.0 508.5l3.4 -4.7 3.4 4.7 -3.4 4.7zM232.0 511.3l3.4 -4.7 3.4 4.7 -3.4 4.7zM172.4 510.7l3.4 -4.7 3.4 4.7 -3.4 4.7zM220.4 515.1l3.4 -4.7 3.4 4.7 -3.4 4.7zM189.3 520.7l3.4 -4.7 3.4 4.7 -3.4 4.7zM329.5 501.4l3.4 -4.7 3.4 4.7 -3.4 4.7zM198.8 517.4l3.4 -4.7 3.4 4.7 -3.4 4.7zM269.4 536.6l3.4 -4.7 3.4 4.7 -3.4 4.7zM348.0 515.2l3.4 -4.7 3.4 4.7 -3.4 4.7zM335.8 511.6l3.4 -4.7 3.4 4.7 -3.4 4.7zM309.7 511.7l3.4 -4.7 3.4 4.7 -3.4 4.7zM252.5 531.0l3.4 -4.7 3.4 4.7 -3.4 4.7zM310.3 519.7l3.4 -4.7 3.4 4.7 -3.4 4.7zM322.9 521.1l3.4 -4.7 3.4 4.7 -3.4 4.7zM307.8 509.7l3.4 -4.7 3.4 4.7 -3.4 4.7zM332.4 513.3l3.4 -4.7 3.4 4.7 -3.4 4.7zM225.5 523.0l3.4 -4.7 3.4 4.7 -3.4 4.7zM321.9 510.0l3.4 -4.7 3.4 4.7 -3.4 4.7zM287.4 530.4l3.4 -4.7 3.4 4.7 -3.4 4.7zM294.8 510.6l3.4 -4.7 3.4 4.7 -3.4 4.7zM181.6 520.8l3.4 -4.7 3.4 4.7 -3.4 4.7zM199.3 518.5l3.4 -4.7 3.4 4.7 -3.4 4.7zM271.1 508.7l3.4 -4.7 3.4 4.7 -3.4 4.7zM315.8 522.1l3.4 -4.7 3.4 4.7 -3.4 4.7zM273.2 508.0l3.4 -4.7 3.4 4.7 -3.4 4.7zM348.1 514.0l3.4 -4.7 3.4 4.7 -3.4 4.7zM272.3 516.4l3.4 -4.7 3.4 4.7 -3.4 4.7zM293.7 516.0l3.4 -4.7 3.4 4.7 -3.4 4.7zM261.6 528.6l3.4 -4.7 3.4 4.7 -3.4 4.7zM185.0 512.7l3.4 -4.7 3.4 4.7 -3.4 4.7zM271.5 506.8l3.4 -4.7 3.4 4.7 -3.4 4.7zM298.8 522.4l3.4 -4.7 3.4 4.7 -3.4 4.7zM187.4 523.4l3.4 -4.7 3.4 4.7 -3.4 4.7zM171.7 521.9l3.4 -4.7 3.4 4.7 -3.4 4.7zM267.1 521.2l3.4 -4.7 3.4 4.7 -3.4 4.7zM376.5 520.6l3.4 -4.7 3.4 4.7 -3.4 4.7zM290.3 518.8l3.4 -4.7 3.4 4.7 -3.4 4.7zM287.1 512.1l3.4 -4.7 3.4 4.7 -3.4 4.7zM281.9 511.3l3.4 -4.7 3.4 4.7 -3.4 4.7zM277.6 518.4l3.4 -4.7 3.4 4.7 -3.4 4.7zM288.9 520.7l3.4 -4.7 3.4 4.7 -3.4 4.7zM209.8 507.3l3.4 -4.7 3.4 4.7 -3.4 4.7zM206.6 512.4l3.4 -4.7 3.4 4.7 -3.4 4.7zM136.0 518.7l3.4 -4.7 3.4 4.7 -3.4 4.7zM315.9 499.5l3.4 -4.7 3.4 4.7 -3.4 4.7zM132.8 512.4l3.4 -4.7 3.4 4.7 -3.4 4.7zM282.5 511.7l3.4 -4.7 3.4 4.7 -3.4 4.7zM312.0 525.3l3.4 -4.7 3.4 4.7 -3.4 4.7zM255.5 509.6l3.4 -4.7 3.4 4.7 -3.4 4.7zM319.4 511.0l3.4 -4.7 3.4 4.7 -3.4 4.7zM132.3 523.3l3.4 -4.7 3.4 4.7 -3.4 4.7zM289.1 509.7l3.4 -4.7 3.4 4.7 -3.4 4.7zM330.7 503.9l3.4 -4.7 3.4 4.7 -3.4 4.7zM349.7 516.8l3.4 -4.7 3.4 4.7 -3.4 4.7zM173.5 515.0l3.4 -4.7 3.4 4.7 -3.4 4.7zM193.4 510.9l3.4 -4.7 3.4 4.7 -3.4 4.7zM236.2 521.6l3.4 -4.7 3.4 4.7 -3.4 4.7zM205.0 507.3l3.4 -4.7 3.4 4.7 -3.4 4.7zM292.6 519.3l3.4 -4.7 3.4 4.7 -3.4 4.7zM328.5 515.8l3.4 -4.7 3.4 4.7 -3.4 4.7zM290.7 513.3l3.4 -4.7 3.4 4.7 -3.4 4.7zM154.6 523.1l3.4 -4.7 3.4 4.7 -3.4 4.7zM314.7 501.7l3.4 -4.7 3.4 4.7 -3.4 4.7zM194.3 507.9l3.4 -4.7 3.4 4.7 -3.4 4.7zM295.0 519.1l3.4 -4.7 3.4 4.7 -3.4 4.7zM139.6 518.9l3.4 -4.7 3.4 4.7 -3.4 4.7zM317.2 511.9l3.4 -4.7 3.4 4.7 -3.4 4.7zM212.4 504.3l3.4 -4.7 3.4 4.7 -3.4 4.7zM191.7 512.8l3.4 -4.7 3.4 4.7 -3.4 4.7zM178.8 505.9l3.4 -4.7 3.4 4.7 -3.4 4.7zM364.0 514.8l3.4 -4.7 3.4 4.7 -3.4 4.7zM257.7 516.6l3.4 -4.7 3.4 4.7 -3.4 4.7zM240.8 511.8l3.4 -4.7 3.4 4.7 -3.4 4.7zM155.9 517.7l3.4 -4.7 3.4 4.7 -3.4 4.7zM277.9 506.5l3.4 -4.7 3.4 4.7 -3.4 4.7zM283.0 501.3l3.4 -4.7 3.4 4.7 -3.4 4.7zM301.9 506.5l3.4 -4.7 3.4 4.7 -3.4 4.7zM178.1 523.2l3.4 -4.7 3.4 4.7 -3.4 4.7zM247.0 519.7l3.4 -4.7 3.4 4.7 -3.4 4.7zM274.3 510.4l3.4 -4.7 3.4 4.7 -3.4 4.7zM210.8 515.2l3.4 -4.7 3.4 4.7 -3.4 4.7zM241.9 528.0l3.4 -4.7 3.4 4.7 -3.4 4.7zM313.5 514.8l3.4 -4.7 3.4 4.7 -3.4 4.7zM227.5 519.4l3.4 -4.7 3.4 4.7 -3.4 4.7zM188.7 511.7l3.4 -4.7 3.4 4.7 -3.4 4.7zM287.2 526.3l3.4 -4.7 3.4 4.7 -3.4 4.7zM213.8 523.5l3.4 -4.7 3.4 4.7 -3.4 4.7zM331.9 503.2l3.4 -4.7 3.4 4.7 -3.4 4.7zM191.1 513.4l3.4 -4.7 3.4 4.7 -3.4 4.7zM272.8 510.3l3.4 -4.7 3.4 4.7 -3.4 4.7zM317.6 520.8l3.4 -4.7 3.4 4.7 -3.4 4.7zM228.7 514.3l3.4 -4.7 3.4 4.7 -3.4 4.7zM329.7 529.2l3.4 -4.7 3.4 4.7 -3.4 4.7zM258.8 518.9l3.4 -4.7 3.4 4.7 -3.4 4.7zM190.6 526.4l3.4 -4.7 3.4 4.7 -3.4 4.7zM320.7 508.3l3.4 -4.7 3.4 4.7 -3.4 4.7zM192.3 507.5l3.4 -4.7 3.4 4.7 -3.4 4.7zM126.3 518.1l3.4 -4.7 3.4 4.7 -3.4 4.7zM315.4 506.2l3.4 -4.7 3.4 4.7 -3.4 4.7zM272.4 511.2l3.4 -4.7 3.4 4.7 -3.4 4.7zM202.7 517.8l3.4 -4.7 3.4 4.7 -3.4 4.7zM230.7 510.8l3.4 -4.7 3.4 4.7 -3.4 4.7zM258.7 516.4l3.4 -4.7 3.4 4.7 -3.4 4.7zM302.6 510.5l3.4 -4.7 3.4 4.7 -3.4 4.7zM193.4 518.2l3.4 -4.7 3.4 4.7 -3.4 4.7zM191.4 518.9l3.4 -4.7 3.4 4.7 -3.4 4.7zM284.4 535.5l3.4 -4.7 3.4 4.7 -3.4 4.7zM210.8 521.2l3.4 -4.7 3.4 4.7 -3.4 4.7zM258.0 529.7l3.4 -4.7 3.4 4.7 -3.4 4.7zM339.9 506.3l3.4 -4.7 3.4 4.7 -3.4 4.7zM284.0 515.6l3.4 -4.7 3.4 4.7 -3.4 4.7zM258.1 509.0l3.4 -4.7 3.4 4.7 -3.4 4.7zM196.3 512.3l3.4 -4.7 3.4 4.7 -3.4 4.7zM286.2 525.8l3.4 -4.7 3.4 4.7 -3.4 4.7zM299.7 517.0l3.4 -4.7 3.4 4.7 -3.4 4.7zM271.6 518.2l3.4 -4.7 3.4 4.7 -3.4 4.7zM320.2 505.0l3.4 -4.7 3.4 4.7 -3.4 4.7zM184.1 505.1l3.4 -4.7 3.4 4.7 -3.4 4.7zM344.5 510.7l3.4 -4.7 3.4 4.7 -3.4 4.7zM264.0 506.6l3.4 -4.7 3.4 4.7 -3.4 4.7zM341.9 507.4l3.4 -4.7 3.4 4.7 -3.4 4.7zM283.3 503.7l3.4 -4.7 3.4 4.7 -3.4 4.7zM166.7 517.9l3.4 -4.7 3.4 4.7 -3.4 4.7zM239.2 522.7l3.4 -4.7 3.4 4.7 -3.4 4.7zM175.2 517.6l3.4 -4.7 3.4 4.7 -3.4 4.7zM302.2 515.4l3.4 -4.7 3.4 4.7 -3.4 4.7zM265.6 518.7l3.4 -4.7 3.4 4.7 -3.4 4.7zM214.9 516.2l3.4 -4.7 3.4 4.7 -3.4 4.7zM261.7 504.3l3.4 -4.7 3.4 4.7 -3.4 4.7zM262.0 517.6l3.4 -4.7 3.4 4.7 -3.4 4.7zM227.8 509.7l3.4 -4.7 3.4 4.7 -3.4 4.7zM202.7 499.3l3.4 -4.7 3.4 4.7 -3.4 4.7zM367.3 483.4l3.4 -4.7 3.4 4.7 -3.4 4.7zM258.2 521.7l3.4 -4.7 3.4 4.7 -3.4 4.7zM248.7 517.0l3.4 -4.7 3.4 4.7 -3.4 4.7zM312.1 510.8l3.4 -4.7 3.4 4.7 -3.4 4.7zM291.7 504.3l3.4 -4.7 3.4 4.7 -3.4 4.7zM223.8 508.9l3.4 -4.7 3.4 4.7 -3.4 4.7zM314.3 509.5l3.4 -4.7 3.4 4.7 -3.4 4.7zM323.0 521.4l3.4 -4.7 3.4 4.7 -3.4 4.7zM178.2 512.7l3.4 -4.7 3.4 4.7 -3.4 4.7zM230.3 518.7l3.4 -4.7 3.4 4.7 -3.4 4.7zM318.6 520.2l3.4 -4.7 3.4 4.7 -3.4 4.7zM200.0 519.7l3.4 -4.7 3.4 4.7 -3.4 4.7zM153.8 521.2l3.4 -4.7 3.4 4.7 -3.4 4.7zM315.7 524.6l3.4 -4.7 3.4 4.7 -3.4 4.7zM185.7 518.4l3.4 -4.7 3.4 4.7 -3.4 4.7zM185.1 511.4l3.4 -4.7 3.4 4.7 -3.4 4.7zM301.5 512.7l3.4 -4.7 3.4 4.7 -3.4 4.7zM331.2 505.3l3.4 -4.7 3.4 4.7 -3.4 4.7zM315.4 515.7l3.4 -4.7 3.4 4.7 -3.4 4.7zM281.1 519.7l3.4 -4.7 3.4 4.7 -3.4 4.7zM287.2 491.9l3.4 -4.7 3.4 4.7 -3.4 4.7zM245.3 509.1l3.4 -4.7 3.4 4.7 -3.4 4.7zM202.5 518.7l3.4 -4.7 3.4 4.7 -3.4 4.7zM202.1 519.8l3.4 -4.7 3.4 4.7 -3.4 4.7zM154.9 514.2l3.4 -4.7 3.4 4.7 -3.4 4.7zM214.6 514.1l3.4 -4.7 3.4 4.7 -3.4 4.7zM192.0 512.6l3.4 -4.7 3.4 4.7 -3.4 4.7zM266.5 520.8l3.4 -4.7 3.4 4.7 -3.4 4.7zM165.0 515.1l3.4 -4.7 3.4 4.7 -3.4 4.7zM240.2 506.3l3.4 -4.7 3.4 4.7 -3.4 4.7zM185.2 512.2l3.4 -4.7 3.4 4.7 -3.4 4.7zM319.7 511.8l3.4 -4.7 3.4 4.7 -3.4 4.7zM356.9 514.7l3.4 -4.7 3.4 4.7 -3.4 4.7zM177.0 510.9l3.4 -4.7 3.4 4.7 -3.4 4.7zM286.1 512.1l3.4 -4.7 3.4 4.7 -3.4 4.7zM254.4 510.6l3.4 -4.7 3.4 4.7 -3.4 4.7zM164.5 519.7l3.4 -4.7 3.4 4.7 -3.4 4.7zM291.8 504.3l3.4 -4.7 3.4 4.7 -3.4 4.7zM328.8 522.2l3.4 -4.7 3.4 4.7 -3.4 4.7zM188.6 516.0l3.4 -4.7 3.4 4.7 -3.4 4.7zM320.4 516.9l3.4 -4.7 3.4 4.7 -3.4 4.7zM244.8 523.0l3.4 -4.7 3.4 4.7 -3.4 4.7zM190.9 513.5l3.4 -4.7 3.4 4.7 -3.4 4.7zM331.1 517.9l3.4 -4.7 3.4 4.7 -3.4 4.7zM248.0 516.2l3.4 -4.7 3.4 4.7 -3.4 4.7zM262.5 516.3l3.4 -4.7 3.4 4.7 -3.4 4.7zM285.4 504.4l3.4 -4.7 3.4 4.7 -3.4 4.7zM321.8 519.3l3.4 -4.7 3.4 4.7 -3.4 4.7zM356.5 520.9l3.4 -4.7 3.4 4.7 -3.4 4.7zM246.6 522.3l3.4 -4.7 3.4 4.7 -3.4 4.7zM274.7 516.7l3.4 -4.7 3.4 4.7 -3.4 4.7zM256.2 512.5l3.4 -4.7 3.4 4.7 -3.4 4.7zM211.9 503.6l3.4 -4.7 3.4 4.7 -3.4 4.7zM188.4 511.4l3.4 -4.7 3.4 4.7 -3.4 4.7zM237.5 510.9l3.4 -4.7 3.4 4.7 -3.4 4.7zM298.7 511.3l3.4 -4.7 3.4 4.7 -3.4 4.7zM318.1 520.7l3.4 -4.7 3.4 4.7 -3.4 4.7zM206.3 511.3l3.4 -4.7 3.4 4.7 -3.4 4.7zM251.6 513.4l3.4 -4.7 3.4 4.7 -3.4 4.7zM263.2 522.3l3.4 -4.7 3.4 4.7 -3.4 4.7zM201.3 508.4l3.4 -4.7 3.4 4.7 -3.4 4.7zM242.0 507.0l3.4 -4.7 3.4 4.7 -3.4 4.7zM347.0 506.3l3.4 -4.7 3.4 4.7 -3.4 4.7zM307.6 514.7l3.4 -4.7 3.4 4.7 -3.4 4.7zM229.5 498.6l3.4 -4.7 3.4 4.7 -3.4 4.7zM239.6 499.5l3.4 -4.7 3.4 4.7 -3.4 4.7zM226.7 519.4l3.4 -4.7 3.4 4.7 -3.4 4.7zM290.3 519.4l3.4 -4.7 3.4 4.7 -3.4 4.7zM237.0 528.7l3.4 -4.7 3.4 4.7 -3.4 4.7zM307.0 518.3l3.4 -4.7 3.4 4.7 -3.4 4.7zM270.6 515.0l3.4 -4.7 3.4 4.7 -3.4 4.7zM318.2 517.4l3.4 -4.7 3.4 4.7 -3.4 4.7zM264.5 516.4l3.4 -4.7 3.4 4.7 -3.4 4.7zM128.0 513.4l3.4 -4.7 3.4 4.7 -3.4 4.7zM298.5 524.8l3.4 -4.7 3.4 4.7 -3.4 4.7zM301.2 515.2l3.4 -4.7 3.4 4.7 -3.4 4.7zM286.9 506.5l3.4 -4.7 3.4 4.7 -3.4 4.7zM260.6 520.3l3.4 -4.7 3.4 4.7 -3.4 4.7zM232.8 511.1l3.4 -4.7 3.4 4.7 -3.4 4.7zM259.3 513.1l3.4 -4.7 3.4 4.7 -3.4 4.7zM318.6 510.8l3.4 -4.7 3.4 4.7 -3.4 4.7zM295.9 510.1l3.4 -4.7 3.4 4.7 -3.4 4.7zM279.5 524.6l3.4 -4.7 3.4 4.7 -3.4 4.7zM308.3 516.5l3.4 -4.7 3.4 4.7 -3.4 4.7zM271.8 514.2l3.4 -4.7 3.4 4.7 -3.4 4.7zM215.4 514.5l3.4 -4.7 3.4 4.7 -3.4 4.7zM229.9 522.2l3.4 -4.7 3.4 4.7 -3.4 4.7zM254.1 499.9l3.4 -4.7 3.4 4.7 -3.4 4.7zM301.7 512.6l3.4 -4.7 3.4 4.7 -3.4 4.7zM218.2 519.1l3.4 -4.7 3.4 4.7 -3.4 4.7zM295.0 514.3l3.4 -4.7 3.4 4.7 -3.4 4.7zM320.3 511.2l3.4 -4.7 3.4 4.7 -3.4 4.7zM202.2 522.5l3.4 -4.7 3.4 4.7 -3.4 4.7zM313.2 502.7l3.4 -4.7 3.4 4.7 -3.4 4.7zM301.3 511.3l3.4 -4.7 3.4 4.7 -3.4 4.7zM208.0 532.5l3.4 -4.7 3.4 4.7 -3.4 4.7zM334.2 512.7l3.4 -4.7 3.4 4.7 -3.4 4.7zM338.5 518.3l3.4 -4.7 3.4 4.7 -3.4 4.7zM236.8 515.3l3.4 -4.7 3.4 4.7 -3.4 4.7zM241.3 510.8l3.4 -4.7 3.4 4.7 -3.4 4.7zM196.2 510.5l3.4 -4.7 3.4 4.7 -3.4 4.7zM293.6 529.7l3.4 -4.7 3.4 4.7 -3.4 4.7zM252.7 516.8l3.4 -4.7 3.4 4.7 -3.4 4.7zM303.4 513.7l3.4 -4.7 3.4 4.7 -3.4 4.7zM281.0 510.0l3.4 -4.7 3.4 4.7 -3.4 4.7zM184.1 517.0l3.4 -4.7 3.4 4.7 -3.4 4.7zM325.7 510.1l3.4 -4.7 3.4 4.7 -3.4 4.7zM195.1 513.3l3.4 -4.7 3.4 4.7 -3.4 4.7zM326.8 517.3l3.4 -4.7 3.4 4.7 -3.4 4.7zM153.6 512.9l3.4 -4.7 3.4 4.7 -3.4 4.7zM366.9 514.5l3.4 -4.7 3.4 4.7 -3.4 4.7zM169.5 510.5l3.4 -4.7 3.4 4.7 -3.4 4.7zM246.2 513.4l3.4 -4.7 3.4 4.7 -3.4 4.7zM164.9 517.4l3.4 -4.7 3.4 4.7 -3.4 4.7zM202.3 513.0l3.4 -4.7 3.4 4.7 -3.4 4.7zM256.3 515.8l3.4 -4.7 3.4 4.7 -3.4 4.7zM341.7 509.8l3.4 -4.7 3.4 4.7 -3.4 4.7zM274.0 512.2l3.4 -4.7 3.4 4.7 -3.4 4.7zM186.9 525.4l3.4 -4.7 3.4 4.7 -3.4 4.7zM220.1 514.9l3.4 -4.7 3.4 4.7 -3.4 4.7zM305.2 517.0l3.4 -4.7 3.4 4.7 -3.4 4.7zM293.1 520.1l3.4 -4.7 3.4 4.7 -3.4 4.7zM296.3 509.9l3.4 -4.7 3.4 4.7 -3.4 4.7zM304.6 512.7l3.4 -4.7 3.4 4.7 -3.4 4.7zM217.9 520.5l3.4 -4.7 3.4 4.7 -3.4 4.7zM186.6 521.5l3.4 -4.7 3.4 4.7 -3.4 4.7zM338.4 511.2l3.4 -4.7 3.4 4.7 -3.4 4.7zM218.8 521.1l3.4 -4.7 3.4 4.7 -3.4 4.7zM240.1 513.0l3.4 -4.7 3.4 4.7 -3.4 4.7zM262.5 520.3l3.4 -4.7 3.4 4.7 -3.4 4.7zM287.2 508.9l3.4 -4.7 3.4 4.7 -3.4 4.7zM247.6 520.6l3.4 -4.7 3.4 4.7 -3.4 4.7zM345.8 514.5l3.4 -4.7 3.4 4.7 -3.4 4.7zM199.7 514.5l3.4 -4.7 3.4 4.7 -3.4 4.7zM289.2 520.9l3.4 -4.7 3.4 4.7 -3.4 4.7zM358.2 515.0l3.4 -4.7 3.4 4.7 -3.4 4.7zM261.5 520.6l3.4 -4.7 3.4 4.7 -3.4 4.7zM265.2 510.7l3.4 -4.7 3.4 4.7 -3.4 4.7zM272.4 521.0l3.4 -4.7 3.4 4.7 -3.4 4.7zM295.8 509.2l3.4 -4.7 3.4 4.7 -3.4 4.7zM341.2 524.3l3.4 -4.7 3.4 4.7 -3.4 4.7zM296.0 516.0l3.4 -4.7 3.4 4.7 -3.4 4.7zM225.6 511.7l3.4 -4.7 3.4 4.7 -3.4 4.7zM312.2 528.4l3.4 -4.7 3.4 4.7 -3.4 4.7zM178.6 524.4l3.4 -4.7 3.4 4.7 -3.4 4.7zM321.5 521.3l3.4 -4.7 3.4 4.7 -3.4 4.7zM270.9 509.7l3.4 -4.7 3.4 4.7 -3.4 4.7zM341.8 523.7l3.4 -4.7 3.4 4.7 -3.4 4.7zM336.8 517.9l3.4 -4.7 3.4 4.7 -3.4 4.7zM268.1 517.8l3.4 -4.7 3.4 4.7 -3.4 4.7zM327.2 520.5l3.4 -4.7 3.4 4.7 -3.4 4.7zM308.3 516.3l3.4 -4.7 3.4 4.7 -3.4 4.7zM330.7 525.8l3.4 -4.7 3.4 4.7 -3.4 4.7zM233.5 530.8l3.4 -4.7 3.4 4.7 -3.4 4.7zM318.3 529.9l3.4 -4.7 3.4 4.7 -3.4 4.7zM348.6 519.4l3.4 -4.7 3.4 4.7 -3.4 4.7zM318.7 525.2l3.4 -4.7 3.4 4.7 -3.4 4.7zM249.6 507.4l3.4 -4.7 3.4 4.7 -3.4 4.7zM205.5 518.2l3.4 -4.7 3.4 4.7 -3.4 4.7zM173.2 518.7l3.4 -4.7 3.4 4.7 -3.4 4.7zM189.8 513.8l3.4 -4.7 3.4 4.7 -3.4 4.7zM302.7 523.2l3.4 -4.7 3.4 4.7 -3.4 4.7zM181.6 522.9l3.4 -4.7 3.4 4.7 -3.4 4.7zM206.1 523.1l3.4 -4.7 3.4 4.7 -3.4 4.7zM263.2 511.0l3.4 -4.7 3.4 4.7 -3.4 4.7zM238.5 517.4l3.4 -4.7 3.4 4.7 -3.4 4.7zM206.9 510.3l3.4 -4.7 3.4 4.7 -3.4 4.7zM254.7 524.8l3.4 -4.7 3.4 4.7 -3.4 4.7zM187.9 514.8l3.4 -4.7 3.4 4.7 -3.4 4.7zM208.7 515.8l3.4 -4.7 3.4 4.7 -3.4 4.7zM314.2 509.2l3.4 -4.7 3.4 4.7 -3.4 4.7zM240.8 507.1l3.4 -4.7 3.4 4.7 -3.4 4.7zM337.3 513.5l3.4 -4.7 3.4 4.7 -3.4 4.7zM208.9 512.9l3.4 -4.7 3.4 4.7 -3.4 4.7zM282.0 511.4l3.4 -4.7 3.4 4.7 -3.4 4.7zM240.5 523.1l3.4 -4.7 3.4 4.7 -3.4 4.7zM298.5 507.9l3.4 -4.7 3.4 4.7 -3.4 4.7zM162.4 519.7l3.4 -4.7 3.4 4.7 -3.4 4.7zM266.5 512.2l3.4 -4.7 3.4 4.7 -3.4 4.7zM247.2 528.7l3.4 -4.7 3.4 4.7 -3.4 4.7zM260.8 517.0l3.4 -4.7 3.4 4.7 -3.4 4.7zM179.2 512.3l3.4 -4.7 3.4 4.7 -3.4 4.7zM266.0 504.8l3.4 -4.7 3.4 4.7 -3.4 4.7zM223.8 505.3l3.4 -4.7 3.4 4.7 -3.4 4.7zM293.0 519.5l3.4 -4.7 3.4 4.7 -3.4 4.7zM220.3 503.6l3.4 -4.7 3.4 4.7 -3.4 4.7zM268.4 527.7l3.4 -4.7 3.4 4.7 -3.4 4.7zM153.9 515.0l3.4 -4.7 3.4 4.7 -3.4 4.7zM263.0 521.0l3.4 -4.7 3.4 4.7 -3.4 4.7zM283.6 518.6l3.4 -4.7 3.4 4.7 -3.4 4.7zM212.8 519.6l3.4 -4.7 3.4 4.7 -3.4 4.7zM230.0 513.0l3.4 -4.7 3.4 4.7 -3.4 4.7zM164.6 517.4l3.4 -4.7 3.4 4.7 -3.4 4.7zM338.6 506.1l3.4 -4.7 3.4 4.7 -3.4 4.7zM181.4 520.9l3.4 -4.7 3.4 4.7 -3.4 4.7zM211.6 523.4l3.4 -4.7 3.4 4.7 -3.4 4.7zM343.2 514.1l3.4 -4.7 3.4 4.7 -3.4 4.7zM265.0 514.5l3.4 -4.7 3.4 4.7 -3.4 4.7zM302.9 512.1l3.4 -4.7 3.4 4.7 -3.4 4.7zM243.6 515.7l3.4 -4.7 3.4 4.7 -3.4 4.7zM309.6 525.4l3.4 -4.7 3.4 4.7 -3.4 4.7zM318.1 526.4l3.4 -4.7 3.4 4.7 -3.4 4.7zM281.8 517.8l3.4 -4.7 3.4 4.7 -3.4 4.7zM155.3 512.3l3.4 -4.7 3.4 4.7 -3.4 4.7zM353.1 509.8l3.4 -4.7 3.4 4.7 -3.4 4.7zM143.1 518.7l3.4 -4.7 3.4 4.7 -3.4 4.7zM248.4 513.3l3.4 -4.7 3.4 4.7 -3.4 4.7zM295.1 514.3l3.4 -4.7 3.4 4.7 -3.4 4.7zM169.5 519.0l3.4 -4.7 3.4 4.7 -3.4 4.7zM274.8 514.4l3.4 -4.7 3.4 4.7 -3.4 4.7zM275.2 511.0l3.4 -4.7 3.4 4.7 -3.4 4.7zM229.1 512.9l3.4 -4.7 3.4 4.7 -3.4 4.7zM199.6 505.9l3.4 -4.7 3.4 4.7 -3.4 4.7zM220.7 515.5l3.4 -4.7 3.4 4.7 -3.4 4.7zM224.3 535.4l3.4 -4.7 3.4 4.7 -3.4 4.7zM260.2 506.9l3.4 -4.7 3.4 4.7 -3.4 4.7zM224.9 508.3l3.4 -4.7 3.4 4.7 -3.4 4.7zM293.5 524.7l3.4 -4.7 3.4 4.7 -3.4 4.7zM251.7 512.5l3.4 -4.7 3.4 4.7 -3.4 4.7zM264.8 512.3l3.4 -4.7 3.4 4.7 -3.4 4.7zM306.1 517.9l3.4 -4.7 3.4 4.7 -3.4 4.7zM309.6 524.6l3.4 -4.7 3.4 4.7 -3.4 4.7zM252.1 508.0l3.4 -4.7 3.4 4.7 -3.4 4.7zM228.0 510.6l3.4 -4.7 3.4 4.7 -3.4 4.7zM243.8 513.8l3.4 -4.7 3.4 4.7 -3.4 4.7zM155.5 516.2l3.4 -4.7 3.4 4.7 -3.4 4.7zM236.8 515.2l3.4 -4.7 3.4 4.7 -3.4 4.7zM319.6 502.2l3.4 -4.7 3.4 4.7 -3.4 4.7zM321.9 515.4l3.4 -4.7 3.4 4.7 -3.4 4.7zM328.6 511.1l3.4 -4.7 3.4 4.7 -3.4 4.7zM356.6 515.2l3.4 -4.7 3.4 4.7 -3.4 4.7zM294.7 521.2l3.4 -4.7 3.4 4.7 -3.4 4.7zM236.6 518.2l3.4 -4.7 3.4 4.7 -3.4 4.7zM236.8 515.0l3.4 -4.7 3.4 4.7 -3.4 4.7zM133.6 518.2l3.4 -4.7 3.4 4.7 -3.4 4.7zM357.4 509.6l3.4 -4.7 3.4 4.7 -3.4 4.7zM234.4 514.9l3.4 -4.7 3.4 4.7 -3.4 4.7zM150.7 515.7l3.4 -4.7 3.4 4.7 -3.4 4.7zM163.7 518.1l3.4 -4.7 3.4 4.7 -3.4 4.7zM348.1 509.2l3.4 -4.7 3.4 4.7 -3.4 4.7zM259.0 517.8l3.4 -4.7 3.4 4.7 -3.4 4.7zM306.6 530.6l3.4 -4.7 3.4 4.7 -3.4 4.7zM298.1 521.6l3.4 -4.7 3.4 4.7 -3.4 4.7zM313.2 510.0l3.4 -4.7 3.4 4.7 -3.4 4.7zM261.1 516.4l3.4 -4.7 3.4 4.7 -3.4 4.7zM273.4 509.1l3.4 -4.7 3.4 4.7 -3.4 4.7zM216.6 516.5l3.4 -4.7 3.4 4.7 -3.4 4.7zM244.2 518.4l3.4 -4.7 3.4 4.7 -3.4 4.7zM296.8 507.8l3.4 -4.7 3.4 4.7 -3.4 4.7zM320.0 517.4l3.4 -4.7 3.4 4.7 -3.4 4.7zM320.3 516.3l3.4 -4.7 3.4 4.7 -3.4 4.7zM368.5 509.6l3.4 -4.7 3.4 4.7 -3.4 4.7zM302.0 505.7l3.4 -4.7 3.4 4.7 -3.4 4.7zM261.3 509.9l3.4 -4.7 3.4 4.7 -3.4 4.7zM218.0 522.3l3.4 -4.7 3.4 4.7 -3.4 4.7zM150.1 514.7l3.4 -4.7 3.4 4.7 -3.4 4.7zM337.9 526.5l3.4 -4.7 3.4 4.7 -3.4 4.7zM220.4 511.6l3.4 -4.7 3.4 4.7 -3.4 4.7zM355.7 509.1l3.4 -4.7 3.4 4.7 -3.4 4.7zM364.5 519.4l3.4 -4.7 3.4 4.7 -3.4 4.7zM362.3 518.3l3.4 -4.7 3.4 4.7 -3.4 4.7zM163.8 520.6l3.4 -4.7 3.4 4.7 -3.4 4.7zM253.7 513.1l3.4 -4.7 3.4 4.7 -3.4 4.7zM258.5 520.8l3.4 -4.7 3.4 4.7 -3.4 4.7zM238.9 511.3l3.4 -4.7 3.4 4.7 -3.4 4.7zM213.3 514.0l3.4 -4.7 3.4 4.7 -3.4 4.7zM272.2 514.3l3.4 -4.7 3.4 4.7 -3.4 4.7zM189.8 516.2l3.4 -4.7 3.4 4.7 -3.4 4.7zM340.7 526.9l3.4 -4.7 3.4 4.7 -3.4 4.7zM238.3 517.5l3.4 -4.7 3.4 4.7 -3.4 4.7zM233.8 513.6l3.4 -4.7 3.4 4.7 -3.4 4.7zM296.9 504.8l3.4 -4.7 3.4 4.7 -3.4 4.7zM184.2 512.5l3.4 -4.7 3.4 4.7 -3.4 4.7zM277.5 513.6l3.4 -4.7 3.4 4.7 -3.4 4.7zM272.2 504.4l3.4 -4.7 3.4 4.7 -3.4 4.7zM189.2 505.4l3.4 -4.7 3.4 4.7 -3.4 4.7zM332.3 513.5l3.4 -4.7 3.4 4.7 -3.4 4.7zM194.3 519.4l3.4 -4.7 3.4 4.7 -3.4 4.7zM143.6 515.3l3.4 -4.7 3.4 4.7 -3.4 4.7zM208.2 517.6l3.4 -4.7 3.4 4.7 -3.4 4.7zM252.6 522.6l3.4 -4.7 3.4 4.7 -3.4 4.7zM262.3 513.3l3.4 -4.7 3.4 4.7 -3.4 4.7zM304.1 508.1l3.4 -4.7 3.4 4.7 -3.4 4.7zM312.4 513.2l3.4 -4.7 3.4 4.7 -3.4 4.7zM318.7 510.8l3.4 -4.7 3.4 4.7 -3.4 4.7zM228.6 523.3l3.4 -4.7 3.4 4.7 -3.4 4.7zM256.5 516.0l3.4 -4.7 3.4 4.7 -3.4 4.7zM214.1 513.2l3.4 -4.7 3.4 4.7 -3.4 4.7zM304.8 506.7l3.4 -4.7 3.4 4.7 -3.4 4.7zM269.0 512.5l3.4 -4.7 3.4 4.7 -3.4 4.7zM239.9 516.5l3.4 -4.7 3.4 4.7 -3.4 4.7zM248.6 519.3l3.4 -4.7 3.4 4.7 -3.4 4.7zM287.8 514.8l3.4 -4.7 3.4 4.7 -3.4 4.7zM168.1 514.9l3.4 -4.7 3.4 4.7 -3.4 4.7zM330.4 510.0l3.4 -4.7 3.4 4.7 -3.4 4.7zM242.6 525.6l3.4 -4.7 3.4 4.7 -3.4 4.7zM269.9 513.1l3.4 -4.7 3.4 4.7 -3.4 4.7zM307.7 505.8l3.4 -4.7 3.4 4.7 -3.4 4.7zM248.7 516.3l3.4 -4.7 3.4 4.7 -3.4 4.7zM189.0 517.4l3.4 -4.7 3.4 4.7 -3.4 4.7zM336.6 515.3l3.4 -4.7 3.4 4.7 -3.4 4.7zM268.6 511.5l3.4 -4.7 3.4 4.7 -3.4 4.7zM300.6 519.5l3.4 -4.7 3.4 4.7 -3.4 4.7zM246.3 511.3l3.4 -4.7 3.4 4.7 -3.4 4.7zM278.5 512.6l3.4 -4.7 3.4 4.7 -3.4 4.7zM221.6 516.8l3.4 -4.7 3.4 4.7 -3.4 4.7zM261.2 501.8l3.4 -4.7 3.4 4.7 -3.4 4.7zM230.2 514.9l3.4 -4.7 3.4 4.7 -3.4 4.7zM298.3 519.8l3.4 -4.7 3.4 4.7 -3.4 4.7zM232.9 508.2l3.4 -4.7 3.4 4.7 -3.4 4.7zM247.2 509.9l3.4 -4.7 3.4 4.7 -3.4 4.7zM328.9 526.4l3.4 -4.7 3.4 4.7 -3.4 4.7zM267.1 518.9l3.4 -4.7 3.4 4.7 -3.4 4.7zM253.5 527.7l3.4 -4.7 3.4 4.7 -3.4 4.7zM354.7 516.8l3.4 -4.7 3.4 4.7 -3.4 4.7zM234.0 516.3l3.4 -4.7 3.4 4.7 -3.4 4.7zM282.5 514.1l3.4 -4.7 3.4 4.7 -3.4 4.7zM303.1 514.4l3.4 -4.7 3.4 4.7 -3.4 4.7zM196.5 518.9l3.4 -4.7 3.4 4.7 -3.4 4.7zM153.6 520.6l3.4 -4.7 3.4 4.7 -3.4 4.7zM198.6 521.9l3.4 -4.7 3.4 4.7 -3.4 4.7zM305.7 513.9l3.4 -4.7 3.4 4.7 -3.4 4.7zM207.9 513.8l3.4 -4.7 3.4 4.7 -3.4 4.7zM197.4 515.1l3.4 -4.7 3.4 4.7 -3.4 4.7zM266.7 508.9l3.4 -4.7 3.4 4.7 -3.4 4.7zM153.3 518.0l3.4 -4.7 3.4 4.7 -3.4 4.7zM257.1 520.3l3.4 -4.7 3.4 4.7 -3.4 4.7zM282.7 512.5l3.4 -4.7 3.4 4.7 -3.4 4.7zM196.4 512.7l3.4 -4.7 3.4 4.7 -3.4 4.7zM261.2 523.1l3.4 -4.7 3.4 4.7 -3.4 4.7zM242.3 535.6l3.4 -4.7 3.4 4.7 -3.4 4.7zM258.8 519.8l3.4 -4.7 3.4 4.7 -3.4 4.7zM134.3 515.3l3.4 -4.7 3.4 4.7 -3.4 4.7zM290.5 513.1l3.4 -4.7 3.4 4.7 -3.4 4.7zM159.9 517.6l3.4 -4.7 3.4 4.7 -3.4 4.7zM354.1 520.3l3.4 -4.7 3.4 4.7 -3.4 4.7zM296.8 522.2l3.4 -4.7 3.4 4.7 -3.4 4.7zM249.3 514.4l3.4 -4.7 3.4 4.7 -3.4 4.7zM299.0 510.2l3.4 -4.7 3.4 4.7 -3.4 4.7zM204.5 519.2l3.4 -4.7 3.4 4.7 -3.4 4.7zM133.6 517.0l3.4 -4.7 3.4 4.7 -3.4 4.7zM131.4 513.8l3.4 -4.7 3.4 4.7 -3.4 4.7zM342.4 521.2l3.4 -4.7 3.4 4.7 -3.4 4.7zM185.9 518.6l3.4 -4.7 3.4 4.7 -3.4 4.7zM211.1 510.8l3.4 -4.7 3.4 4.7 -3.4 4.7zM162.3 520.7l3.4 -4.7 3.4 4.7 -3.4 4.7zM217.3 519.5l3.4 -4.7 3.4 4.7 -3.4 4.7zM313.3 507.4l3.4 -4.7 3.4 4.7 -3.4 4.7zM303.6 508.3l3.4 -4.7 3.4 4.7 -3.4 4.7zM291.0 512.9l3.4 -4.7 3.4 4.7 -3.4 4.7zM352.5 506.9l3.4 -4.7 3.4 4.7 -3.4 4.7zM243.7 515.2l3.4 -4.7 3.4 4.7 -3.4 4.7zM237.8 522.1l3.4 -4.7 3.4 4.7 -3.4 4.7zM294.5 518.1l3.4 -4.7 3.4 4.7 -3.4 4.7zM298.9 508.0l3.4 -4.7 3.4 4.7 -3.4 4.7zM240.1 516.9l3.4 -4.7 3.4 4.7 -3.4 4.7zM202.2 516.7l3.4 -4.7 3.4 4.7 -3.4 4.7zM255.4 515.4l3.4 -4.7 3.4 4.7 -3.4 4.7zM264.8 515.0l3.4 -4.7 3.4 4.7 -3.4 4.7zM247.9 519.9l3.4 -4.7 3.4 4.7 -3.4 4.7zM244.9 532.6l3.4 -4.7 3.4 4.7 -3.4 4.7zM257.2 514.8l3.4 -4.7 3.4 4.7 -3.4 4.7zM308.7 508.4l3.4 -4.7 3.4 4.7 -3.4 4.7zM172.3 517.7l3.4 -4.7 3.4 4.7 -3.4 4.7zM229.4 503.7l3.4 -4.7 3.4 4.7 -3.4 4.7zM192.8 522.0l3.4 -4.7 3.4 4.7 -3.4 4.7zM302.8 505.6l3.4 -4.7 3.4 4.7 -3.4 4.7zM217.9 515.3l3.4 -4.7 3.4 4.7 -3.4 4.7zM325.2 509.8l3.4 -4.7 3.4 4.7 -3.4 4.7zM297.6 521.7l3.4 -4.7 3.4 4.7 -3.4 4.7zM244.8 524.7l3.4 -4.7 3.4 4.7 -3.4 4.7zM225.7 517.0l3.4 -4.7 3.4 4.7 -3.4 4.7zM162.7 514.4l3.4 -4.7 3.4 4.7 -3.4 4.7zM243.8 510.6l3.4 -4.7 3.4 4.7 -3.4 4.7zM195.0 528.3l3.4 -4.7 3.4 4.7 -3.4 4.7zM225.5 517.3l3.4 -4.7 3.4 4.7 -3.4 4.7zM297.0 508.5l3.4 -4.7 3.4 4.7 -3.4 4.7zM281.0 516.5l3.4 -4.7 3.4 4.7 -3.4 4.7zM294.8 512.4l3.4 -4.7 3.4 4.7 -3.4 4.7zM255.7 523.0l3.4 -4.7 3.4 4.7 -3.4 4.7zM298.3 508.9l3.4 -4.7 3.4 4.7 -3.4 4.7zM188.8 520.5l3.4 -4.7 3.4 4.7 -3.4 4.7zM205.4 512.9l3.4 -4.7 3.4 4.7 -3.4 4.7zM279.6 510.8l3.4 -4.7 3.4 4.7 -3.4 4.7zM286.5 515.4l3.4 -4.7 3.4 4.7 -3.4 4.7zM278.1 511.7l3.4 -4.7 3.4 4.7 -3.4 4.7zM312.3 519.4l3.4 -4.7 3.4 4.7 -3.4 4.7zM245.9 525.7l3.4 -4.7 3.4 4.7 -3.4 4.7zM332.7 513.0l3.4 -4.7 3.4 4.7 -3.4 4.7zM242.1 527.6l3.4 -4.7 3.4 4.7 -3.4 4.7zM256.2 517.5l3.4 -4.7 3.4 4.7 -3.4 4.7zM254.5 528.2l3.4 -4.7 3.4 4.7 -3.4 4.7zM361.2 510.7l3.4 -4.7 3.4 4.7 -3.4 4.7zM225.8 511.0l3.4 -4.7 3.4 4.7 -3.4 4.7zM256.4 515.1l3.4 -4.7 3.4 4.7 -3.4 4.7zM316.9 511.5l3.4 -4.7 3.4 4.7 -3.4 4.7zM182.5 519.1l3.4 -4.7 3.4 4.7 -3.4 4.7zM289.2 507.9l3.4 -4.7 3.4 4.7 -3.4 4.7zM239.8 502.1l3.4 -4.7 3.4 4.7 -3.4 4.7zM270.6 531.2l3.4 -4.7 3.4 4.7 -3.4 4.7zM292.9 521.5l3.4 -4.7 3.4 4.7 -3.4 4.7zM318.0 521.4l3.4 -4.7 3.4 4.7 -3.4 4.7zM332.6 512.8l3.4 -4.7 3.4 4.7 -3.4 4.7zM356.9 514.9l3.4 -4.7 3.4 4.7 -3.4 4.7zM203.3 499.5l3.4 -4.7 3.4 4.7 -3.4 4.7zM242.9 513.6l3.4 -4.7 3.4 4.7 -3.4 4.7zM268.8 525.4l3.4 -4.7 3.4 4.7 -3.4 4.7zM281.8 531.0l3.4 -4.7 3.4 4.7 -3.4 4.7zM268.7 508.2l3.4 -4.7 3.4 4.7 -3.4 4.7zM169.3 520.8l3.4 -4.7 3.4 4.7 -3.4 4.7zM314.2 521.7l3.4 -4.7 3.4 4.7 -3.4 4.7zM205.7 510.0l3.4 -4.7 3.4 4.7 -3.4 4.7zM190.4 503.4l3.4 -4.7 3.4 4.7 -3.4 4.7zM337.1 505.2l3.4 -4.7 3.4 4.7 -3.4 4.7zM191.6 519.0l3.4 -4.7 3.4 4.7 -3.4 4.7zM224.4 510.5l3.4 -4.7 3.4 4.7 -3.4 4.7zM187.0 517.4l3.4 -4.7 3.4 4.7 -3.4 4.7zM286.5 505.7l3.4 -4.7 3.4 4.7 -3.4 4.7zM347.5 519.6l3.4 -4.7 3.4 4.7 -3.4 4.7zM289.8 510.7l3.4 -4.7 3.4 4.7 -3.4 4.7zM245.3 510.9l3.4 -4.7 3.4 4.7 -3.4 4.7zM349.8 518.4l3.4 -4.7 3.4 4.7 -3.4 4.7zM175.6 519.4l3.4 -4.7 3.4 4.7 -3.4 4.7zM257.5 522.7l3.4 -4.7 3.4 4.7 -3.4 4.7zM287.5 515.7l3.4 -4.7 3.4 4.7 -3.4 4.7zM245.6 511.9l3.4 -4.7 3.4 4.7 -3.4 4.7zM328.0 513.1l3.4 -4.7 3.4 4.7 -3.4 4.7zM179.8 514.9l3.4 -4.7 3.4 4.7 -3.4 4.7zM225.1 521.9l3.4 -4.7 3.4 4.7 -3.4 4.7zM226.5 509.9l3.4 -4.7 3.4 4.7 -3.4 4.7zM224.4 504.6l3.4 -4.7 3.4 4.7 -3.4 4.7zM302.4 519.4l3.4 -4.7 3.4 4.7 -3.4 4.7zM189.6 514.3l3.4 -4.7 3.4 4.7 -3.4 4.7zM275.6 505.8l3.4 -4.7 3.4 4.7 -3.4 4.7zM256.6 506.5l3.4 -4.7 3.4 4.7 -3.4 4.7zM234.1 516.7l3.4 -4.7 3.4 4.7 -3.4 4.7zM279.6 518.1l3.4 -4.7 3.4 4.7 -3.4 4.7zM135.8 516.1l3.4 -4.7 3.4 4.7 -3.4 4.7zM275.4 517.8l3.4 -4.7 3.4 4.7 -3.4 4.7zM309.2 515.1l3.4 -4.7 3.4 4.7 -3.4 4.7zM212.1 527.2l3.4 -4.7 3.4 4.7 -3.4 4.7zM160.0 514.1l3.4 -4.7 3.4 4.7 -3.4 4.7zM275.8 519.8l3.4 -4.7 3.4 4.7 -3.4 4.7zM270.5 522.9l3.4 -4.7 3.4 4.7 -3.4 4.7zM279.8 521.1l3.4 -4.7 3.4 4.7 -3.4 4.7zM263.5 521.5l3.4 -4.7 3.4 4.7 -3.4 4.7zM190.0 523.3l3.4 -4.7 3.4 4.7 -3.4 4.7zM280.9 508.4l3.4 -4.7 3.4 4.7 -3.4 4.7zM180.2 517.3l3.4 -4.7 3.4 4.7 -3.4 4.7zM236.8 520.0l3.4 -4.7 3.4 4.7 -3.4 4.7zM284.8 523.1l3.4 -4.7 3.4 4.7 -3.4 4.7zM293.8 509.7l3.4 -4.7 3.4 4.7 -3.4 4.7zM266.5 514.7l3.4 -4.7 3.4 4.7 -3.4 4.7zM216.1 526.2l3.4 -4.7 3.4 4.7 -3.4 4.7zM253.8 508.7l3.4 -4.7 3.4 4.7 -3.4 4.7zM246.7 513.0l3.4 -4.7 3.4 4.7 -3.4 4.7zM271.9 516.9l3.4 -4.7 3.4 4.7 -3.4 4.7zM290.6 514.0l3.4 -4.7 3.4 4.7 -3.4 4.7zM360.6 509.1l3.4 -4.7 3.4 4.7 -3.4 4.7zM183.9 530.5l3.4 -4.7 3.4 4.7 -3.4 4.7zM300.1 506.8l3.4 -4.7 3.4 4.7 -3.4 4.7zM341.9 506.0l3.4 -4.7 3.4 4.7 -3.4 4.7zM178.7 520.2l3.4 -4.7 3.4 4.7 -3.4 4.7zM242.0 513.3l3.4 -4.7 3.4 4.7 -3.4 4.7zM307.3 508.0l3.4 -4.7 3.4 4.7 -3.4 4.7zM310.3 507.8l3.4 -4.7 3.4 4.7 -3.4 4.7zM300.3 510.2l3.4 -4.7 3.4 4.7 -3.4 4.7zM295.8 527.4l3.4 -4.7 3.4 4.7 -3.4 4.7zM289.3 519.9l3.4 -4.7 3.4 4.7 -3.4 4.7zM329.3 518.0l3.4 -4.7 3.4 4.7 -3.4 4.7zM239.3 519.3l3.4 -4.7 3.4 4.7 -3.4 4.7zM255.5 516.6l3.4 -4.7 3.4 4.7 -3.4 4.7zM327.0 509.4l3.4 -4.7 3.4 4.7 -3.4 4.7zM211.2 521.0l3.4 -4.7 3.4 4.7 -3.4 4.7zM250.6 517.6l3.4 -4.7 3.4 4.7 -3.4 4.7zM278.2 507.8l3.4 -4.7 3.4 4.7 -3.4 4.7zM188.3 516.8l3.4 -4.7 3.4 4.7 -3.4 4.7zM310.6 506.6l3.4 -4.7 3.4 4.7 -3.4 4.7zM310.0 523.7l3.4 -4.7 3.4 4.7 -3.4 4.7zM293.0 528.1l3.4 -4.7 3.4 4.7 -3.4 4.7zM313.1 517.2l3.4 -4.7 3.4 4.7 -3.4 4.7zM337.4 508.9l3.4 -4.7 3.4 4.7 -3.4 4.7zM309.2 524.5l3.4 -4.7 3.4 4.7 -3.4 4.7zM276.7 513.9l3.4 -4.7 3.4 4.7 -3.4 4.7zM250.7 521.0l3.4 -4.7 3.4 4.7 -3.4 4.7zM275.9 517.2l3.4 -4.7 3.4 4.7 -3.4 4.7zM254.5 517.8l3.4 -4.7 3.4 4.7 -3.4 4.7zM300.6 515.1l3.4 -4.7 3.4 4.7 -3.4 4.7zM250.0 505.9l3.4 -4.7 3.4 4.7 -3.4 4.7zM302.9 513.1l3.4 -4.7 3.4 4.7 -3.4 4.7zM297.2 515.1l3.4 -4.7 3.4 4.7 -3.4 4.7zM223.6 517.1l3.4 -4.7 3.4 4.7 -3.4 4.7zM352.2 513.0l3.4 -4.7 3.4 4.7 -3.4 4.7zM231.7 514.3l3.4 -4.7 3.4 4.7 -3.4 4.7zM327.6 496.8l3.4 -4.7 3.4 4.7 -3.4 4.7zM307.7 506.8l3.4 -4.7 3.4 4.7 -3.4 4.7zM327.0 533.5l3.4 -4.7 3.4 4.7 -3.4 4.7zM290.8 518.2l3.4 -4.7 3.4 4.7 -3.4 4.7zM205.1 519.7l3.4 -4.7 3.4 4.7 -3.4 4.7zM279.6 513.2l3.4 -4.7 3.4 4.7 -3.4 4.7zM212.8 519.5l3.4 -4.7 3.4 4.7 -3.4 4.7zM271.7 520.5l3.4 -4.7 3.4 4.7 -3.4 4.7zM237.8 512.6l3.4 -4.7 3.4 4.7 -3.4 4.7zM341.4 512.2l3.4 -4.7 3.4 4.7 -3.4 4.7zM198.3 519.5l3.4 -4.7 3.4 4.7 -3.4 4.7zM362.4 512.0l3.4 -4.7 3.4 4.7 -3.4 4.7zM286.6 524.1l3.4 -4.7 3.4 4.7 -3.4 4.7zM210.5 510.7l3.4 -4.7 3.4 4.7 -3.4 4.7zM266.6 504.1l3.4 -4.7 3.4 4.7 -3.4 4.7zM340.4 504.3l3.4 -4.7 3.4 4.7 -3.4 4.7zM308.0 515.1l3.4 -4.7 3.4 4.7 -3.4 4.7zM219.3 522.9l3.4 -4.7 3.4 4.7 -3.4 4.7zM269.6 523.2l3.4 -4.7 3.4 4.7 -3.4 4.7zM234.6 515.3l3.4 -4.7 3.4 4.7 -3.4 4.7zM315.3 528.6l3.4 -4.7 3.4 4.7 -3.4 4.7zM340.4 515.4l3.4 -4.7 3.4 4.7 -3.4 4.7zM160.2 521.6l3.4 -4.7 3.4 4.7 -3.4 4.7zM283.4 527.5l3.4 -4.7 3.4 4.7 -3.4 4.7zM315.8 498.3l3.4 -4.7 3.4 4.7 -3.4 4.7zM225.8 518.4l3.4 -4.7 3.4 4.7 -3.4 4.7zM250.2 516.4l3.4 -4.7 3.4 4.7 -3.4 4.7zM237.0 509.6l3.4 -4.7 3.4 4.7 -3.4 4.7zM158.5 526.5l3.4 -4.7 3.4 4.7 -3.4 4.7zM252.3 502.3l3.4 -4.7 3.4 4.7 -3.4 4.7zM208.0 515.2l3.4 -4.7 3.4 4.7 -3.4 4.7zM281.2 515.9l3.4 -4.7 3.4 4.7 -3.4 4.7zM260.9 508.5l3.4 -4.7 3.4 4.7 -3.4 4.7zM297.3 507.1l3.4 -4.7 3.4 4.7 -3.4 4.7zM283.2 511.0l3.4 -4.7 3.4 4.7 -3.4 4.7zM223.6 515.2l3.4 -4.7 3.4 4.7 -3.4 4.7zM225.0 520.0l3.4 -4.7 3.4 4.7 -3.4 4.7zM235.3 526.0l3.4 -4.7 3.4 4.7 -3.4 4.7zM347.5 503.0l3.4 -4.7 3.4 4.7 -3.4 4.7zM344.2 516.1l3.4 -4.7 3.4 4.7 -3.4 4.7zM274.8 515.5l3.4 -4.7 3.4 4.7 -3.4 4.7zM210.1 525.3l3.4 -4.7 3.4 4.7 -3.4 4.7zM348.0 510.1l3.4 -4.7 3.4 4.7 -3.4 4.7zM169.3 515.1l3.4 -4.7 3.4 4.7 -3.4 4.7zM219.9 509.8l3.4 -4.7 3.4 4.7 -3.4 4.7zM319.2 519.9l3.4 -4.7 3.4 4.7 -3.4 4.7zM205.1 517.6l3.4 -4.7 3.4 4.7 -3.4 4.7zM307.1 520.4l3.4 -4.7 3.4 4.7 -3.4 4.7zM268.6 515.9l3.4 -4.7 3.4 4.7 -3.4 4.7zM297.2 519.6l3.4 -4.7 3.4 4.7 -3.4 4.7zM298.2 519.7l3.4 -4.7 3.4 4.7 -3.4 4.7zM134.1 521.1l3.4 -4.7 3.4 4.7 -3.4 4.7zM287.3 514.2l3.4 -4.7 3.4 4.7 -3.4 4.7zM218.4 526.8l3.4 -4.7 3.4 4.7 -3.4 4.7zM207.7 515.3l3.4 -4.7 3.4 4.7 -3.4 4.7zM326.1 510.5l3.4 -4.7 3.4 4.7 -3.4 4.7zM356.5 514.5l3.4 -4.7 3.4 4.7 -3.4 4.7zM140.7 518.8l3.4 -4.7 3.4 4.7 -3.4 4.7zM367.6 503.7l3.4 -4.7 3.4 4.7 -3.4 4.7zM211.9 515.1l3.4 -4.7 3.4 4.7 -3.4 4.7zM152.1 521.3l3.4 -4.7 3.4 4.7 -3.4 4.7zM266.0 497.9l3.4 -4.7 3.4 4.7 -3.4 4.7zM293.4 517.6l3.4 -4.7 3.4 4.7 -3.4 4.7zM334.8 504.2l3.4 -4.7 3.4 4.7 -3.4 4.7zM327.5 523.8l3.4 -4.7 3.4 4.7 -3.4 4.7zM184.3 512.5l3.4 -4.7 3.4 4.7 -3.4 4.7zM220.5 508.1l3.4 -4.7 3.4 4.7 -3.4 4.7zM160.9 516.8l3.4 -4.7 3.4 4.7 -3.4 4.7zM217.2 516.0l3.4 -4.7 3.4 4.7 -3.4 4.7zM267.4 514.2l3.4 -4.7 3.4 4.7 -3.4 4.7zM181.5 521.7l3.4 -4.7 3.4 4.7 -3.4 4.7zM240.0 519.9l3.4 -4.7 3.4 4.7 -3.4 4.7zM214.0 518.1l3.4 -4.7 3.4 4.7 -3.4 4.7zM224.6 514.8l3.4 -4.7 3.4 4.7 -3.4 4.7zM227.7 516.7l3.4 -4.7 3.4 4.7 -3.4 4.7zM209.8 515.5l3.4 -4.7 3.4 4.7 -3.4 4.7zM283.6 514.3l3.4 -4.7 3.4 4.7 -3.4 4.7zM306.9 502.9l3.4 -4.7 3.4 4.7 -3.4 4.7zM219.9 513.6l3.4 -4.7 3.4 4.7 -3.4 4.7zM239.3 519.2l3.4 -4.7 3.4 4.7 -3.4 4.7zM232.0 514.0l3.4 -4.7 3.4 4.7 -3.4 4.7zM306.1 514.7l3.4 -4.7 3.4 4.7 -3.4 4.7zM342.9 511.9l3.4 -4.7 3.4 4.7 -3.4 4.7zM223.0 517.3l3.4 -4.7 3.4 4.7 -3.4 4.7zM141.7 507.7l3.4 -4.7 3.4 4.7 -3.4 4.7zM259.5 509.7l3.4 -4.7 3.4 4.7 -3.4 4.7zM203.1 522.3l3.4 -4.7 3.4 4.7 -3.4 4.7zM219.5 513.7l3.4 -4.7 3.4 4.7 -3.4 4.7zM274.3 518.0l3.4 -4.7 3.4 4.7 -3.4 4.7zM196.0 508.0l3.4 -4.7 3.4 4.7 -3.4 4.7zM319.1 511.6l3.4 -4.7 3.4 4.7 -3.4 4.7zM319.3 509.3l3.4 -4.7 3.4 4.7 -3.4 4.7zM272.6 523.2l3.4 -4.7 3.4 4.7 -3.4 4.7zM271.9 514.9l3.4 -4.7 3.4 4.7 -3.4 4.7zM224.1 518.9l3.4 -4.7 3.4 4.7 -3.4 4.7zM211.6 516.3l3.4 -4.7 3.4 4.7 -3.4 4.7zM219.1 513.8l3.4 -4.7 3.4 4.7 -3.4 4.7zM286.7 521.6l3.4 -4.7 3.4 4.7 -3.4 4.7zM331.5 503.7l3.4 -4.7 3.4 4.7 -3.4 4.7zM365.0 505.8l3.4 -4.7 3.4 4.7 -3.4 4.7zM275.1 520.5l3.4 -4.7 3.4 4.7 -3.4 4.7zM143.5 517.1l3.4 -4.7 3.4 4.7 -3.4 4.7zM209.0 505.2l3.4 -4.7 3.4 4.7 -3.4 4.7zM275.9 515.5l3.4 -4.7 3.4 4.7 -3.4 4.7zM280.5 513.8l3.4 -4.7 3.4 4.7 -3.4 4.7zM231.3 518.0l3.4 -4.7 3.4 4.7 -3.4 4.7zM132.6 522.1l3.4 -4.7 3.4 4.7 -3.4 4.7zM272.2 511.8l3.4 -4.7 3.4 4.7 -3.4 4.7zM176.7 516.7l3.4 -4.7 3.4 4.7 -3.4 4.7zM259.5 529.9l3.4 -4.7 3.4 4.7 -3.4 4.7zM220.2 522.4l3.4 -4.7 3.4 4.7 -3.4 4.7zM245.0 523.9l3.4 -4.7 3.4 4.7 -3.4 4.7zM233.3 520.6l3.4 -4.7 3.4 4.7 -3.4 4.7zM208.1 516.1l3.4 -4.7 3.4 4.7 -3.4 4.7zM304.8 518.9l3.4 -4.7 3.4 4.7 -3.4 4.7zM272.7 524.4l3.4 -4.7 3.4 4.7 -3.4 4.7zM249.0 513.9l3.4 -4.7 3.4 4.7 -3.4 4.7zM370.0 518.6l3.4 -4.7 3.4 4.7 -3.4 4.7zM274.7 508.1l3.4 -4.7 3.4 4.7 -3.4 4.7zM182.4 508.7l3.4 -4.7 3.4 4.7 -3.4 4.7zM247.5 522.1l3.4 -4.7 3.4 4.7 -3.4 4.7zM241.8 521.0l3.4 -4.7 3.4 4.7 -3.4 4.7zM315.1 522.4l3.4 -4.7 3.4 4.7 -3.4 4.7zM307.6 500.6l3.4 -4.7 3.4 4.7 -3.4 4.7zM255.1 524.5l3.4 -4.7 3.4 4.7 -3.4 4.7zM311.6 519.9l3.4 -4.7 3.4 4.7 -3.4 4.7zM223.4 513.9l3.4 -4.7 3.4 4.7 -3.4 4.7zM186.6 519.1l3.4 -4.7 3.4 4.7 -3.4 4.7zM229.0 512.1l3.4 -4.7 3.4 4.7 -3.4 4.7zM189.3 504.0l3.4 -4.7 3.4 4.7 -3.4 4.7zM309.9 513.5l3.4 -4.7 3.4 4.7 -3.4 4.7zM170.1 516.7l3.4 -4.7 3.4 4.7 -3.4 4.7zM289.4 502.5l3.4 -4.7 3.4 4.7 -3.4 4.7zM302.1 512.5l3.4 -4.7 3.4 4.7 -3.4 4.7zM209.9 523.5l3.4 -4.7 3.4 4.7 -3.4 4.7zM188.7 513.3l3.4 -4.7 3.4 4.7 -3.4 4.7zM306.9 506.7l3.4 -4.7 3.4 4.7 -3.4 4.7zM250.4 516.7l3.4 -4.7 3.4 4.7 -3.4 4.7zM157.7 519.0l3.4 -4.7 3.4 4.7 -3.4 4.7zM295.0 503.4l3.4 -4.7 3.4 4.7 -3.4 4.7zM290.4 514.4l3.4 -4.7 3.4 4.7 -3.4 4.7zM206.5 505.6l3.4 -4.7 3.4 4.7 -3.4 4.7zM180.3 519.9l3.4 -4.7 3.4 4.7 -3.4 4.7zM326.7 496.3l3.4 -4.7 3.4 4.7 -3.4 4.7zM276.4 508.2l3.4 -4.7 3.4 4.7 -3.4 4.7zM298.3 512.8l3.4 -4.7 3.4 4.7 -3.4 4.7zM248.2 515.5l3.4 -4.7 3.4 4.7 -3.4 4.7zM178.8 519.4l3.4 -4.7 3.4 4.7 -3.4 4.7zM350.1 513.6l3.4 -4.7 3.4 4.7 -3.4 4.7zM154.0 514.0l3.4 -4.7 3.4 4.7 -3.4 4.7zM328.0 511.9l3.4 -4.7 3.4 4.7 -3.4 4.7zM282.8 525.0l3.4 -4.7 3.4 4.7 -3.4 4.7zM315.1 509.8l3.4 -4.7 3.4 4.7 -3.4 4.7zM333.6 517.6l3.4 -4.7 3.4 4.7 -3.4 4.7zM136.1 521.4l3.4 -4.7 3.4 4.7 -3.4 4.7zM238.7 499.0l3.4 -4.7 3.4 4.7 -3.4 4.7zM201.0 519.4l3.4 -4.7 3.4 4.7 -3.4 4.7zM226.0 507.6l3.4 -4.7 3.4 4.7 -3.4 4.7zM221.7 516.1l3.4 -4.7 3.4 4.7 -3.4 4.7zM132.8 516.2l3.4 -4.7 3.4 4.7 -3.4 4.7zM246.0 515.1l3.4 -4.7 3.4 4.7 -3.4 4.7zM252.5 518.0l3.4 -4.7 3.4 4.7 -3.4 4.7zM266.2 524.3l3.4 -4.7 3.4 4.7 -3.4 4.7zM236.9 509.1l3.4 -4.7 3.4 4.7 -3.4 4.7zM166.0 517.2l3.4 -4.7 3.4 4.7 -3.4 4.7zM301.4 522.9l3.4 -4.7 3.4 4.7 -3.4 4.7zM222.9 513.3l3.4 -4.7 3.4 4.7 -3.4 4.7zM242.3 506.5l3.4 -4.7 3.4 4.7 -3.4 4.7zM285.3 520.2l3.4 -4.7 3.4 4.7 -3.4 4.7zM234.1 512.3l3.4 -4.7 3.4 4.7 -3.4 4.7zM251.0 506.8l3.4 -4.7 3.4 4.7 -3.4 4.7zM247.4 526.9l3.4 -4.7 3.4 4.7 -3.4 4.7zM253.0 514.0l3.4 -4.7 3.4 4.7 -3.4 4.7zM159.2 517.9l3.4 -4.7 3.4 4.7 -3.4 4.7zM148.8 513.7l3.4 -4.7 3.4 4.7 -3.4 4.7zM320.5 521.1l3.4 -4.7 3.4 4.7 -3.4 4.7zM334.3 510.3l3.4 -4.7 3.4 4.7 -3.4 4.7zM333.2 510.5l3.4 -4.7 3.4 4.7 -3.4 4.7zM229.6 519.5l3.4 -4.7 3.4 4.7 -3.4 4.7zM345.1 500.2l3.4 -4.7 3.4 4.7 -3.4 4.7zM312.1 524.7l3.4 -4.7 3.4 4.7 -3.4 4.7zM222.5 513.9l3.4 -4.7 3.4 4.7 -3.4 4.7zM216.9 511.4l3.4 -4.7 3.4 4.7 -3.4 4.7zM272.6 514.5l3.4 -4.7 3.4 4.7 -3.4 4.7zM285.8 516.8l3.4 -4.7 3.4 4.7 -3.4 4.7zM257.0 520.4l3.4 -4.7 3.4 4.7 -3.4 4.7zM191.6 522.4l3.4 -4.7 3.4 4.7 -3.4 4.7zM178.0 522.3l3.4 -4.7 3.4 4.7 -3.4 4.7zM208.7 520.3l3.4 -4.7 3.4 4.7 -3.4 4.7zM225.3 514.0l3.4 -4.7 3.4 4.7 -3.4 4.7zM137.5 516.7l3.4 -4.7 3.4 4.7 -3.4 4.7zM316.1 518.0l3.4 -4.7 3.4 4.7 -3.4 4.7zM234.1 517.9l3.4 -4.7 3.4 4.7 -3.4 4.7zM185.7 520.0l3.4 -4.7 3.4 4.7 -3.4 4.7zM243.1 515.4l3.4 -4.7 3.4 4.7 -3.4 4.7zM203.0 518.8l3.4 -4.7 3.4 4.7 -3.4 4.7zM317.5 524.0l3.4 -4.7 3.4 4.7 -3.4 4.7zM254.1 513.0l3.4 -4.7 3.4 4.7 -3.4 4.7zM266.8 505.9l3.4 -4.7 3.4 4.7 -3.4 4.7zM294.7 510.2l3.4 -4.7 3.4 4.7 -3.4 4.7zM339.1 511.7l3.4 -4.7 3.4 4.7 -3.4 4.7zM232.0 509.5l3.4 -4.7 3.4 4.7 -3.4 4.7zM250.8 516.9l3.4 -4.7 3.4 4.7 -3.4 4.7zM241.0 525.0l3.4 -4.7 3.4 4.7 -3.4 4.7zM228.0 510.6l3.4 -4.7 3.4 4.7 -3.4 4.7zM278.3 509.8l3.4 -4.7 3.4 4.7 -3.4 4.7zM155.8 517.6l3.4 -4.7 3.4 4.7 -3.4 4.7zM307.5 527.8l3.4 -4.7 3.4 4.7 -3.4 4.7zM182.7 519.4l3.4 -4.7 3.4 4.7 -3.4 4.7zM132.2 515.4l3.4 -4.7 3.4 4.7 -3.4 4.7zM223.6 497.9l3.4 -4.7 3.4 4.7 -3.4 4.7zM249.6 528.4l3.4 -4.7 3.4 4.7 -3.4 4.7zM290.8 505.5l3.4 -4.7 3.4 4.7 -3.4 4.7zM208.0 511.6l3.4 -4.7 3.4 4.7 -3.4 4.7zM260.7 523.6l3.4 -4.7 3.4 4.7 -3.4 4.7zM264.5 507.7l3.4 -4.7 3.4 4.7 -3.4 4.7zM169.7 516.3l3.4 -4.7 3.4 4.7 -3.4 4.7zM200.0 520.8l3.4 -4.7 3.4 4.7 -3.4 4.7zM279.1 512.1l3.4 -4.7 3.4 4.7 -3.4 4.7zM290.6 518.0l3.4 -4.7 3.4 4.7 -3.4 4.7zM243.9 512.9l3.4 -4.7 3.4 4.7 -3.4 4.7zM271.4 523.2l3.4 -4.7 3.4 4.7 -3.4 4.7zM321.4 528.9l3.4 -4.7 3.4 4.7 -3.4 4.7zM300.7 512.7l3.4 -4.7 3.4 4.7 -3.4 4.7zM249.4 528.1l3.4 -4.7 3.4 4.7 -3.4 4.7zM306.1 517.5l3.4 -4.7 3.4 4.7 -3.4 4.7zM225.9 514.9l3.4 -4.7 3.4 4.7 -3.4 4.7zM244.7 504.0l3.4 -4.7 3.4 4.7 -3.4 4.7zM212.2 516.9l3.4 -4.7 3.4 4.7 -3.4 4.7zM244.6 517.6l3.4 -4.7 3.4 4.7 -3.4 4.7zM265.2 515.9l3.4 -4.7 3.4 4.7 -3.4 4.7zM353.4 523.2l3.4 -4.7 3.4 4.7 -3.4 4.7zM184.6 522.6l3.4 -4.7 3.4 4.7 -3.4 4.7zM304.4 511.0l3.4 -4.7 3.4 4.7 -3.4 4.7zM156.6 517.9l3.4 -4.7 3.4 4.7 -3.4 4.7zM357.0 503.5l3.4 -4.7 3.4 4.7 -3.4 4.7zM333.5 513.9l3.4 -4.7 3.4 4.7 -3.4 4.7zM358.3 510.4l3.4 -4.7 3.4 4.7 -3.4 4.7zM235.4 518.2l3.4 -4.7 3.4 4.7 -3.4 4.7zM308.6 513.3l3.4 -4.7 3.4 4.7 -3.4 4.7zM296.3 502.3l3.4 -4.7 3.4 4.7 -3.4 4.7zM222.5 524.4l3.4 -4.7 3.4 4.7 -3.4 4.7zM187.2 514.6l3.4 -4.7 3.4 4.7 -3.4 4.7zM152.1 512.6l3.4 -4.7 3.4 4.7 -3.4 4.7zM206.7 521.1l3.4 -4.7 3.4 4.7 -3.4 4.7zM175.8 515.6l3.4 -4.7 3.4 4.7 -3.4 4.7zM260.2 523.9l3.4 -4.7 3.4 4.7 -3.4 4.7zM275.8 503.6l3.4 -4.7 3.4 4.7 -3.4 4.7zM208.8 499.0l3.4 -4.7 3.4 4.7 -3.4 4.7zM202.4 516.8l3.4 -4.7 3.4 4.7 -3.4 4.7zM258.9 509.4l3.4 -4.7 3.4 4.7 -3.4 4.7zM289.5 520.7l3.4 -4.7 3.4 4.7 -3.4 4.7zM195.8 515.8l3.4 -4.7 3.4 4.7 -3.4 4.7zM209.1 519.2l3.4 -4.7 3.4 4.7 -3.4 4.7zM197.2 505.3l3.4 -4.7 3.4 4.7 -3.4 4.7zM290.7 516.3l3.4 -4.7 3.4 4.7 -3.4 4.7zM345.1 505.7l3.4 -4.7 3.4 4.7 -3.4 4.7zM290.9 512.9l3.4 -4.7 3.4 4.7 -3.4 4.7zM330.6 516.5l3.4 -4.7 3.4 4.7 -3.4 4.7zM229.5 506.7l3.4 -4.7 3.4 4.7 -3.4 4.7zM319.6 500.2l3.4 -4.7 3.4 4.7 -3.4 4.7zM306.6 523.7l3.4 -4.7 3.4 4.7 -3.4 4.7zM180.4 510.9l3.4 -4.7 3.4 4.7 -3.4 4.7zM301.0 527.1l3.4 -4.7 3.4 4.7 -3.4 4.7zM290.7 526.3l3.4 -4.7 3.4 4.7 -3.4 4.7zM299.4 518.0l3.4 -4.7 3.4 4.7 -3.4 4.7zM224.1 517.9l3.4 -4.7 3.4 4.7 -3.4 4.7zM316.0 506.0l3.4 -4.7 3.4 4.7 -3.4 4.7zM260.9 515.7l3.4 -4.7 3.4 4.7 -3.4 4.7zM221.8 524.9l3.4 -4.7 3.4 4.7 -3.4 4.7zM291.3 512.7l3.4 -4.7 3.4 4.7 -3.4 4.7zM334.9 525.5l3.4 -4.7 3.4 4.7 -3.4 4.7zM248.7 522.2l3.4 -4.7 3.4 4.7 -3.4 4.7zM207.7 511.9l3.4 -4.7 3.4 4.7 -3.4 4.7zM348.2 510.3l3.4 -4.7 3.4 4.7 -3.4 4.7zM217.3 524.1l3.4 -4.7 3.4 4.7 -3.4 4.7zM300.3 518.5l3.4 -4.7 3.4 4.7 -3.4 4.7zM217.1 526.1l3.4 -4.7 3.4 4.7 -3.4 4.7zM259.9 524.8l3.4 -4.7 3.4 4.7 -3.4 4.7zM309.7 524.9l3.4 -4.7 3.4 4.7 -3.4 4.7zM287.7 504.9l3.4 -4.7 3.4 4.7 -3.4 4.7zM257.7 505.6l3.4 -4.7 3.4 4.7 -3.4 4.7zM304.4 523.5l3.4 -4.7 3.4 4.7 -3.4 4.7zM240.9 525.7l3.4 -4.7 3.4 4.7 -3.4 4.7zM188.1 528.2l3.4 -4.7 3.4 4.7 -3.4 4.7zM290.5 509.6l3.4 -4.7 3.4 4.7 -3.4 4.7zM233.1 518.5l3.4 -4.7 3.4 4.7 -3.4 4.7zM132.1 515.2l3.4 -4.7 3.4 4.7 -3.4 4.7zM363.6 505.5l3.4 -4.7 3.4 4.7 -3.4 4.7zM224.6 510.9l3.4 -4.7 3.4 4.7 -3.4 4.7zM279.2 510.2l3.4 -4.7 3.4 4.7 -3.4 4.7zM236.6 521.3l3.4 -4.7 3.4 4.7 -3.4 4.7zM329.7 512.6l3.4 -4.7 3.4 4.7 -3.4 4.7zM350.7 524.4l3.4 -4.7 3.4 4.7 -3.4 4.7zM368.8 513.0l3.4 -4.7 3.4 4.7 -3.4 4.7zM316.9 500.5l3.4 -4.7 3.4 4.7 -3.4 4.7zM336.2 522.8l3.4 -4.7 3.4 4.7 -3.4 4.7zM329.6 518.1l3.4 -4.7 3.4 4.7 -3.4 4.7zM173.1 512.0l3.4 -4.7 3.4 4.7 -3.4 4.7zM200.3 512.9l3.4 -4.7 3.4 4.7 -3.4 4.7zM309.8 510.9l3.4 -4.7 3.4 4.7 -3.4 4.7zM304.8 520.8l3.4 -4.7 3.4 4.7 -3.4 4.7zM220.5 510.1l3.4 -4.7 3.4 4.7 -3.4 4.7zM316.8 513.4l3.4 -4.7 3.4 4.7 -3.4 4.7zM322.6 505.4l3.4 -4.7 3.4 4.7 -3.4 4.7zM207.9 504.6l3.4 -4.7 3.4 4.7 -3.4 4.7zM292.8 528.2l3.4 -4.7 3.4 4.7 -3.4 4.7zM207.1 510.4l3.4 -4.7 3.4 4.7 -3.4 4.7zM282.3 516.2l3.4 -4.7 3.4 4.7 -3.4 4.7zM220.1 508.2l3.4 -4.7 3.4 4.7 -3.4 4.7zM264.8 505.1l3.4 -4.7 3.4 4.7 -3.4 4.7zM144.6 515.2l3.4 -4.7 3.4 4.7 -3.4 4.7zM201.6 518.7l3.4 -4.7 3.4 4.7 -3.4 4.7zM260.5 509.1l3.4 -4.7 3.4 4.7 -3.4 4.7zM217.0 510.3l3.4 -4.7 3.4 4.7 -3.4 4.7zM255.4 507.2l3.4 -4.7 3.4 4.7 -3.4 4.7zM322.7 526.4l3.4 -4.7 3.4 4.7 -3.4 4.7zM321.2 516.6l3.4 -4.7 3.4 4.7 -3.4 4.7zM326.2 513.9l3.4 -4.7 3.4 4.7 -3.4 4.7zM217.3 513.8l3.4 -4.7 3.4 4.7 -3.4 4.7zM322.9 519.1l3.4 -4.7 3.4 4.7 -3.4 4.7zM298.6 523.8l3.4 -4.7 3.4 4.7 -3.4 4.7zM159.6 520.1l3.4 -4.7 3.4 4.7 -3.4 4.7zM222.6 524.4l3.4 -4.7 3.4 4.7 -3.4 4.7zM349.0 527.5l3.4 -4.7 3.4 4.7 -3.4 4.7zM221.5 511.6l3.4 -4.7 3.4 4.7 -3.4 4.7zM319.7 526.1l3.4 -4.7 3.4 4.7 -3.4 4.7zM255.7 505.3l3.4 -4.7 3.4 4.7 -3.4 4.7zM174.2 509.5l3.4 -4.7 3.4 4.7 -3.4 4.7zM260.1 509.3l3.4 -4.7 3.4 4.7 -3.4 4.7zM274.6 523.9l3.4 -4.7 3.4 4.7 -3.4 4.7zM195.3 516.2l3.4 -4.7 3.4 4.7 -3.4 4.7zM222.4 502.7l3.4 -4.7 3.4 4.7 -3.4 4.7zM231.2 524.5l3.4 -4.7 3.4 4.7 -3.4 4.7zM362.1 507.0l3.4 -4.7 3.4 4.7 -3.4 4.7zM240.7 518.9l3.4 -4.7 3.4 4.7 -3.4 4.7zM363.9 514.6l3.4 -4.7 3.4 4.7 -3.4 4.7zM300.8 520.7l3.4 -4.7 3.4 4.7 -3.4 4.7zM264.5 530.1l3.4 -4.7 3.4 4.7 -3.4 4.7zM137.9 521.9l3.4 -4.7 3.4 4.7 -3.4 4.7zM264.4 508.3l3.4 -4.7 3.4 4.7 -3.4 4.7zM192.3 510.5l3.4 -4.7 3.4 4.7 -3.4 4.7zM304.1 523.9l3.4 -4.7 3.4 4.7 -3.4 4.7zM247.0 518.3l3.4 -4.7 3.4 4.7 -3.4 4.7zM246.3 508.2l3.4 -4.7 3.4 4.7 -3.4 4.7zM359.8 511.7l3.4 -4.7 3.4 4.7 -3.4 4.7zM296.0 507.2l3.4 -4.7 3.4 4.7 -3.4 4.7zM358.7 512.4l3.4 -4.7 3.4 4.7 -3.4 4.7zM337.7 503.9l3.4 -4.7 3.4 4.7 -3.4 4.7zM272.0 511.9l3.4 -4.7 3.4 4.7 -3.4 4.7zM315.9 521.8l3.4 -4.7 3.4 4.7 -3.4 4.7zM329.7 504.0l3.4 -4.7 3.4 4.7 -3.4 4.7zM283.3 512.1l3.4 -4.7 3.4 4.7 -3.4 4.7zM194.9 519.1l3.4 -4.7 3.4 4.7 -3.4 4.7zM318.7 516.5l3.4 -4.7 3.4 4.7 -3.4 4.7zM218.0 521.8l3.4 -4.7 3.4 4.7 -3.4 4.7zM231.6 528.3l3.4 -4.7 3.4 4.7 -3.4 4.7zM274.7 523.9l3.4 -4.7 3.4 4.7 -3.4 4.7zM307.3 507.2l3.4 -4.7 3.4 4.7 -3.4 4.7zM149.4 517.2l3.4 -4.7 3.4 4.7 -3.4 4.7zM305.9 508.4l3.4 -4.7 3.4 4.7 -3.4 4.7zM226.8 522.1l3.4 -4.7 3.4 4.7 -3.4 4.7zM213.8 511.3l3.4 -4.7 3.4 4.7 -3.4 4.7zM274.4 507.0l3.4 -4.7 3.4 4.7 -3.4 4.7zM288.1 492.6l3.4 -4.7 3.4 4.7 -3.4 4.7zM221.6 526.6l3.4 -4.7 3.4 4.7 -3.4 4.7zM230.0 504.1l3.4 -4.7 3.4 4.7 -3.4 4.7zM140.8 517.0l3.4 -4.7 3.4 4.7 -3.4 4.7zM180.1 511.4l3.4 -4.7 3.4 4.7 -3.4 4.7zM263.8 526.5l3.4 -4.7 3.4 4.7 -3.4 4.7zM281.4 514.2l3.4 -4.7 3.4 4.7 -3.4 4.7zM135.8 519.8l3.4 -4.7 3.4 4.7 -3.4 4.7zM251.9 522.6l3.4 -4.7 3.4 4.7 -3.4 4.7zM322.4 512.6l3.4 -4.7 3.4 4.7 -3.4 4.7zM262.2 513.1l3.4 -4.7 3.4 4.7 -3.4 4.7zM277.3 493.7l3.4 -4.7 3.4 4.7 -3.4 4.7zM356.6 512.9l3.4 -4.7 3.4 4.7 -3.4 4.7zM185.3 508.7l3.4 -4.7 3.4 4.7 -3.4 4.7zM274.0 514.2l3.4 -4.7 3.4 4.7 -3.4 4.7zM222.2 516.8l3.4 -4.7 3.4 4.7 -3.4 4.7zM193.1 520.8l3.4 -4.7 3.4 4.7 -3.4 4.7zM231.8 525.1l3.4 -4.7 3.4 4.7 -3.4 4.7zM267.2 507.9l3.4 -4.7 3.4 4.7 -3.4 4.7zM227.6 511.1l3.4 -4.7 3.4 4.7 -3.4 4.7zM282.3 507.1l3.4 -4.7 3.4 4.7 -3.4 4.7zM312.9 512.7l3.4 -4.7 3.4 4.7 -3.4 4.7zM284.0 510.8l3.4 -4.7 3.4 4.7 -3.4 4.7zM334.9 510.5l3.4 -4.7 3.4 4.7 -3.4 4.7zM228.7 512.2l3.4 -4.7 3.4 4.7 -3.4 4.7zM239.4 510.5l3.4 -4.7 3.4 4.7 -3.4 4.7zM323.0 515.7l3.4 -4.7 3.4 4.7 -3.4 4.7zM323.1 517.3l3.4 -4.7 3.4 4.7 -3.4 4.7zM284.8 519.0l3.4 -4.7 3.4 4.7 -3.4 4.7zM302.0 519.9l3.4 -4.7 3.4 4.7 -3.4 4.7zM199.8 516.3l3.4 -4.7 3.4 4.7 -3.4 4.7zM243.4 506.0l3.4 -4.7 3.4 4.7 -3.4 4.7zM197.7 514.0l3.4 -4.7 3.4 4.7 -3.4 4.7zM268.8 516.0l3.4 -4.7 3.4 4.7 -3.4 4.7zM179.6 524.8l3.4 -4.7 3.4 4.7 -3.4 4.7zM322.4 515.7l3.4 -4.7 3.4 4.7 -3.4 4.7zM282.8 511.7l3.4 -4.7 3.4 4.7 -3.4 4.7zM233.6 517.5l3.4 -4.7 3.4 4.7 -3.4 4.7zM276.0 516.6l3.4 -4.7 3.4 4.7 -3.4 4.7zM247.5 509.1l3.4 -4.7 3.4 4.7 -3.4 4.7zM177.0 524.6l3.4 -4.7 3.4 4.7 -3.4 4.7zM262.7 511.8l3.4 -4.7 3.4 4.7 -3.4 4.7zM177.8 514.2l3.4 -4.7 3.4 4.7 -3.4 4.7zM269.5 512.8l3.4 -4.7 3.4 4.7 -3.4 4.7zM190.4 513.3l3.4 -4.7 3.4 4.7 -3.4 4.7zM217.9 518.1l3.4 -4.7 3.4 4.7 -3.4 4.7zM246.2 514.4l3.4 -4.7 3.4 4.7 -3.4 4.7zM283.7 515.1l3.4 -4.7 3.4 4.7 -3.4 4.7zM328.7 522.1l3.4 -4.7 3.4 4.7 -3.4 4.7zM316.8 511.7l3.4 -4.7 3.4 4.7 -3.4 4.7zM320.1 513.0l3.4 -4.7 3.4 4.7 -3.4 4.7zM242.4 521.6l3.4 -4.7 3.4 4.7 -3.4 4.7zM232.0 516.7l3.4 -4.7 3.4 4.7 -3.4 4.7zM132.3 513.8l3.4 -4.7 3.4 4.7 -3.4 4.7zM299.6 499.2l3.4 -4.7 3.4 4.7 -3.4 4.7zM292.1 515.7l3.4 -4.7 3.4 4.7 -3.4 4.7zM219.3 506.0l3.4 -4.7 3.4 4.7 -3.4 4.7zM281.1 522.8l3.4 -4.7 3.4 4.7 -3.4 4.7zM306.1 514.1l3.4 -4.7 3.4 4.7 -3.4 4.7zM370.1 500.7l3.4 -4.7 3.4 4.7 -3.4 4.7zM231.0 518.8l3.4 -4.7 3.4 4.7 -3.4 4.7zM324.7 512.0l3.4 -4.7 3.4 4.7 -3.4 4.7zM259.1 519.3l3.4 -4.7 3.4 4.7 -3.4 4.7zM308.6 503.1l3.4 -4.7 3.4 4.7 -3.4 4.7zM265.5 511.0l3.4 -4.7 3.4 4.7 -3.4 4.7zM283.6 530.7l3.4 -4.7 3.4 4.7 -3.4 4.7zM313.1 511.6l3.4 -4.7 3.4 4.7 -3.4 4.7zM284.5 522.0l3.4 -4.7 3.4 4.7 -3.4 4.7zM319.1 519.7l3.4 -4.7 3.4 4.7 -3.4 4.7zM330.4 518.7l3.4 -4.7 3.4 4.7 -3.4 4.7zM186.4 514.0l3.4 -4.7 3.4 4.7 -3.4 4.7zM328.9 518.1l3.4 -4.7 3.4 4.7 -3.4 4.7zM307.7 515.5l3.4 -4.7 3.4 4.7 -3.4 4.7zM255.7 515.6l3.4 -4.7 3.4 4.7 -3.4 4.7zM327.1 508.1l3.4 -4.7 3.4 4.7 -3.4 4.7zM226.3 494.6l3.4 -4.7 3.4 4.7 -3.4 4.7zM335.6 501.5l3.4 -4.7 3.4 4.7 -3.4 4.7zM177.9 517.7l3.4 -4.7 3.4 4.7 -3.4 4.7zM344.0 507.3l3.4 -4.7 3.4 4.7 -3.4 4.7zM315.9 511.6l3.4 -4.7 3.4 4.7 -3.4 4.7zM233.7 519.5l3.4 -4.7 3.4 4.7 -3.4 4.7zM199.0 513.1l3.4 -4.7 3.4 4.7 -3.4 4.7zM255.2 506.5l3.4 -4.7 3.4 4.7 -3.4 4.7zM201.5 517.4l3.4 -4.7 3.4 4.7 -3.4 4.7zM331.6 518.6l3.4 -4.7 3.4 4.7 -3.4 4.7zM188.5 505.5l3.4 -4.7 3.4 4.7 -3.4 4.7zM256.6 519.5l3.4 -4.7 3.4 4.7 -3.4 4.7zM280.3 517.1l3.4 -4.7 3.4 4.7 -3.4 4.7zM220.0 519.1l3.4 -4.7 3.4 4.7 -3.4 4.7zM276.5 519.6l3.4 -4.7 3.4 4.7 -3.4 4.7zM212.8 522.3l3.4 -4.7 3.4 4.7 -3.4 4.7zM323.3 500.1l3.4 -4.7 3.4 4.7 -3.4 4.7zM166.5 513.7l3.4 -4.7 3.4 4.7 -3.4 4.7zM199.8 519.7l3.4 -4.7 3.4 4.7 -3.4 4.7zM158.9 516.5l3.4 -4.7 3.4 4.7 -3.4 4.7zM240.5 523.7l3.4 -4.7 3.4 4.7 -3.4 4.7zM295.4 519.1l3.4 -4.7 3.4 4.7 -3.4 4.7zM217.0 496.4l3.4 -4.7 3.4 4.7 -3.4 4.7zM291.8 506.0l3.4 -4.7 3.4 4.7 -3.4 4.7zM188.4 513.1l3.4 -4.7 3.4 4.7 -3.4 4.7zM222.9 521.4l3.4 -4.7 3.4 4.7 -3.4 4.7zM274.5 516.5l3.4 -4.7 3.4 4.7 -3.4 4.7zM322.8 526.7l3.4 -4.7 3.4 4.7 -3.4 4.7zM296.0 499.2l3.4 -4.7 3.4 4.7 -3.4 4.7zM306.0 521.2l3.4 -4.7 3.4 4.7 -3.4 4.7zM208.7 515.6l3.4 -4.7 3.4 4.7 -3.4 4.7zM254.1 514.8l3.4 -4.7 3.4 4.7 -3.4 4.7zM266.9 519.2l3.4 -4.7 3.4 4.7 -3.4 4.7zM299.0 525.1l3.4 -4.7 3.4 4.7 -3.4 4.7zM264.3 513.4l3.4 -4.7 3.4 4.7 -3.4 4.7zM217.3 515.9l3.4 -4.7 3.4 4.7 -3.4 4.7zM163.9 516.8l3.4 -4.7 3.4 4.7 -3.4 4.7zM340.7 513.0l3.4 -4.7 3.4 4.7 -3.4 4.7zM207.8 518.6l3.4 -4.7 3.4 4.7 -3.4 4.7zM275.5 510.6l3.4 -4.7 3.4 4.7 -3.4 4.7zM340.3 517.0l3.4 -4.7 3.4 4.7 -3.4 4.7zM338.6 529.1l3.4 -4.7 3.4 4.7 -3.4 4.7zM284.2 514.3l3.4 -4.7 3.4 4.7 -3.4 4.7zM249.1 520.9l3.4 -4.7 3.4 4.7 -3.4 4.7zM316.0 499.7l3.4 -4.7 3.4 4.7 -3.4 4.7zM231.2 501.1l3.4 -4.7 3.4 4.7 -3.4 4.7zM349.2 517.1l3.4 -4.7 3.4 4.7 -3.4 4.7zM227.3 520.2l3.4 -4.7 3.4 4.7 -3.4 4.7zM199.0 513.9l3.4 -4.7 3.4 4.7 -3.4 4.7zM239.8 517.4l3.4 -4.7 3.4 4.7 -3.4 4.7zM331.0 516.7l3.4 -4.7 3.4 4.7 -3.4 4.7zM278.8 516.1l3.4 -4.7 3.4 4.7 -3.4 4.7zM272.2 506.7l3.4 -4.7 3.4 4.7 -3.4 4.7zM209.6 535.2l3.4 -4.7 3.4 4.7 -3.4 4.7zM277.5 513.7l3.4 -4.7 3.4 4.7 -3.4 4.7zM208.2 517.9l3.4 -4.7 3.4 4.7 -3.4 4.7zM210.1 515.7l3.4 -4.7 3.4 4.7 -3.4 4.7zM237.2 519.3l3.4 -4.7 3.4 4.7 -3.4 4.7zM289.1 506.3l3.4 -4.7 3.4 4.7 -3.4 4.7zM264.3 517.3l3.4 -4.7 3.4 4.7 -3.4 4.7zM199.0 513.5l3.4 -4.7 3.4 4.7 -3.4 4.7zM196.7 524.1l3.4 -4.7 3.4 4.7 -3.4 4.7zM180.1 510.5l3.4 -4.7 3.4 4.7 -3.4 4.7zM294.4 503.0l3.4 -4.7 3.4 4.7 -3.4 4.7zM243.9 513.6l3.4 -4.7 3.4 4.7 -3.4 4.7zM274.6 522.3l3.4 -4.7 3.4 4.7 -3.4 4.7zM229.1 521.9l3.4 -4.7 3.4 4.7 -3.4 4.7zM340.3 519.5l3.4 -4.7 3.4 4.7 -3.4 4.7zM270.3 509.4l3.4 -4.7 3.4 4.7 -3.4 4.7zM225.9 510.1l3.4 -4.7 3.4 4.7 -3.4 4.7zM273.0 514.0l3.4 -4.7 3.4 4.7 -3.4 4.7zM213.4 504.1l3.4 -4.7 3.4 4.7 -3.4 4.7zM254.7 523.4l3.4 -4.7 3.4 4.7 -3.4 4.7zM340.8 508.1l3.4 -4.7 3.4 4.7 -3.4 4.7zM226.8 523.9l3.4 -4.7 3.4 4.7 -3.4 4.7zM187.3 516.4l3.4 -4.7 3.4 4.7 -3.4 4.7zM274.0 511.5l3.4 -4.7 3.4 4.7 -3.4 4.7zM228.0 522.2l3.4 -4.7 3.4 4.7 -3.4 4.7zM341.7 511.1l3.4 -4.7 3.4 4.7 -3.4 4.7zM215.2 519.0l3.4 -4.7 3.4 4.7 -3.4 4.7zM320.8 519.3l3.4 -4.7 3.4 4.7 -3.4 4.7zM225.8 526.2l3.4 -4.7 3.4 4.7 -3.4 4.7zM210.2 523.6l3.4 -4.7 3.4 4.7 -3.4 4.7zM234.2 516.3l3.4 -4.7 3.4 4.7 -3.4 4.7zM336.4 508.2l3.4 -4.7 3.4 4.7 -3.4 4.7zM312.2 530.2l3.4 -4.7 3.4 4.7 -3.4 4.7zM215.6 501.9l3.4 -4.7 3.4 4.7 -3.4 4.7zM315.0 506.8l3.4 -4.7 3.4 4.7 -3.4 4.7zM207.7 519.5l3.4 -4.7 3.4 4.7 -3.4 4.7zM298.0 507.6l3.4 -4.7 3.4 4.7 -3.4 4.7zM217.7 524.0l3.4 -4.7 3.4 4.7 -3.4 4.7zM177.9 513.2l3.4 -4.7 3.4 4.7 -3.4 4.7zM245.3 499.1l3.4 -4.7 3.4 4.7 -3.4 4.7zM284.6 505.6l3.4 -4.7 3.4 4.7 -3.4 4.7zM272.0 504.7l3.4 -4.7 3.4 4.7 -3.4 4.7zM254.3 515.0l3.4 -4.7 3.4 4.7 -3.4 4.7zM368.8 505.7l3.4 -4.7 3.4 4.7 -3.4 4.7zM195.9 514.7l3.4 -4.7 3.4 4.7 -3.4 4.7zM224.2 505.1l3.4 -4.7 3.4 4.7 -3.4 4.7zM281.1 517.6l3.4 -4.7 3.4 4.7 -3.4 4.7zM186.4 518.9l3.4 -4.7 3.4 4.7 -3.4 4.7zM296.6 518.5l3.4 -4.7 3.4 4.7 -3.4 4.7zM197.4 518.7l3.4 -4.7 3.4 4.7 -3.4 4.7zM190.3 511.5l3.4 -4.7 3.4 4.7 -3.4 4.7zM210.5 529.6l3.4 -4.7 3.4 4.7 -3.4 4.7zM197.1 513.7l3.4 -4.7 3.4 4.7 -3.4 4.7zM103.8 493.1l3.4 -4.7 3.4 4.7 -3.4 4.7zM108.4 493.5l3.4 -4.7 3.4 4.7 -3.4 4.7zM95.1 501.5l3.4 -4.7 3.4 4.7 -3.4 4.7zM84.3 515.7l3.4 -4.7 3.4 4.7 -3.4 4.7zM78.1 523.1l3.4 -4.7 3.4 4.7 -3.4 4.7zM82.0 532.3l3.4 -4.7 3.4 4.7 -3.4 4.7zM88.9 528.9l3.4 -4.7 3.4 4.7 -3.4 4.7zM98.1 510.8l3.4 -4.7 3.4 4.7 -3.4 4.7zM99.7 516.2l3.4 -4.7 3.4 4.7 -3.4 4.7zM102.0 520.0l3.4 -4.7 3.4 4.7 -3.4 4.7zM104.3 524.6l3.4 -4.7 3.4 4.7 -3.4 4.7zM112.0 520.8l3.4 -4.7 3.4 4.7 -3.4 4.7zM114.3 510.8l3.4 -4.7 3.4 4.7 -3.4 4.7zM119.7 510.8l3.4 -4.7 3.4 4.7 -3.4 4.7zM122.8 520.0l3.4 -4.7 3.4 4.7 -3.4 4.7zM125.1 524.6l3.4 -4.7 3.4 4.7 -3.4 4.7zM123.5 533.1l3.4 -4.7 3.4 4.7 -3.4 4.7zM125.8 538.5l3.4 -4.7 3.4 4.7 -3.4 4.7zM129.7 510.8l3.4 -4.7 3.4 4.7 -3.4 4.7zM131.2 508.5l3.4 -4.7 3.4 4.7 -3.4 4.7zM135.1 520.8l3.4 -4.7 3.4 4.7 -3.4 4.7zM138.9 521.5l3.4 -4.7 3.4 4.7 -3.4 4.7zM143.5 530.8l3.4 -4.7 3.4 4.7 -3.4 4.7zM136.6 548.8l3.4 -4.7 3.4 4.7 -3.4 4.7zM160.2 488.4l3.4 -4.7 3.4 4.7 -3.4 4.7zM131.3 509.2l3.4 -4.7 3.4 4.7 -3.4 4.7zM145.4 509.9l3.4 -4.7 3.4 4.7 -3.4 4.7zM154.9 509.2l3.4 -4.7 3.4 4.7 -3.4 4.7zM160.9 509.2l3.4 -4.7 3.4 4.7 -3.4 4.7zM177.7 502.5l3.4 -4.7 3.4 4.7 -3.4 4.7zM183.1 502.5l3.4 -4.7 3.4 4.7 -3.4 4.7zM134.7 520.7l3.4 -4.7 3.4 4.7 -3.4 4.7zM140.1 518.6l3.4 -4.7 3.4 4.7 -3.4 4.7zM144.1 530.8l3.4 -4.7 3.4 4.7 -3.4 4.7zM152.8 530.1l3.4 -4.7 3.4 4.7 -3.4 4.7zM148.1 536.8l3.4 -4.7 3.4 4.7 -3.4 4.7zM154.9 539.5l3.4 -4.7 3.4 4.7 -3.4 4.7zM162.9 531.4l3.4 -4.7 3.4 4.7 -3.4 4.7zM173.7 536.1l3.4 -4.7 3.4 4.7 -3.4 4.7zM182.5 532.1l3.4 -4.7 3.4 4.7 -3.4 4.7zM138.5 548.5l3.4 -4.7 3.4 4.7 -3.4 4.7zM167.9 546.2l3.4 -4.7 3.4 4.7 -3.4 4.7zM191.0 547.1l3.4 -4.7 3.4 4.7 -3.4 4.7zM163.1 531.2l3.4 -4.7 3.4 4.7 -3.4 4.7zM174.3 536.2l3.4 -4.7 3.4 4.7 -3.4 4.7zM182.4 531.7l3.4 -4.7 3.4 4.7 -3.4 4.7zM190.1 535.6l3.4 -4.7 3.4 4.7 -3.4 4.7zM145.8 510.6l3.4 -4.7 3.4 4.7 -3.4 4.7zM153.5 509.6l3.4 -4.7 3.4 4.7 -3.4 4.7zM178.5 502.9l3.4 -4.7 3.4 4.7 -3.4 4.7zM210.3 495.2l3.4 -4.7 3.4 4.7 -3.4 4.7zM224.6 489.4l3.4 -4.7 3.4 4.7 -3.4 4.7zM225.3 488.5l3.4 -4.7 3.4 4.7 -3.4 4.7zM254.1 494.2l3.4 -4.7 3.4 4.7 -3.4 4.7zM272.4 495.2l3.4 -4.7 3.4 4.7 -3.4 4.7zM287.8 488.5l3.4 -4.7 3.4 4.7 -3.4 4.7zM311.8 492.7l3.4 -4.7 3.4 4.7 -3.4 4.7zM244.5 537.5l3.4 -4.7 3.4 4.7 -3.4 4.7zM270.4 539.4l3.4 -4.7 3.4 4.7 -3.4 4.7zM287.8 540.4l3.4 -4.7 3.4 4.7 -3.4 4.7zM302.2 532.7l3.4 -4.7 3.4 4.7 -3.4 4.7zM351.8 486.5l3.4 -4.7 3.4 4.7 -3.4 4.7zM371.6 490.4l3.4 -4.7 3.4 4.7 -3.4 4.7zM312.4 493.3l3.4 -4.7 3.4 4.7 -3.4 4.7zM388.3 496.2l3.4 -4.7 3.4 4.7 -3.4 4.7zM391.2 499.0l3.4 -4.7 3.4 4.7 -3.4 4.7zM404.6 487.5l3.4 -4.7 3.4 4.7 -3.4 4.7zM320.4 543.3l3.4 -4.7 3.4 4.7 -3.4 4.7zM324.9 541.3l3.4 -4.7 3.4 4.7 -3.4 4.7zM370.1 546.2l3.4 -4.7 3.4 4.7 -3.4 4.7zM360.1 534.6l3.4 -4.7 3.4 4.7 -3.4 4.7zM380.6 526.0l3.4 -4.7 3.4 4.7 -3.4 4.7zM385.4 531.7l3.4 -4.7 3.4 4.7 -3.4 4.7zM380.6 505.8l3.4 -4.7 3.4 4.7 -3.4 4.7zM399.9 503.8l3.4 -4.7 3.4 4.7 -3.4 4.7zM394.1 522.1l3.4 -4.7 3.4 4.7 -3.4 4.7zM406.4 488.0l3.4 -4.7 3.4 4.7 -3.4 4.7zM453.8 516.4l3.4 -4.7 3.4 4.7 -3.4 4.7zM447.6 516.4l3.4 -4.7 3.4 4.7 -3.4 4.7zM437.9 515.0l3.4 -4.7 3.4 4.7 -3.4 4.7zM424.0 506.6l3.4 -4.7 3.4 4.7 -3.4 4.7zM420.3 526.2l3.4 -4.7 3.4 4.7 -3.4 4.7zM413.3 527.6l3.4 -4.7 3.4 4.7 -3.4 4.7zM416.7 505.2l3.4 -4.7 3.4 4.7 -3.4 4.7zM411.1 506.6l3.4 -4.7 3.4 4.7 -3.4 4.7zM418.4 512.2l3.4 -4.7 3.4 4.7 -3.4 4.7zM407.2 517.8l3.4 -4.7 3.4 4.7 -3.4 4.7zM399.4 505.2l3.4 -4.7 3.4 4.7 -3.4 4.7zM398.8 522.0l3.4 -4.7 3.4 4.7 -3.4 4.7zM371.4 490.6l3.4 -4.7 3.4 4.7 -3.4 4.7zM387.3 495.9l3.4 -4.7 3.4 4.7 -3.4 4.7zM390.4 499.0l3.4 -4.7 3.4 4.7 -3.4 4.7zM358.7 505.4l3.4 -4.7 3.4 4.7 -3.4 4.7zM370.4 504.3l3.4 -4.7 3.4 4.7 -3.4 4.7zM380.9 506.4l3.4 -4.7 3.4 4.7 -3.4 4.7zM386.2 508.6l3.4 -4.7 3.4 4.7 -3.4 4.7zM400.0 504.3l3.4 -4.7 3.4 4.7 -3.4 4.7zM410.5 506.4l3.4 -4.7 3.4 4.7 -3.4 4.7zM416.9 505.0l3.4 -4.7 3.4 4.7 -3.4 4.7zM424.3 506.4l3.4 -4.7 3.4 4.7 -3.4 4.7zM419.0 510.7l3.4 -4.7 3.4 4.7 -3.4 4.7zM438.0 513.8l3.4 -4.7 3.4 4.7 -3.4 4.7zM453.5 516.0l3.4 -4.7 3.4 4.7 -3.4 4.7zM407.4 518.1l3.4 -4.7 3.4 4.7 -3.4 4.7zM401.0 522.3l3.4 -4.7 3.4 4.7 -3.4 4.7zM395.7 522.3l3.4 -4.7 3.4 4.7 -3.4 4.7zM390.4 523.4l3.4 -4.7 3.4 4.7 -3.4 4.7zM380.9 525.5l3.4 -4.7 3.4 4.7 -3.4 4.7zM385.2 531.8l3.4 -4.7 3.4 4.7 -3.4 4.7zM412.7 527.6l3.4 -4.7 3.4 4.7 -3.4 4.7zM420.1 526.1l3.4 -4.7 3.4 4.7 -3.4 4.7zM359.8 535.0l3.4 -4.7 3.4 4.7 -3.4 4.7zM367.2 523.4l3.4 -4.7 3.4 4.7 -3.4 4.7zM373.5 524.4l3.4 -4.7 3.4 4.7 -3.4 4.7zM405.3 511.7l3.4 -4.7 3.4 4.7 -3.4 4.7zM393.6 512.8l3.4 -4.7 3.4 4.7 -3.4 4.7z"/><line x1="80.3" y1="519.1" x2="459.8" y2="513.4" stroke="#000" stroke-width="2"/><text class="S" x="170.95" y="568.67" font-size="16.3" letter-spacing="0.1"><tspan font-style="italic">P</tspan> &lt; .001</text><rect x="223.96" y="566.59" width="3.75" height="3.58" fill="#fff"/><rect x="229.33" y="566.59" width="3.62" height="3.58" fill="#fff"/><rect x="38" y="468.3" width="451.5" height="101.4" fill="none" stroke="#383838" stroke-width="1.7"/><text class="S" x="-0.07" y="458.88" font-size="31.5" font-weight="bold">C</text><text class="S" x="230.10" y="625.48" font-size="14.0">Ln (% F-cells)</text><text class="S" transform="translate(23.08,546.85) rotate(-90)" font-size="14.0">MCV (fl)</text><text class="R" x="378.88" y="482.08" font-size="14.0">y=0.8891x+90.299</text><text class="S" x="33.73" y="597.17" font-size="14.4" letter-spacing="0.45">-1</text><rect x="39.11" y="595.25" width="3.39" height="3.42" fill="#fff"/><rect x="43.94" y="595.25" width="3.28" height="3.42" fill="#fff"/><text class="S" x="79.67" y="597.30" font-size="14.4" letter-spacing="0.45">-0.5</text><text class="S" x="136.00" y="597.30" font-size="14.4" letter-spacing="0.45">0</text><text class="S" x="181.80" y="597.30" font-size="14.4" letter-spacing="0.45">0.5</text><text class="S" x="237.22" y="597.17" font-size="14.4" letter-spacing="0.45">1</text><rect x="237.36" y="595.25" width="3.39" height="3.42" fill="#fff"/><rect x="242.20" y="595.25" width="3.28" height="3.42" fill="#fff"/><text class="S" x="282.57" y="597.17" font-size="14.4" letter-spacing="0.45">1.5</text><rect x="282.71" y="595.25" width="3.39" height="3.42" fill="#fff"/><rect x="287.55" y="595.25" width="3.28" height="3.42" fill="#fff"/><text class="S" x="336.75" y="597.30" font-size="14.4" letter-spacing="0.45">2</text><text class="S" x="382.60" y="597.30" font-size="14.4" letter-spacing="0.45">2.5</text><text class="S" x="436.50" y="597.30" font-size="14.4" letter-spacing="0.45">3</text><text class="S" x="483.35" y="597.30" font-size="14.4" letter-spacing="0.45">3.5</text></svg>
</body></html>
